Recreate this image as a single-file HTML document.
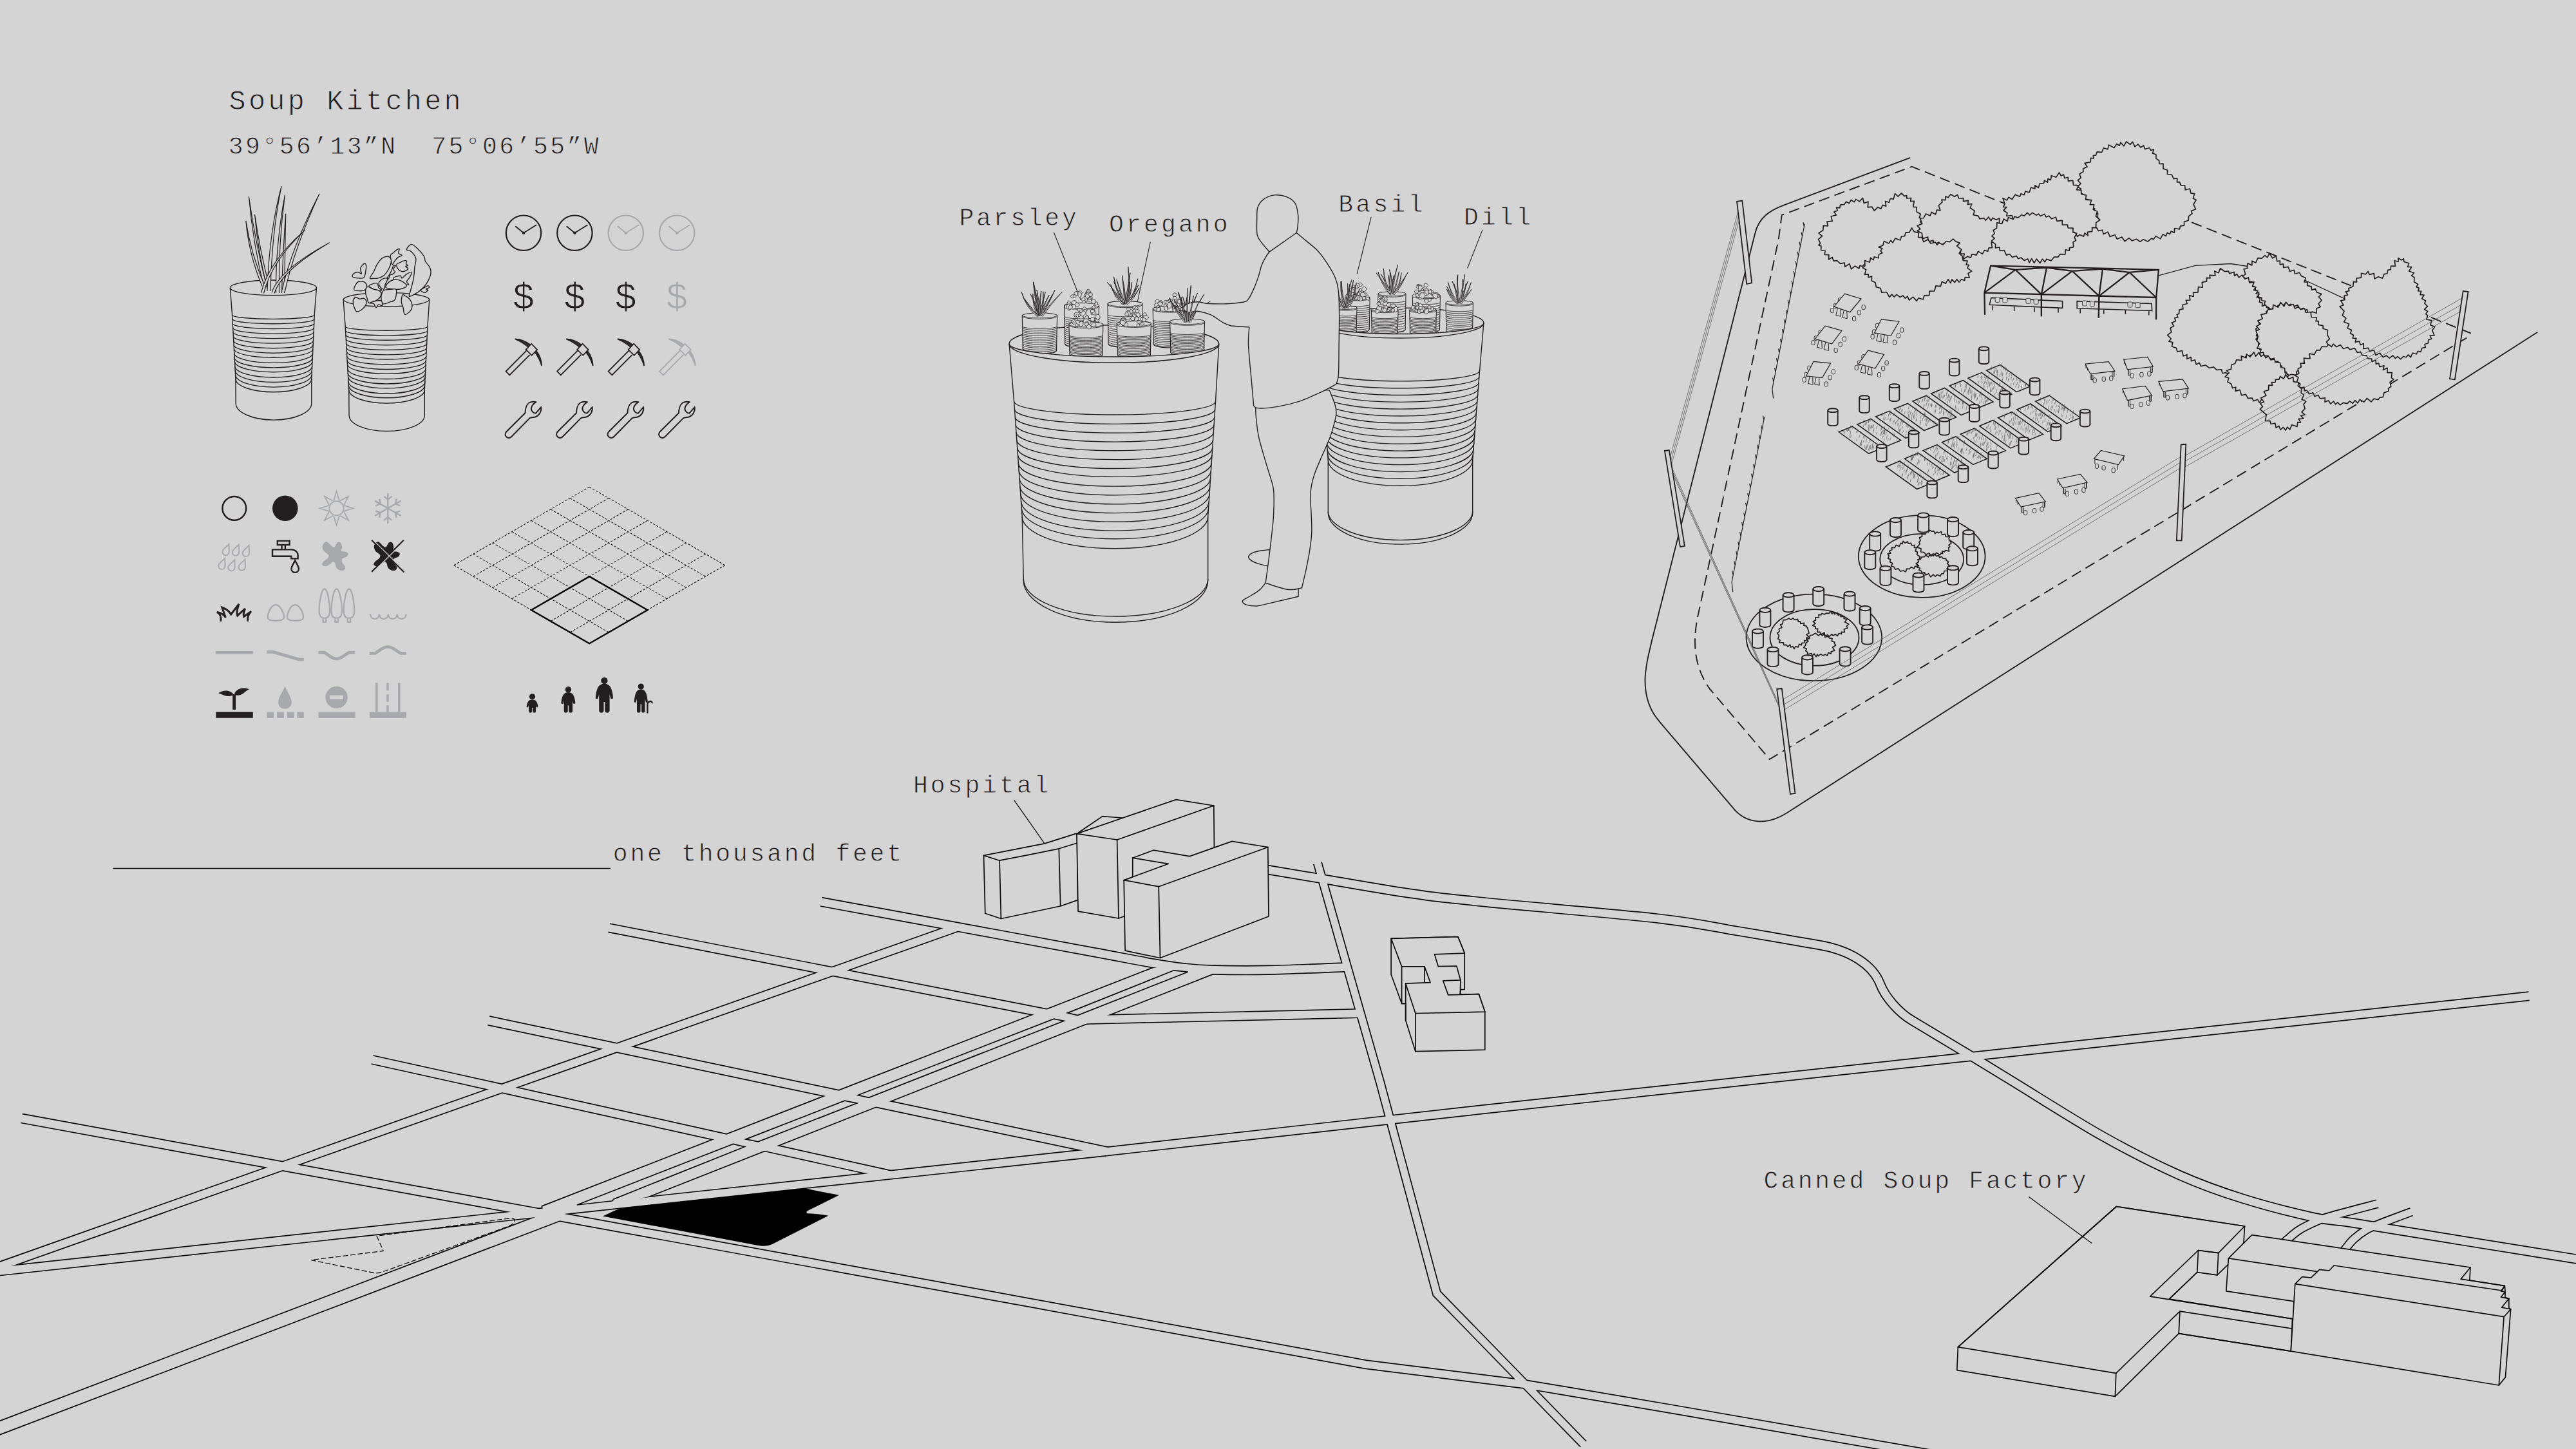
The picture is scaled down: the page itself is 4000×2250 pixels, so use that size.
<!DOCTYPE html>
<html><head><meta charset="utf-8"><title>Soup Kitchen</title>
<style>
html,body{margin:0;padding:0;background:#d4d4d4;overflow:hidden;width:4000px;height:2250px;}
svg{display:block;}
text{font-family:"Liberation Mono",monospace;fill:#231f20;}
.s{font-family:"Liberation Sans",sans-serif;}
</style></head><body>
<svg width="4000" height="2250" viewBox="0 0 4000 2250">
<rect width="4000" height="2250" fill="#d4d4d4"/>
<g id="map">
<g fill="none" stroke="#0c0c0c" stroke-linejoin="miter" stroke-linecap="butt">
<path d="M-60 2239.9 L866 1886.6" stroke-width="21.8"/>
<path d="M33.5 1736.6 L852 1886.4" stroke-width="15.8"/>
<path d="M845 1885.1 L1600 2023 L2120.1 2118.6 L2367.1 2149.3 L2426.1 2159.1 L2600 2188.7 L2953 2250 L3020 2261.6" stroke-width="14.8"/>
<path d="M-60 1987.3 L1488 1439.3" stroke-width="15"/>
<path d="M-60 1980.2 L0 1973.7 L870 1879.7" stroke-width="15.4"/>
<path d="M860 1880.8 L1700 1790 L2300 1723 L3300 1614.7 L3927 1546.8" stroke-width="15"/>
<path d="M578 1645.5 L700 1672.5 L1207.5 1785.3 L1383 1824.3" stroke-width="15"/>
<path d="M758.8 1584.8 L1292 1697.7 L1719 1788" stroke-width="15.7"/>
<path d="M945.7 1440.8 L1640 1576.4" stroke-width="15"/>
<path d="M1275 1400.3C1312.5 1407.2 1429.2 1428.7 1500 1441.8C1570.8 1454.9 1651.5 1469.9 1700 1478.9C1748.5 1487.9 1767.7 1491.8 1791 1495.8C1814.3 1499.8 1824.5 1501.3 1840 1503C1855.5 1504.7 1862.5 1505.5 1884 1506C1905.5 1506.5 1934.3 1507 1969 1506.3C2003.7 1505.6 2071.5 1502.5 2092 1501.8" stroke-width="15.4"/>
<path d="M1660 1584 L2112 1573.5" stroke-width="15.2"/>
<path d="M2045.9 1340 L2142.9 1680 L2231 2008.5 L2458.8 2242.5" stroke-width="14.4"/>
<path d="M1940 1345.5C1944.9 1346.4 1951.4 1347.7 1969.2 1350.7C1987 1353.7 2010.8 1357.7 2047.1 1363.7C2083.4 1369.7 2144.7 1380.8 2186.8 1386.9C2229 1393 2235.2 1393.7 2300 1400.3C2364.8 1406.9 2508.7 1418.7 2575.4 1426.3C2642.1 1433.9 2658.7 1439.2 2700 1446C2741.3 1452.8 2802.7 1463.7 2823.2 1467.2C2873.6 1475.5 2908.4 1498.7 2919.6 1528.2C2927.3 1548.4 2948.5 1572.3 2968.8 1584.4L2968.8 1584.4C2982.9 1592.9 3027.3 1619.4 3053.3 1635.2C3079.3 1651 3089.6 1657.4 3125 1679C3160.4 1700.6 3222.4 1740.4 3265.5 1764.6C3308.6 1788.8 3347.5 1808.3 3383.6 1824.4C3419.7 1840.5 3446.8 1850 3481.9 1861C3517 1872 3565.2 1884.2 3594 1890.5C3622.8 1896.8 3620.7 1893.7 3655 1899.1C3689.3 1904.5 3732.5 1911.8 3800 1922.7C3867.5 1933.6 4016.7 1957.6 4060 1964.6" stroke-width="15.4"/>
<path d="M3691.7 1869.2C3679.3 1872.5 3633.5 1884.4 3617.6 1889C3601.7 1893.6 3604.3 1893.2 3596.4 1896.7C3588.5 1900.2 3577.4 1905.3 3570 1910C3562.6 1914.7 3556.9 1920.3 3551.9 1924.6C3546.9 1928.9 3542 1934.1 3540 1936" stroke-width="14"/>
<path d="M3744.5 1881.7C3735.9 1884.9 3704.8 1896.4 3693.1 1901.1C3681.4 1905.8 3680.4 1906 3674.1 1909.8C3667.8 1913.6 3660.2 1919.3 3655 1924C3649.8 1928.7 3646.5 1933.5 3642.7 1938.2C3638.9 1942.9 3633.8 1949.7 3632 1952" stroke-width="14"/>
<path d="M842.3 1873.4 L1791.4 1502.9 L1850 1500 L1888 1506 L1885.5 1511.1 L1004.5 1858.8 L930 1874 L860 1888 L843 1880Z" stroke-width="3.4"/>
</g>
<g fill="none" stroke="#d4d4d4" stroke-linejoin="miter" stroke-linecap="butt">
<path d="M-61.1 2240.3 L-60 2239.9 L866 1886.6 L867.1 1886.2" stroke-width="18.4"/>
<path d="M32.3 1736.4 L33.5 1736.6 L852 1886.4 L853.2 1886.6" stroke-width="12.4"/>
<path d="M843.8 1884.9 L845 1885.1 L1600 2023 L2120.1 2118.6 L2367.1 2149.3 L2426.1 2159.1 L2600 2188.7 L2953 2250 L3020 2261.6 L3021.2 2261.8" stroke-width="11.4"/>
<path d="M-61.1 1987.7 L-60 1987.3 L1488 1439.3 L1489.1 1438.9" stroke-width="11.6"/>
<path d="M-61.2 1980.3 L-60 1980.2 L0 1973.7 L870 1879.7 L871.2 1879.6" stroke-width="12"/>
<path d="M858.8 1880.9 L860 1880.8 L1700 1790 L2300 1723 L3300 1614.7 L3927 1546.8 L3928.2 1546.7" stroke-width="11.6"/>
<path d="M576.8 1645.2 L578 1645.5 L700 1672.5 L1207.5 1785.3 L1383 1824.3 L1384.2 1824.6" stroke-width="11.6"/>
<path d="M757.6 1584.6 L758.8 1584.8 L1292 1697.7 L1719 1788 L1720.2 1788.2" stroke-width="12.3"/>
<path d="M944.5 1440.6 L945.7 1440.8 L1640 1576.4 L1641.2 1576.6" stroke-width="11.6"/>
<path d="M1273.8 1400.1 L1275 1400.3C1312.5 1407.2 1429.2 1428.7 1500 1441.8C1570.8 1454.9 1651.5 1469.9 1700 1478.9C1748.5 1487.9 1767.7 1491.8 1791 1495.8C1814.3 1499.8 1824.5 1501.3 1840 1503C1855.5 1504.7 1862.5 1505.5 1884 1506C1905.5 1506.5 1934.3 1507 1969 1506.3C2003.7 1505.6 2071.5 1502.5 2092 1501.8 L2093.2 1501.8" stroke-width="12"/>
<path d="M1658.8 1584 L1660 1584 L2112 1573.5 L2113.2 1573.5" stroke-width="11.8"/>
<path d="M2045.6 1338.8 L2045.9 1340 L2142.9 1680 L2231 2008.5 L2458.8 2242.5 L2459.6 2243.4" stroke-width="11"/>
<path d="M1940 1345.5C1944.9 1346.4 1951.4 1347.7 1969.2 1350.7C1987 1353.7 2010.8 1357.7 2047.1 1363.7C2083.4 1369.7 2144.7 1380.8 2186.8 1386.9C2229 1393 2235.2 1393.7 2300 1400.3C2364.8 1406.9 2508.7 1418.7 2575.4 1426.3C2642.1 1433.9 2658.7 1439.2 2700 1446C2741.3 1452.8 2802.7 1463.7 2823.2 1467.2C2873.6 1475.5 2908.4 1498.7 2919.6 1528.2C2927.3 1548.4 2948.5 1572.3 2968.8 1584.4L2968.8 1584.4C2982.9 1592.9 3027.3 1619.4 3053.3 1635.2C3079.3 1651 3089.6 1657.4 3125 1679C3160.4 1700.6 3222.4 1740.4 3265.5 1764.6C3308.6 1788.8 3347.5 1808.3 3383.6 1824.4C3419.7 1840.5 3446.8 1850 3481.9 1861C3517 1872 3565.2 1884.2 3594 1890.5C3622.8 1896.8 3620.7 1893.7 3655 1899.1C3689.3 1904.5 3732.5 1911.8 3800 1922.7C3867.5 1933.6 4016.7 1957.6 4060 1964.6" stroke-width="12"/>
<path d="M3692.9 1868.9 L3691.7 1869.2C3679.3 1872.5 3633.5 1884.4 3617.6 1889C3601.7 1893.6 3604.3 1893.2 3596.4 1896.7C3588.5 1900.2 3577.4 1905.3 3570 1910C3562.6 1914.7 3556.9 1920.3 3551.9 1924.6C3546.9 1928.9 3542 1934.1 3540 1936 L3539.1 1936.8" stroke-width="10.6"/>
<path d="M3745.6 1881.3 L3744.5 1881.7C3735.9 1884.9 3704.8 1896.4 3693.1 1901.1C3681.4 1905.8 3680.4 1906 3674.1 1909.8C3667.8 1913.6 3660.2 1919.3 3655 1924C3649.8 1928.7 3646.5 1933.5 3642.7 1938.2C3638.9 1942.9 3633.8 1949.7 3632 1952 L3631.3 1952.9" stroke-width="10.6"/>
<path d="M842.3 1873.4 L1791.4 1502.9 L1850 1500 L1888 1506 L1885.5 1511.1 L1004.5 1858.8 L930 1874 L860 1888 L843 1880Z" fill="#d4d4d4" stroke="none"/>
</g>
<g fill="#d4d4d4" stroke="#0c0c0c" stroke-width="1.7" stroke-linejoin="miter">
<path d="M895.9 1871 L1138.6 1776.4 L1156.3 1780.7 L952.5 1862.1 L951 1864.8Z"/>
<path d="M1158.3 1768.9 L1311.7 1709.1 L1330.6 1713.1 L1177.2 1772.9Z"/>
<path d="M1332.2 1700.5 L1636.3 1582.1 L1652 1585.2 L1349.1 1704.4Z"/>
<path d="M1657.7 1572.9 L1822.9 1506.8 L1844.5 1509.2 L1673.4 1576.5Z"/>
</g>
<path d="M936 1888.5 C950 1882 958 1877 972 1875 L1242.9 1846 C1252 1845.5 1256 1846.5 1262.5 1848 L1303 1855.8 L1254.7 1879.8 C1251 1882 1252 1884 1256 1884.3 C1266 1884.5 1276 1886 1286.2 1887.7 L1199.6 1931.8 C1192 1935.5 1184 1935.5 1172 1933 Z" fill="#000"/>
<path d="M585 1919.2 L595.2 1942.4 L483.1 1956.6 L578 1976 Q586 1978 594 1975 L790 1904 Q802 1899 798 1892.5 L790 1892 Z" fill="none" stroke="#0c0c0c" stroke-width="1.3" stroke-dasharray="8 3.5"/>
<path d="M175.5 1348.5 H948" stroke="#0c0c0c" stroke-width="1.4" fill="none"/>
</g>
<g id="buildings">
<g fill="#d4d4d4" stroke="#0c0c0c" stroke-width="1.7" stroke-linejoin="round" stroke-linecap="round">
<path d="M1674.8 1292.7 L1711.9 1267.6 L1742.9 1270 L1760 1300 L1690 1320Z"/>
<path d="M1527.5 1328.4 L1622 1309.9 L1672.5 1293.9 L1673.6 1397.6 L1646.7 1407 Q1600 1417 1554.4 1426.5 L1529.8 1418.3 Z"/>
<path d="M1527.5 1328.4 L1552.1 1336.2 Q1600 1327 1644.3 1317.8 L1672 1309.2" fill="none"/>
<path d="M1552.1 1336.2 L1554.4 1426.5" fill="none"/>
<path d="M1644.3 1317.8 L1646.7 1407" fill="none"/>
<path d="M1672 1294.6 L1826.2 1241.6 L1884.8 1251 L1886 1370 L1745.2 1423 L1737 1426 L1674.1 1415.2Z"/>
<path d="M1672 1294.6 L1734.6 1304 L1884.8 1251" fill="none"/>
<path d="M1734.6 1304 L1737 1426" fill="none"/>
<path d="M1758.8 1332.2 L1791 1320.2 L1847.3 1329.6 L1913 1306.4 L1968.8 1315.5 L1970 1423 L1801.5 1487.5 L1747.1 1476.2 L1745.2 1366.7 L1758.8 1361.7Z"/>
<path d="M1758.8 1332.2 L1814.4 1341.3 L1745.2 1366.7" fill="none"/>
<path d="M1745.2 1366.7 L1799.2 1376.7 L1968.8 1315.5" fill="none"/>
<path d="M1799.2 1376.7 L1801.5 1487.5" fill="none"/>
<path d="M2160.1 1457.3 L2263.9 1454.6 L2274.2 1480.1 L2274.2 1536.3 L2267.9 1536.7 L2267.4 1544.2 L2296.3 1543.6 L2305.8 1571.2 L2305.8 1630.1 L2197.9 1632.7 L2182.7 1584.6 L2182.7 1558.3 L2176.6 1558.3 L2160.1 1513.2Z"/>
<path d="M2160.1 1457.3 L2263.9 1454.6 L2274.2 1480.1 L2227.6 1481.9 L2233.2 1500.6 L2261.8 1500.1 L2267.9 1521.9 L2240.8 1522.9 L2248.7 1544.9 L2296.3 1543.6 L2305.8 1571.2 L2197.9 1573.5 L2182.7 1527.2 L2221.1 1525.7 L2212 1500.9 L2176.6 1500.9Z"/>
<path d="M2176.6 1500.9 L2176.6 1558.3" fill="none"/>
<path d="M2182.7 1527.2 L2182.7 1584.6" fill="none"/>
<path d="M2197.9 1573.5 L2197.9 1632.7" fill="none"/>
<path d="M2212 1500.9 L2212 1526" fill="none"/>
<path d="M2267.9 1521.9 L2267.4 1544.2" fill="none"/>
<path d="M2182.7 1558.3 L2176.6 1558.3" fill="none"/>
<path d="M3040.4 2091.7 L3286.3 1873.5 L3485.5 1904 L3484 1929.8 L3459.9 1963.3 L3443 1979.8 L3411.8 1975.5 L3368.4 2017.1 L3559.6 2047.8 L3557.3 2098.2 L3383.2 2070.6 L3284.4 2168.4 L3038.8 2127.6Z"/>
<path d="M3413.5 1941.5 L3444.7 1945.7 L3443 1979.8 L3411.8 1975.5Z"/>
<path d="M3411.8 1975.5 L3368.4 2017.1" fill="none"/>
<path d="M3444.7 1945.7 L3485.5 1904" fill="none"/>
<path d="M3040.4 2091.7 L3286.3 1873.5 L3485.5 1904" fill="none"/>
<path d="M3413.5 1941.5 L3444.7 1945.7" fill="none"/>
<path d="M3413.5 1941.5 L3338.6 2013.1 L3559.6 2047.8" fill="none"/>
<path d="M3384.9 2036.1 L3558.4 2063" fill="none"/>
<path d="M3285.8 2132.3 L3384.9 2036.1 L3383.2 2070.6" fill="none"/>
<path d="M3040.4 2091.7 L3285.8 2132.3 L3284.4 2168.4" fill="none"/>
<path d="M3383.2 2070.6 L3557.3 2098.2" fill="none"/>
<path d="M3460.4 1953.9 L3496.7 1917.6 L3836 1968 L3834.8 1988 L3889.3 1996.6 L3889.3 2010 L3563 2025 L3560.8 2020.6 L3456.8 2004.9Z"/>
<path d="M3460.4 1953.9 L3597.2 1974.4" fill="none"/>
<path d="M3836 1968 L3821.2 1986.1 L3889.3 1996.6" fill="none"/>
<path d="M3563.8 1993.6 L3574.9 1982.6 L3588.5 1984.2 L3601.8 1971.3 L3616.6 1973.2 L3624.1 1965 L3885 2004 L3889.3 1996.6 L3890 2006 L3890 2014.5 L3895.8 2016.6 L3895.8 2030.7 L3898.6 2033 L3890.4 2138.6 L3880.3 2151 L3557.3 2098.2Z"/>
<path d="M3563.8 1993.6 L3888.1 2044.7 L3898.6 2033" fill="none"/>
<path d="M3888.1 2044.7 L3880.3 2151" fill="none"/>
<path d="M3889.3 1996.6 L3883.4 2004.9 L3890 2006" fill="none"/>
<path d="M3890 2006 L3883.4 2014.2 L3895.8 2016.6" fill="none"/>
<path d="M3895.8 2016.6 L3884.6 2030.2 L3898.6 2033" fill="none"/>
</g>
<g stroke="#0c0c0c" stroke-width="1.3" fill="none"><path d="M1574.6 1242.3L1622 1309.9"/><path d="M3150.2 1858.2L3248.1 1930.5"/></g>
</g>
<g id="text">
<text x="355.6" y="170.3" font-size="43.5" letter-spacing="4.25" stroke="#d4d4d4" stroke-width="0.9" xml:space="preserve">Soup Kitchen</text>
<text x="354.8" y="239.1" font-size="38" letter-spacing="3.48" stroke="#d4d4d4" stroke-width="0.8" xml:space="preserve">39°56’13”N  75°06’55”W</text>
<text x="1489.4" y="350.3" font-size="38" letter-spacing="3.79" stroke="#d4d4d4" stroke-width="0.8" xml:space="preserve">Parsley</text>
<text x="1722" y="360.4" font-size="38" letter-spacing="4.17" stroke="#d4d4d4" stroke-width="0.8" xml:space="preserve">Oregano</text>
<text x="2078.2" y="329" font-size="38" letter-spacing="4.33" stroke="#d4d4d4" stroke-width="0.8" xml:space="preserve">Basil</text>
<text x="2273.1" y="348.5" font-size="38" letter-spacing="4.22" stroke="#d4d4d4" stroke-width="0.8" xml:space="preserve">Dill</text>
<text x="1418.1" y="1231.2" font-size="38" letter-spacing="3.96" stroke="#d4d4d4" stroke-width="0.8" xml:space="preserve">Hospital</text>
<text x="951.8" y="1336.8" font-size="38" letter-spacing="3.78" stroke="#d4d4d4" stroke-width="0.8" xml:space="preserve">one thousand feet</text>
<text x="2738.6" y="1844.8" font-size="38" letter-spacing="3.76" stroke="#d4d4d4" stroke-width="0.8" xml:space="preserve">Canned Soup Factory</text>
</g>
<g id="cans">
<path d="M357.3 446.8 A67.1 11.8 0 0 1 491.5 446.8 L488.4 486.4 L483.8 588.3 L483.8 626.2 A58.8 25.9 0 0 1 366.2 626.2 L365.9 588.3 L360.4 486.4 L357.3 446.8Z" fill="#d4d4d4" stroke="#231f20" stroke-width="1.4" stroke-linejoin="round"/>
<path d="M357.3 446.8 A67.1 11.8 0 0 0 491.5 446.8" fill="none" stroke="#231f20" stroke-width="1.4"/>
<path d="M360.5 489 A63.9 6.4 0 0 0 488.3 489M360.9 495.7 A63.6 7.3 0 0 0 488 495.7M361.2 502.3 A63.2 8.2 0 0 0 487.7 502.3M361.6 508.9 A62.9 9.2 0 0 0 487.4 508.9M361.9 515.5 A62.6 10.1 0 0 0 487.1 515.5M362.3 522.1 A62.2 11 0 0 0 486.8 522.1M362.7 528.7 A61.9 12 0 0 0 486.5 528.7M363 535.3 A61.6 12.9 0 0 0 486.2 535.3M363.4 542 A61.3 13.8 0 0 0 485.9 542M363.7 548.6 A60.9 14.8 0 0 0 485.6 548.6M364.1 555.2 A60.6 15.7 0 0 0 485.3 555.2M364.5 561.8 A60.3 16.6 0 0 0 485 561.8M364.8 568.4 A59.9 17.6 0 0 0 484.7 568.4M365.2 575 A59.6 18.5 0 0 0 484.4 575M365.5 581.7 A59.3 19.4 0 0 0 484.1 581.7M365.9 588.3 A58.9 20.4 0 0 0 483.8 588.3" fill="none" stroke="#231f20" stroke-width="1.4"/>
<path d="M415.1 448.4 Q396.8 379.5 386.4 305.2 Q393.2 380.5 410.7 449.6" fill="#d4d4d4" stroke="#231f20" stroke-width="1.2" stroke-linejoin="miter" stroke-miterlimit="10"/>
<path d="M410.8 443.2 Q389.5 394.3 381.8 342.9 Q386.5 395.7 407.2 444.8" fill="#d4d4d4" stroke="#231f20" stroke-width="1.2" stroke-linejoin="miter" stroke-miterlimit="10"/>
<path d="M418.4 445.5 Q403.6 389.6 395.6 333.1 Q400.4 390.4 414.6 446.5" fill="#d4d4d4" stroke="#231f20" stroke-width="1.2" stroke-linejoin="miter" stroke-miterlimit="10"/>
<path d="M420 452.1 Q422.1 360.1 437.1 289.2 Q417.9 359.9 415 451.9" fill="#d4d4d4" stroke="#231f20" stroke-width="1.2" stroke-linejoin="miter" stroke-miterlimit="10"/>
<path d="M433.5 455 Q432.1 380 442.4 302.6 Q427.9 380 428.5 455" fill="#d4d4d4" stroke="#231f20" stroke-width="1.2" stroke-linejoin="miter" stroke-miterlimit="10"/>
<path d="M441.5 455 Q442.7 390 443.7 331.8 Q439.3 390 437.5 455" fill="#d4d4d4" stroke="#231f20" stroke-width="1.2" stroke-linejoin="miter" stroke-miterlimit="10"/>
<path d="M442.4 452.5 Q457 385.5 495.9 301 Q453 384.5 437.6 451.5" fill="#d4d4d4" stroke="#231f20" stroke-width="1.2" stroke-linejoin="miter" stroke-miterlimit="10"/>
<path d="M409.5 455.5 Q421.7 405.4 473.6 357.4 Q418.3 404.6 405.5 454.5" fill="#d4d4d4" stroke="#231f20" stroke-width="1.2" stroke-linejoin="miter" stroke-miterlimit="10"/>
<path d="M426 455.6 Q436.7 420.5 511.6 376.8 Q433.3 419.5 422 454.4" fill="#d4d4d4" stroke="#231f20" stroke-width="1.2" stroke-linejoin="miter" stroke-miterlimit="10"/>
<path d="M533.1 465.2 A66.9 11.3 0 0 1 666.8 465.2 L664 505.9 L659.3 605.3 L659.3 644.9 A58.6 24.6 0 0 1 542.1 644.9 L541.7 605.3 L536.1 505.9 L533.1 465.2Z" fill="#d4d4d4" stroke="#231f20" stroke-width="1.4" stroke-linejoin="round"/>
<path d="M533.1 465.2 A66.9 11.3 0 0 0 666.8 465.2" fill="none" stroke="#231f20" stroke-width="1.4"/>
<path d="M536.2 506.9 A63.9 6.4 0 0 0 664 506.9M536.5 513.5 A63.6 7.4 0 0 0 663.7 513.5M536.9 520 A63.2 8.3 0 0 0 663.4 520M537.3 526.6 A62.9 9.3 0 0 0 663.1 526.6M537.6 533.2 A62.6 10.2 0 0 0 662.8 533.2M538 539.7 A62.2 11.2 0 0 0 662.4 539.7M538.4 546.3 A61.9 12.2 0 0 0 662.1 546.3M538.7 552.9 A61.5 13.1 0 0 0 661.8 552.9M539.1 559.4 A61.2 14.1 0 0 0 661.5 559.4M539.5 566 A60.9 15 0 0 0 661.2 566M539.8 572.5 A60.5 16 0 0 0 660.9 572.5M540.2 579.1 A60.2 16.9 0 0 0 660.6 579.1M540.6 585.7 A59.9 17.9 0 0 0 660.3 585.7M540.9 592.2 A59.5 18.8 0 0 0 660 592.2M541.3 598.8 A59.2 19.8 0 0 0 659.6 598.8M541.7 605.3 A58.8 20.8 0 0 0 659.3 605.3" fill="none" stroke="#231f20" stroke-width="1.4"/>
<g fill="#d4d4d4" stroke="#231f20" stroke-width="1.4" stroke-linejoin="round">
<path d="M639 379.4C642 379.3 646.1 384 649.3 387C652.5 390.1 656.4 394.7 658.3 397.8C660.2 401 659 403 660.5 405.9C662 408.7 665.8 411.9 667.3 414.9C668.7 417.8 669.3 420.5 669.1 423.8C668.8 427.1 667.1 431.2 665.5 434.6C663.8 438 661.9 441.3 659.2 444.5C656.5 447.6 653.2 450.8 649.3 453.4C645.4 456 637.8 460.6 635.9 460.2C633.9 459.7 636.6 455.3 637.7 450.7C638.7 446.2 641.1 438.8 642.1 432.8C643.2 426.8 643.3 420.1 643.9 414.9C644.5 409.6 646.6 405.4 645.7 401.4C644.8 397.4 640.9 393 638.5 390.6C636.2 388.3 631.3 389.4 631.4 387.5C631.4 385.6 636 379.5 639 379.4Z"/>
<path d="M652.9 450.7C652.8 449.5 656.3 448.3 658.3 447.2C660.2 446 663.2 443.7 664.6 443.6C665.9 443.4 666.8 445.4 666.4 446.3C665.9 447.2 662.2 448.2 661.9 448.9C661.6 449.7 665 449.8 664.6 450.7C664.1 451.6 661.1 454.3 659.2 454.3C657.2 454.3 653.1 451.9 652.9 450.7Z"/>
<path d="M606.3 396.9C606.6 393.9 609.1 393.9 610.7 392.4C612.4 390.9 614.6 388.9 616.1 387.9C617.7 387 619.7 385.7 620.2 386.6C620.6 387.5 618.1 391.7 618.8 393.3C619.5 395 624.3 395.4 624.2 396.5C624 397.5 619.9 398 617.9 399.6C616 401.2 614 404.1 612.5 405.9C611 407.7 610 411.9 608.9 410.4C607.9 408.9 606 399.9 606.3 396.9Z"/>
<path d="M616.6 409.5C617.5 408.4 620.1 408.4 621.5 407.7C622.9 407 623.4 405.9 625.1 405.4C626.7 405 630.5 404.3 631.4 405C632.3 405.7 630.2 408.3 630.5 409.5C630.8 410.7 633.3 411.4 633.2 412.2C633 412.9 629.5 413.2 629.6 414C629.7 414.7 633.5 415.6 633.6 416.6C633.8 417.7 632 419.4 630.5 420.2C628.9 421.1 626.1 421.9 624.2 421.6C622.3 421.3 620.2 419.7 618.8 418.4C617.5 417.2 616.5 415.5 616.1 414C615.7 412.5 615.7 410.5 616.6 409.5Z"/>
<path d="M610.7 431.9C611 429.8 619.3 428.3 621.5 428.3C623.7 428.3 622.6 432.3 624.2 431.9C625.8 431.5 628.8 427.2 631.4 425.6C633.9 424.1 638.7 421.6 639.4 422.5C640.2 423.4 637.2 428.5 635.9 431C634.5 433.5 631.7 435.5 631.4 437.3C631.1 439.1 636 441.2 634.1 441.8C632.1 442.4 623.6 442.5 619.7 440.9C615.8 439.2 610.4 434 610.7 431.9Z"/>
<path d="M608 420.2C609.1 418 609.7 414.4 610.7 413.1C611.8 411.7 614.3 411.3 614.3 412.2C614.3 413.1 610.9 416.8 610.7 418.4C610.6 420.1 613.6 420.8 613.4 422C613.3 423.2 611.2 424.7 609.8 425.6C608.5 426.5 606.4 426.2 605.4 427.4C604.3 428.6 604.3 432 603.6 432.8C602.8 433.5 600.7 432.9 600.9 431.9C601 430.9 603.3 428.5 604.5 426.5C605.7 424.6 607 422.5 608 420.2Z"/>
<path d="M574.4 431.9C574.4 430.2 578.4 425.6 580.2 422C582.1 418.4 583.5 413.8 585.6 410.4C587.7 406.9 590.3 403.4 592.8 401.4C595.3 399.4 598.6 398.4 600.9 398.3C603.1 398.1 605.2 398.9 606.3 400.5C607.3 402.1 607.6 404.8 607.2 407.7C606.7 410.5 605.4 414.3 603.6 417.5C601.8 420.8 599.1 425 596.4 427.4C593.7 429.8 590.1 431.1 587.4 431.9C584.7 432.7 582.4 432.3 580.2 432.3C578.1 432.3 574.4 433.6 574.4 431.9Z"/>
<path d="M547.5 429.7C546.2 428.5 547.9 425.9 549.3 424.7C550.7 423.5 554 422.4 556 422.5C558 422.6 560.8 426.1 561.4 425.2C562 424.2 558.9 419.3 559.6 416.6C560.3 414 563.9 410.2 565.4 409.5C566.9 408.7 568.2 410.1 568.6 412.2C568.9 414.3 568.3 418.9 567.7 422C567.1 425.2 566.8 429.4 565 431C563.2 432.6 559.8 432.1 556.9 431.9C554 431.7 548.8 430.9 547.5 429.7Z"/>
<path d="M588.3 439.1C588.9 436.8 592.3 433.8 594.6 432.8C596.8 431.8 601.2 431.3 601.8 432.8C602.4 434.3 599.1 439.1 598.2 441.8C597.3 444.5 597.6 448.2 596.4 448.9C595.2 449.7 592.3 447.9 591 446.3C589.7 444.6 587.7 441.3 588.3 439.1Z"/>
<path d="M573.1 444.5C572.2 442.8 576.4 441.6 578.4 440.9C580.5 440.1 584 438.9 585.6 440C587.3 441 587.1 445.4 588.3 447.2C589.5 448.9 593.5 450.1 592.8 450.7C592 451.3 587.1 451.8 583.8 450.7C580.5 449.7 574 446.1 573.1 444.5Z"/>
<path d="M549.7 449.8C549 448.2 551.2 443.9 552.4 441.8C553.6 439.7 554.7 437.9 556.9 437.3C559.2 436.7 563.8 437 565.9 438.2C568 439.4 569.5 442.4 569.5 444.5C569.5 446.6 568 449.5 565.9 450.7C563.8 451.9 559.6 451.8 556.9 451.6C554.2 451.5 550.5 451.5 549.7 449.8Z"/>
<path d="M599.1 446.3C598.3 444.8 600.3 441.8 601.8 440C603.3 438.2 605.7 436.5 608 435.5C610.4 434.5 613.3 433.8 616.1 434.1C619 434.4 622.6 435.7 625.1 437.3C627.6 438.9 631.4 441.8 631.4 443.6C631.4 445.4 627.8 447.1 625.1 448C622.4 449 618.4 449.3 615.2 449.4C612.1 449.5 608.9 449 606.3 448.5C603.6 448 599.8 447.7 599.1 446.3Z"/>
<path d="M592.8 456.1C593.5 453.9 594.1 451.9 596.4 450.7C598.6 449.6 603.1 449.5 606.3 449.4C609.4 449.2 614 447.2 615.2 449.8C616.4 452.5 614.9 462 613.4 465.1C611.9 468.2 609.4 467.6 606.3 468.7C603.1 469.8 597 472.6 594.6 471.8C592.2 471.1 592.2 466.8 591.9 464.2C591.6 461.6 592 458.4 592.8 456.1Z"/>
<path d="M568.6 447.2C569.3 445.5 570.4 445.1 572.2 445.4C574 445.7 576.8 448 579.3 448.9C581.9 449.8 585.3 449.7 587.4 450.7C589.5 451.8 591.5 453.4 591.9 455.2C592.3 457 591.5 459.6 590.1 461.5C588.8 463.4 586.7 465.4 583.8 466.9C581 468.4 575.3 470.9 573.1 470.5C570.8 470 571.3 466.7 570.4 464.2C569.5 461.7 568 458.1 567.7 455.2C567.4 452.4 567.8 448.8 568.6 447.2Z"/>
<path d="M574.9 470.5C574.3 471.1 578.7 470.2 580.2 471.4C581.7 472.6 582.6 477.4 583.8 477.7C585 478 585.8 473.8 587.4 473.2C589.1 472.6 592.9 475.1 593.7 474.1C594.4 473 593.5 468 591.9 466.9C590.3 465.8 586.7 466.7 583.8 467.3C581 467.9 575.5 469.8 574.9 470.5Z"/>
<path d="M548.8 465.1C549.5 463.6 550.8 461.7 552.4 461.5C554.1 461.4 556.6 463.9 558.7 464.2C560.8 464.5 563.3 462.7 565 463.3C566.7 463.9 568.6 466 569 467.8C569.5 469.6 568.8 472 567.7 474.1C566.6 476.2 564.5 478.7 562.3 480.3C560.1 482 556.2 484.4 554.2 483.9C552.2 483.5 551.2 479.9 550.2 477.7C549.2 475.4 548.6 472.6 548.4 470.5C548.2 468.4 548.2 466.6 548.8 465.1Z"/>
<path d="M625.1 457.9C626.1 456.4 627.8 458.7 629.6 459.7C631.4 460.8 634.1 462 635.9 464.2C637.6 466.4 639.6 470.2 639.9 473.2C640.2 476.2 639.5 479.6 637.7 482.1C635.8 484.7 630.6 489.2 628.7 488.4C626.7 487.7 626.9 480.9 626 477.7C625.1 474.4 623.4 472 623.3 468.7C623.1 465.4 624 459.4 625.1 457.9Z"/>
</g>
<path d="M915.2 756.2L704.7 877.7M915.2 756.2L1125.7 877.7M945.3 773.6L734.8 895.1M885.1 773.6L1095.6 895.1M975.3 790.9L764.9 912.4M855.1 790.9L1065.6 912.4M1005.4 808.3L794.9 929.8M825 808.3L1035.5 929.8M1035.5 825.6L825 947.2M794.9 825.6L1005.4 947.2M1065.5 843L855.1 964.5M764.9 843L975.3 964.5M1095.6 860.4L885.1 981.9M734.8 860.4L945.3 981.9M1125.7 877.7L915.2 999.2M704.7 877.7L915.2 999.2" fill="none" stroke="#231f20" stroke-width="1.1" stroke-dasharray="3.4 2.3"/>
<path d="M915.2 999.2L825 947.2L915.2 895.1L1005.4 947.2Z" fill="none" stroke="#000" stroke-width="2.4" stroke-linejoin="miter"/>
<circle cx="826.5" cy="1081.8" r="4.6" fill="#231f20"/>
<path d="M826.5 1086.4 C832.1 1086.4 834.4 1089.4 835.4 1097.1 Q835.4 1098.5 834 1098.5 Q832.6 1098.5 832.6 1097.1 L832.1 1094.9 L832.1 1104.3 Q832.1 1106.8 829.6 1106.8 Q827.1 1106.8 827.1 1104.3 L827.1 1098.9 L826.5 1098.9 Z M826.5 1086.4 C821 1086.4 818.7 1089.4 817.6 1097.1 Q817.6 1098.5 819 1098.5 Q820.4 1098.5 820.4 1097.1 L821 1094.9 L821 1104.3 Q821 1106.8 823.5 1106.8 Q826 1106.8 826 1104.3 L826 1098.9 L826.5 1098.9 Z" fill="#231f20"/>
<circle cx="882.4" cy="1070.8" r="4.7" fill="#231f20"/>
<path d="M882.4 1075 C889.2 1075 892.1 1079.5 893.4 1091.3 Q893.4 1093.1 891.6 1093.1 Q889.8 1093.1 889.8 1091.3 L889.1 1087.7 L889.1 1103.8 Q889.1 1106.8 886.1 1106.8 Q883.1 1106.8 883.1 1103.8 L883.1 1095.4 L882.4 1095.4 Z M882.4 1075 C875.6 1075 872.7 1079.5 871.4 1091.3 Q871.4 1093.1 873.2 1093.1 Q875 1093.1 875 1091.3 L875.7 1087.7 L875.7 1103.8 Q875.7 1106.8 878.7 1106.8 Q881.7 1106.8 881.7 1103.8 L881.7 1095.4 L882.4 1095.4 Z" fill="#231f20"/>
<circle cx="938.4" cy="1057" r="5.2" fill="#231f20"/>
<path d="M938.4 1061.7 C946.9 1061.7 950.4 1067.5 952.1 1082.9 Q952.1 1085.1 949.9 1085.1 Q947.8 1085.1 947.8 1082.9 L946.6 1078.1 L946.6 1103.1 Q946.6 1106.8 942.9 1106.8 Q939.3 1106.8 939.3 1103.1 L939.3 1090 L938.4 1090 Z M938.4 1061.7 C929.9 1061.7 926.4 1067.5 924.7 1082.9 Q924.7 1085.1 926.9 1085.1 Q929 1085.1 929 1082.9 L930.2 1078.1 L930.2 1103.1 Q930.2 1106.8 933.8 1106.8 Q937.5 1106.8 937.5 1103.1 L937.5 1090 L938.4 1090 Z" fill="#231f20"/>
<circle cx="995.3" cy="1066.1" r="4.6" fill="#231f20"/>
<path d="M995.3 1070.6 C1001.8 1070.6 1004.5 1075.7 1005.8 1089.3 Q1005.8 1090.9 1004.2 1090.9 Q1002.6 1090.9 1002.6 1089.3 L1001.5 1084.8 L1001.5 1104.1 Q1001.5 1106.8 998.8 1106.8 Q996.1 1106.8 996.1 1104.1 L996.1 1093.6 L995.3 1093.6 Z M995.3 1070.6 C988.7 1070.6 986 1075.7 984.7 1089.3 Q984.7 1090.9 986.3 1090.9 Q987.9 1090.9 987.9 1089.3 L989 1084.8 L989 1104.1 Q989 1106.8 991.7 1106.8 Q994.5 1106.8 994.5 1104.1 L994.5 1093.6 L995.3 1093.6 Z" fill="#231f20"/>
<path d="M1005.4 1106.5 L1005.4 1093.6 C1005.4 1089.1 1012.4 1087.1 1012.6 1091.3" fill="none" stroke="#231f20" stroke-width="2.4" stroke-linecap="round"/>
</g>
<g id="icons">
<g stroke="#231f20" fill="none" stroke-linecap="round"><circle cx="813" cy="361.7" r="27.2" stroke-width="2.2"/><path d="M800.9 351.7 L813 361.7 L832.6 349.6" stroke-width="1.8"/><circle cx="813" cy="361.7" r="2.3" fill="#231f20" stroke="none"/></g>
<g stroke="#231f20" fill="none" stroke-linecap="round"><circle cx="892.4" cy="361.7" r="27.2" stroke-width="2.2"/><path d="M880.3 351.7 L892.4 361.7 L912 349.6" stroke-width="1.8"/><circle cx="892.4" cy="361.7" r="2.3" fill="#231f20" stroke="none"/></g>
<g stroke="#a7a9ac" fill="none" stroke-linecap="round"><circle cx="971.8" cy="361.7" r="27.2" stroke-width="2.2"/><path d="M959.7 351.7 L971.8 361.7 L991.4 349.6" stroke-width="1.8"/><circle cx="971.8" cy="361.7" r="2.3" fill="#a7a9ac" stroke="none"/></g>
<g stroke="#a7a9ac" fill="none" stroke-linecap="round"><circle cx="1051.2" cy="361.7" r="27.2" stroke-width="2.2"/><path d="M1039.1 351.7 L1051.2 361.7 L1070.8 349.6" stroke-width="1.8"/><circle cx="1051.2" cy="361.7" r="2.3" fill="#a7a9ac" stroke="none"/></g>
<text class="s" x="812.9" y="479.6" font-size="57" text-anchor="middle" fill="#231f20" stroke="#d4d4d4" stroke-width="0.9" style="fill:#231f20">$</text>
<text class="s" x="892.3" y="479.6" font-size="57" text-anchor="middle" fill="#231f20" stroke="#d4d4d4" stroke-width="0.9" style="fill:#231f20">$</text>
<text class="s" x="971.7" y="479.6" font-size="57" text-anchor="middle" fill="#231f20" stroke="#d4d4d4" stroke-width="0.9" style="fill:#231f20">$</text>
<text class="s" x="1051.1" y="479.6" font-size="57" text-anchor="middle" fill="#a7a9ac" stroke="#d4d4d4" stroke-width="0.9" style="fill:#a7a9ac">$</text>
<g transform="translate(775 515)" stroke="#231f20" fill="none" stroke-width="1.8" stroke-linejoin="miter"><path d="M42.5 29.3L10.6 61.6L16.3 67.4L47.7 35.9"/><path d="M41.7 27.8L50.1 18.7L59.2 28L50.7 36.8Z"/><path d="M48.3 20.5C42.3 15.7 35 12.1 24.8 11.5C33 14.8 40 19.5 45.3 23.9" fill="#231f20" fill-opacity="0.9"/><path d="M57.7 30C62.8 36.2 65.8 44.7 66.2 52.9C64 45.2 60.2 38.2 55.8 32" fill="#231f20" fill-opacity="0.9"/></g>
<g transform="translate(854.5 515)" stroke="#231f20" fill="none" stroke-width="1.8" stroke-linejoin="miter"><path d="M42.5 29.3L10.6 61.6L16.3 67.4L47.7 35.9"/><path d="M41.7 27.8L50.1 18.7L59.2 28L50.7 36.8Z"/><path d="M48.3 20.5C42.3 15.7 35 12.1 24.8 11.5C33 14.8 40 19.5 45.3 23.9" fill="#231f20" fill-opacity="0.9"/><path d="M57.7 30C62.8 36.2 65.8 44.7 66.2 52.9C64 45.2 60.2 38.2 55.8 32" fill="#231f20" fill-opacity="0.9"/></g>
<g transform="translate(934 515)" stroke="#231f20" fill="none" stroke-width="1.8" stroke-linejoin="miter"><path d="M42.5 29.3L10.6 61.6L16.3 67.4L47.7 35.9"/><path d="M41.7 27.8L50.1 18.7L59.2 28L50.7 36.8Z"/><path d="M48.3 20.5C42.3 15.7 35 12.1 24.8 11.5C33 14.8 40 19.5 45.3 23.9" fill="#231f20" fill-opacity="0.9"/><path d="M57.7 30C62.8 36.2 65.8 44.7 66.2 52.9C64 45.2 60.2 38.2 55.8 32" fill="#231f20" fill-opacity="0.9"/></g>
<g transform="translate(1013.5 515)" stroke="#a7a9ac" fill="none" stroke-width="1.8" stroke-linejoin="miter"><path d="M42.5 29.3L10.6 61.6L16.3 67.4L47.7 35.9"/><path d="M41.7 27.8L50.1 18.7L59.2 28L50.7 36.8Z"/><path d="M48.3 20.5C42.3 15.7 35 12.1 24.8 11.5C33 14.8 40 19.5 45.3 23.9" fill="#a7a9ac" fill-opacity="0.9"/><path d="M57.7 30C62.8 36.2 65.8 44.7 66.2 52.9C64 45.2 60.2 38.2 55.8 32" fill="#a7a9ac" fill-opacity="0.9"/></g>
<g transform="translate(775 515)" stroke="#231f20" fill="none" stroke-width="2" stroke-linejoin="round"><path d="M40.5 126.2C40.5 120.8 42.3 113.5 46.5 110.5C50 108.5 54 108.5 57.4 109.3C50.7 113.5 47.7 119.6 51.9 124.4C53.5 126.2 55.5 126.8 56.8 126.8L65.2 117.1C66.2 123.2 62.8 129.8 56.8 132.2C53 133.2 50 132.9 47.7 134.1L19.3 163A5.1 5.1 0 0 1 10.9 155.8Z"/></g>
<g transform="translate(854.5 515)" stroke="#231f20" fill="none" stroke-width="2" stroke-linejoin="round"><path d="M40.5 126.2C40.5 120.8 42.3 113.5 46.5 110.5C50 108.5 54 108.5 57.4 109.3C50.7 113.5 47.7 119.6 51.9 124.4C53.5 126.2 55.5 126.8 56.8 126.8L65.2 117.1C66.2 123.2 62.8 129.8 56.8 132.2C53 133.2 50 132.9 47.7 134.1L19.3 163A5.1 5.1 0 0 1 10.9 155.8Z"/></g>
<g transform="translate(934 515)" stroke="#231f20" fill="none" stroke-width="2" stroke-linejoin="round"><path d="M40.5 126.2C40.5 120.8 42.3 113.5 46.5 110.5C50 108.5 54 108.5 57.4 109.3C50.7 113.5 47.7 119.6 51.9 124.4C53.5 126.2 55.5 126.8 56.8 126.8L65.2 117.1C66.2 123.2 62.8 129.8 56.8 132.2C53 133.2 50 132.9 47.7 134.1L19.3 163A5.1 5.1 0 0 1 10.9 155.8Z"/></g>
<g transform="translate(1013.5 515)" stroke="#231f20" fill="none" stroke-width="2" stroke-linejoin="round"><path d="M40.5 126.2C40.5 120.8 42.3 113.5 46.5 110.5C50 108.5 54 108.5 57.4 109.3C50.7 113.5 47.7 119.6 51.9 124.4C53.5 126.2 55.5 126.8 56.8 126.8L65.2 117.1C66.2 123.2 62.8 129.8 56.8 132.2C53 133.2 50 132.9 47.7 134.1L19.3 163A5.1 5.1 0 0 1 10.9 155.8Z"/></g>
<circle cx="363.8" cy="789.3" r="18.4" fill="none" stroke="#231f20" stroke-width="2.5"/>
<circle cx="442.8" cy="789.3" r="19.8" fill="#231f20"/>
<g stroke="#a7a9ac" fill="none" stroke-width="1.8" stroke-linejoin="miter"><circle cx="522.5" cy="789.3" r="11.2"/><path d="M518.1 777.5L522.5 763.3L526.9 777.5M527.7 777.8L540.9 770.9L534 784.1M534.3 784.9L548.5 789.3L534.3 793.7M534 794.5L540.9 807.7L527.7 800.8M526.9 801.1L522.5 815.3L518.1 801.1M517.3 800.8L504.1 807.7L511 794.5M510.7 793.7L496.5 789.3L510.7 784.9M511 784.1L504.1 770.9L517.3 777.8"/></g>
<path d="M602.3 789.3L602.3 765.9M602.3 775.8L596.2 770.7M602.3 775.8L608.4 770.7M602.3 789.3L622.6 777.6M614 782.5L615.4 774.7M614 782.5L621.5 785.3M602.3 789.3L622.6 801M614 796L621.5 793.3M614 796L615.4 803.9M602.3 789.3L602.3 812.7M602.3 802.8L608.4 807.9M602.3 802.8L596.2 807.9M602.3 789.3L582 801M590.6 796L589.2 803.9M590.6 796L583.1 793.3M602.3 789.3L582 777.6M590.6 782.5L583.1 785.3M590.6 782.5L589.2 774.7" stroke="#a7a9ac" stroke-width="2.4" fill="none"/>
<path transform="translate(351.5 854.7) rotate(22) scale(0.9)" d="M0 -11.5C2.5 -5 5.6 -1.5 5.6 3A5.6 5.6 0 0 1 -5.6 3C-5.6 -1.5 -2.5 -5 0 -11.5Z" fill="none" stroke="#a7a9ac" stroke-width="2.1"/>
<path transform="translate(366.9 855.3) rotate(22) scale(0.9)" d="M0 -11.5C2.5 -5 5.6 -1.5 5.6 3A5.6 5.6 0 0 1 -5.6 3C-5.6 -1.5 -2.5 -5 0 -11.5Z" fill="none" stroke="#a7a9ac" stroke-width="2.1"/>
<path transform="translate(382.8 856.6) rotate(22) scale(0.9)" d="M0 -11.5C2.5 -5 5.6 -1.5 5.6 3A5.6 5.6 0 0 1 -5.6 3C-5.6 -1.5 -2.5 -5 0 -11.5Z" fill="none" stroke="#a7a9ac" stroke-width="2.1"/>
<path transform="translate(345.2 876.5) rotate(22) scale(0.9)" d="M0 -11.5C2.5 -5 5.6 -1.5 5.6 3A5.6 5.6 0 0 1 -5.6 3C-5.6 -1.5 -2.5 -5 0 -11.5Z" fill="none" stroke="#a7a9ac" stroke-width="2.1"/>
<path transform="translate(360.4 879) rotate(22) scale(0.9)" d="M0 -11.5C2.5 -5 5.6 -1.5 5.6 3A5.6 5.6 0 0 1 -5.6 3C-5.6 -1.5 -2.5 -5 0 -11.5Z" fill="none" stroke="#a7a9ac" stroke-width="2.1"/>
<path transform="translate(376.6 878.3) rotate(22) scale(0.9)" d="M0 -11.5C2.5 -5 5.6 -1.5 5.6 3A5.6 5.6 0 0 1 -5.6 3C-5.6 -1.5 -2.5 -5 0 -11.5Z" fill="none" stroke="#a7a9ac" stroke-width="2.1"/>
<g fill="none" stroke="#231f20" stroke-width="2.4" stroke-linejoin="miter">
<path d="M430.8 839.9 L449.6 839.9 L449.6 846 L430.8 846 Z"/>
<path d="M437.5 846 L437.5 853.4 M442.9 846 L442.9 853.4"/>
<path d="M423 853.4 L453 853.4 C459.2 853.7 462.6 858.1 462.6 862.4 L462.6 867.4 L452.3 867.4 L452.3 863.7 L423 863.7 Z"/>
<path d="M458.2 870.1 C459.8 874.2 463.9 879.2 463.9 883.2 C463.9 886.6 461.4 888.9 458.2 888.9 C454.9 888.9 452.5 886.6 452.5 883.2 C452.5 879.2 456.6 874.2 458.2 870.1 Z"/>
</g>
<path d="M502 844.4C503.2 842.9 505.4 840.7 507.6 841.3C509.8 841.9 513.1 846.8 515.1 848.1C517 849.5 518 850.3 519.4 849.4C520.9 848.4 522.2 843.7 523.8 842.5C525.3 841.4 527.5 841.4 528.7 842.5C530 843.7 531 847.2 531.2 849.4C531.4 851.6 529.1 854.3 530 855.6C530.8 856.8 534.4 856.2 536.2 856.8C537.9 857.5 540.1 858.1 540.5 859.3C540.9 860.6 540.2 862.8 538.7 864.3C537.1 865.7 532.3 866.4 531.2 868C530.1 869.7 531 872.2 531.8 874.2C532.7 876.3 535.9 878.6 536.2 880.4C536.5 882.3 535.1 884.6 533.7 885.4C532.2 886.2 529.3 886 527.5 885.4C525.6 884.8 523.8 883.5 522.5 881.7C521.3 879.8 521.1 875.8 520 874.2C519 872.7 517.8 871.9 516.3 872.4C514.9 872.8 513.2 875.6 511.3 876.7C509.5 877.8 507 879.2 505.1 879.2C503.3 879.2 500.6 878 500.2 876.7C499.7 875.5 501.2 873.4 502.6 871.7C504.1 870.1 507.6 868.4 508.9 866.8C510.1 865.1 510.9 863.5 510.1 861.8C509.3 860.1 505.4 858.7 503.9 856.8C502.3 855 501.1 852.7 500.8 850.6C500.5 848.6 500.9 846 502 844.4Z" fill="#a7a9ac"/>
<path d="M582.1 844.4C583.3 842.9 585.6 840.7 587.7 841.3C589.9 841.9 593.2 846.8 595.2 848.1C597.2 849.5 598.1 850.3 599.5 849.4C601 848.4 602.3 843.7 603.9 842.5C605.4 841.4 607.6 841.4 608.9 842.5C610.1 843.7 611.1 847.2 611.3 849.4C611.5 851.6 609.3 854.3 610.1 855.6C610.9 856.8 614.5 856.2 616.3 856.8C618.1 857.5 620.2 858.1 620.7 859.3C621.1 860.6 620.3 862.8 618.8 864.3C617.2 865.7 612.5 866.4 611.3 868C610.2 869.7 611.1 872.2 612 874.2C612.8 876.3 616 878.6 616.3 880.4C616.6 882.3 615.3 884.6 613.8 885.4C612.4 886.2 609.5 886 607.6 885.4C605.7 884.8 603.9 883.5 602.6 881.7C601.4 879.8 601.2 875.8 600.2 874.2C599.1 872.7 597.9 871.9 596.4 872.4C595 872.8 593.3 875.6 591.5 876.7C589.6 877.8 587.1 879.2 585.2 879.2C583.4 879.2 580.7 878 580.3 876.7C579.9 875.5 581.3 873.4 582.8 871.7C584.2 870.1 587.7 868.4 589 866.8C590.2 865.1 591 863.5 590.2 861.8C589.4 860.1 585.6 858.7 584 856.8C582.5 855 581.2 852.7 580.9 850.6C580.6 848.6 581 846 582.1 844.4Z" fill="#231f20"/>
<g stroke-linecap="butt"><path d="M577.2 838.8L627.5 888.5M626.9 838.8L577.2 887.9" stroke="#231f20" stroke-width="2.3"/>
<path d="M579.4 838.4L629.7 888.1M629.1 839.2L579.4 888.3" stroke="#d4d4d4" stroke-width="1.3"/></g>
<path d="M342.8 963.8 C343.7 958.7 341.7 953.2 336.9 950.5 C343.3 951.6 348 954.8 350.4 959 L344.8 943.2 C351.2 945.2 356 949.2 358.7 954 L371 937.8 C368.7 944.4 366.6 950.8 368.7 955.9 L380.6 945.2 C378.7 949.2 377.4 953.2 378.7 957.5 L390.1 949.2 C386.1 953.2 384 957.9 384.7 963.8 C384.7 963.8 384.7 963.8 384.7 963.8" fill="none" stroke="#231f20" stroke-width="3" stroke-linejoin="miter" stroke-linecap="round"/>
<path d="M428.2 939.2 C435.3 939.2 441.2 952.4 440.9 959 C440.6 963.2 434.5 963.8 428.2 963.8 C421.8 963.8 415.8 963.2 415.8 959 C415.5 952.4 421 939.2 428.2 939.2 Z" fill="none" stroke="#a7a9ac" stroke-width="2.2"/>
<path d="M458.3 939.2 C465.5 939.2 471.3 952.4 471 959 C470.7 963.2 464.7 963.8 458.3 963.8 C452 963.8 446 963.2 446 959 C445.6 952.4 451.2 939.2 458.3 939.2 Z" fill="none" stroke="#a7a9ac" stroke-width="2.2"/>
<path d="M503.9 914.3 C508.7 914.3 512.1 936.5 512.1 947.6 C512.1 955.6 509.4 959.5 505.5 959.5 L502.3 959.5 C498.3 959.5 495.6 955.6 495.6 947.6 C495.6 936.5 499.1 914.3 503.9 914.3 Z M501.7 959.8 L501.7 966 L506.1 966 L506.1 959.8" fill="none" stroke="#a7a9ac" stroke-width="2.2"/>
<path d="M522.6 914.3 C527.4 914.3 530.9 936.5 530.9 947.6 C530.9 955.6 528.2 959.5 524.2 959.5 L521 959.5 C517.1 959.5 514.4 955.6 514.4 947.6 C514.4 936.5 517.9 914.3 522.6 914.3 Z M520.4 959.8 L520.4 966 L524.8 966 L524.8 959.8" fill="none" stroke="#a7a9ac" stroke-width="2.2"/>
<path d="M542 914.3 C546.7 914.3 550.2 936.5 550.2 947.6 C550.2 955.6 547.5 959.5 543.6 959.5 L540.4 959.5 C536.4 959.5 533.7 955.6 533.7 947.6 C533.7 936.5 537.2 914.3 542 914.3 Z M539.8 959.8 L539.8 966 L544.2 966 L544.2 959.8" fill="none" stroke="#a7a9ac" stroke-width="2.2"/>
<path d="M575 953.7 C575.3 963.5 588.5 963.5 588.9 953.7 C589.2 963.5 602.4 963.5 602.8 953.7 C603.1 963.5 616.3 963.5 616.7 953.7 C617 963.5 630.2 963.5 630.6 953.7" fill="none" stroke="#a7a9ac" stroke-width="2.3" stroke-linejoin="miter"/>
<g fill="none" stroke="#a7a9ac" stroke-width="4.8" stroke-linejoin="round">
<path d="M335 1013.3 L392.8 1013.3"/>
<path d="M414.4 1012.4 L424.2 1012.4 L464.7 1024.1 L471.8 1024.1"/>
<path d="M494.4 1013.2 L503.6 1013.2 C509.1 1015.9 514.7 1023 522.6 1023 C530.6 1023 536.1 1015.9 542.1 1013.2 L551.2 1013.2"/>
<path d="M573.7 1014.3 L582.5 1014.3 C588.5 1011.1 594 1004.4 602 1004.4 C609.9 1004.4 615.5 1011.1 622.1 1014.3 L630.9 1014.3"/>
</g>
<rect x="335.3" y="1105.6" width="57.5" height="9.2" fill="#231f20"/>
<rect x="361.2" y="1078.6" width="4.8" height="23.3" fill="#231f20"/>
<path d="M363.1 1079 C359.1 1072.2 348.8 1069.8 339 1076.2 C347.2 1078.6 352 1084.1 363.1 1079 Z" fill="#231f20"/>
<path d="M363.9 1079 C364.7 1070.6 375.8 1065.9 387.2 1070.2 C379.8 1073 375.8 1082.5 363.9 1079 Z" fill="#231f20"/>
<path d="M442.5 1065.1 C444.8 1073 452.8 1082.5 452.8 1090.5 C452.8 1096.8 448 1100.8 442.5 1100.8 C436.9 1100.8 432.1 1096.8 432.1 1090.5 C432.1 1082.5 440.1 1073 442.5 1065.1 Z" fill="#a7a9ac"/>
<rect x="414.4" y="1105.6" width="10.6" height="9.2" fill="#a7a9ac"/>
<rect x="430.2" y="1105.6" width="10.6" height="9.2" fill="#a7a9ac"/>
<rect x="446" y="1105.6" width="10.8" height="9.2" fill="#a7a9ac"/>
<rect x="461.5" y="1105.6" width="10.3" height="9.2" fill="#a7a9ac"/>
<circle cx="522.6" cy="1082.9" r="17.2" fill="#a7a9ac"/>
<rect x="512" y="1079.8" width="21" height="5.9" fill="#d4d4d4"/>
<rect x="494.4" y="1105.6" width="57.3" height="9.2" fill="#a7a9ac"/>
<rect x="573.9" y="1105.6" width="57" height="9.2" fill="#a7a9ac"/>
<rect x="583.1" y="1060.3" width="3.5" height="45.4" fill="#a7a9ac"/>
<rect x="618" y="1060.3" width="3.5" height="45.4" fill="#a7a9ac"/>
<rect x="600.2" y="1060.3" width="3.5" height="11.9" fill="#a7a9ac"/>
<rect x="600.2" y="1078.1" width="3.5" height="11.6" fill="#a7a9ac"/>
<rect x="600.2" y="1095.2" width="3.5" height="10.5" fill="#a7a9ac"/>
</g>
<g id="center">
<path d="M1636.3 360.8L1678.5 466.2" stroke="#231f20" stroke-width="1.1"/>
<path d="M1786.3 375.7L1763 483.5" stroke="#231f20" stroke-width="1.1"/>
<path d="M2129.1 337L2107.2 425.4" stroke="#231f20" stroke-width="1.1"/>
<path d="M2302 356.9L2278.6 416.5" stroke="#231f20" stroke-width="1.1"/>
<ellipse cx="2174.5" cy="501.5" rx="129.4" ry="23.5" fill="#d4d4d4" stroke="#231f20" stroke-width="1.4"/>
<path d="M2088.7 462.1 A19.2 3.1 0 0 1 2127.1 462.1 L2126.3 512.5 A18.4 3.8 0 0 1 2089.4 512.5 Z" fill="#d4d4d4" stroke="#231f20" stroke-width="1"/>
<path d="M2088.7 462.1 A19.2 3.1 0 0 0 2127.1 462.1M2089 463.7 A18.9 3.1 0 0 0 2126.8 463.7M2088.8 473.1 A19 2.5 0 0 0 2126.9 473.1M2088.9 476.3 A19 2.6 0 0 0 2126.9 476.3M2088.9 479.5 A18.9 2.7 0 0 0 2126.8 479.5M2089 482.7 A18.9 2.8 0 0 0 2126.8 482.7M2089 485.9 A18.8 2.9 0 0 0 2126.7 485.9M2089.1 489.1 A18.8 3 0 0 0 2126.7 489.1M2089.1 492.3 A18.7 3.1 0 0 0 2126.6 492.3M2089.2 495.5 A18.7 3.3 0 0 0 2126.6 495.5M2089.2 498.7 A18.6 3.4 0 0 0 2126.5 498.7M2089.3 501.9 A18.6 3.5 0 0 0 2126.5 501.9M2089.3 505.1 A18.5 3.6 0 0 0 2126.4 505.1M2089.4 508.3 A18.5 3.7 0 0 0 2126.4 508.3M2089.4 511.5 A18.5 3.8 0 0 0 2126.3 511.5" fill="none" stroke="#231f20" stroke-width="0.8"/>
<g fill="#d4d4d4" stroke="#231f20" stroke-width="0.8"><path d="M2113.9 444.7C2113.2 445.1 2111.8 444.5 2111 443.9C2110.1 443.4 2108.7 442.2 2108.9 441.3C2109.1 440.5 2111.1 438.9 2112.2 438.9C2113.3 438.9 2115 440.5 2115.3 441.5C2115.5 442.4 2114.6 444.3 2113.9 444.7Z"/><path d="M2106.8 446.9C2105.9 446.4 2104.7 444.4 2104.9 443.2C2105.2 442 2107.4 439.6 2108.4 439.6C2109.5 439.6 2110.9 442.1 2111.2 443.2C2111.6 444.3 2111.2 445.5 2110.5 446.1C2109.8 446.8 2107.8 447.4 2106.8 446.9Z"/><path d="M2104.4 443.7C2105 443.3 2106.2 442.4 2106.9 442.6C2107.6 442.9 2108.4 444.3 2108.4 445.2C2108.5 446.2 2108.1 447.9 2107.3 448.4C2106.5 448.9 2104.4 448.7 2103.7 448.1C2103 447.6 2102.9 446.1 2103 445.3C2103.1 444.6 2103.7 444.2 2104.4 443.7Z"/><path d="M2099.2 448.6C2098.5 448.2 2098.6 446.3 2098.8 445.3C2098.9 444.3 2099.3 443.1 2100.1 442.7C2100.8 442.4 2102.5 442.7 2103.2 443.2C2103.8 443.7 2103.9 445 2103.8 445.7C2103.7 446.5 2103.3 447.2 2102.5 447.7C2101.7 448.2 2099.8 449 2099.2 448.6Z"/><path d="M2114.1 451.2C2113.5 450.3 2114.9 448.1 2115.6 447C2116.4 446 2117.7 444.9 2118.7 445.1C2119.7 445.3 2121.4 446.9 2121.6 448.1C2121.7 449.4 2120.7 452 2119.5 452.5C2118.3 453 2114.8 452.1 2114.1 451.2Z"/><path d="M2101 454.4C2100.1 454.3 2098.9 453.2 2098.4 452.2C2097.9 451.1 2097.2 449 2097.9 448C2098.6 447.1 2101.5 445.9 2102.5 446.3C2103.6 446.6 2104.1 449 2104.3 450.1C2104.5 451.2 2104.4 452.1 2103.9 452.9C2103.3 453.6 2101.9 454.5 2101 454.4Z"/><path d="M2100.5 451.4C2100.5 452.1 2097.9 453.2 2097 453.1C2096.1 453.1 2094.8 451.6 2094.9 451C2094.9 450.4 2096.4 449.2 2097.3 449.3C2098.2 449.3 2100.6 450.8 2100.5 451.4Z"/><path d="M2095.3 449.6C2095.5 448.9 2097.8 447.8 2098.9 447.8C2100 447.8 2101.4 448.6 2102 449.5C2102.6 450.3 2102.9 451.8 2102.6 452.7C2102.2 453.6 2100.5 454.9 2099.7 454.8C2098.8 454.8 2098.2 453.4 2097.5 452.6C2096.8 451.7 2095 450.4 2095.3 449.6Z"/><path d="M2115 451.5C2115.9 451.7 2117.4 453.2 2117.5 454.1C2117.7 455 2116.7 456 2115.9 456.8C2115.1 457.6 2113.4 459.1 2112.7 458.8C2111.9 458.6 2111.4 456.4 2111.3 455.4C2111.2 454.5 2111.5 453.6 2112.1 453C2112.7 452.3 2114.1 451.3 2115 451.5Z"/><path d="M2112.7 457.3C2112.2 457.9 2110 457.6 2109.3 457C2108.5 456.4 2107.8 454.5 2108.3 453.9C2108.8 453.3 2111.5 453 2112.2 453.6C2113 454.2 2113.2 456.8 2112.7 457.3Z"/><path d="M2117.7 457C2117.6 458.1 2115.3 459.9 2114.1 460.1C2112.9 460.4 2111.4 459.1 2110.6 458.4C2109.8 457.7 2109.2 456.6 2109.3 455.7C2109.4 454.8 2110.3 453.3 2111.3 453C2112.2 452.6 2113.8 452.8 2114.9 453.5C2115.9 454.1 2117.8 455.9 2117.7 457Z"/><path d="M2111.5 456.2C2111.6 456.9 2110.6 458.4 2110 458.6C2109.3 458.7 2108.1 457.9 2107.7 457.4C2107.3 456.9 2107.3 455.9 2107.6 455.4C2107.9 454.9 2109 454.2 2109.7 454.3C2110.3 454.4 2111.5 455.5 2111.5 456.2Z"/><path d="M2107.3 459.4C2106.7 459.9 2105.2 461.3 2104.6 461C2103.9 460.8 2103.4 458.8 2103.5 458C2103.6 457.2 2104.5 456.7 2105.2 456.3C2105.9 455.8 2107.2 455.3 2107.7 455.5C2108.1 455.8 2108.2 457.2 2108.1 457.9C2108.1 458.5 2107.9 458.9 2107.3 459.4Z"/><path d="M2122.4 455.5C2123 456 2122.8 457.7 2122.6 458.6C2122.3 459.5 2121.6 460.6 2120.9 460.8C2120.2 461 2119.1 460.5 2118.3 460C2117.5 459.4 2116 458.3 2116.1 457.5C2116.1 456.7 2117.8 455.5 2118.8 455.2C2119.9 454.8 2121.7 454.9 2122.4 455.5Z"/><path d="M2112.9 455.3C2113.8 454.5 2116.8 453.8 2117.9 454.5C2119.1 455.1 2120.3 458.1 2120 459.2C2119.6 460.2 2117 460.9 2115.8 461C2114.7 461 2113.3 460.3 2112.8 459.3C2112.3 458.4 2112.1 456.1 2112.9 455.3Z"/><path d="M2096.2 462.5C2095 462.8 2092.2 461.9 2091.9 460.8C2091.5 459.7 2092.8 456.4 2094 456C2095.1 455.7 2098.4 457.6 2098.7 458.7C2099.1 459.8 2097.3 462.1 2096.2 462.5Z"/><path d="M2091.6 456.4C2092.7 456 2095.4 457.9 2095.9 459.1C2096.4 460.4 2095.7 463.5 2094.6 463.9C2093.4 464.3 2089.5 462.9 2089 461.6C2088.5 460.4 2090.4 456.8 2091.6 456.4Z"/><path d="M2104.5 462.8C2103.7 464.1 2102.2 465.4 2101.2 465.2C2100.2 465.1 2098.5 463.1 2098.4 461.9C2098.2 460.7 2099 458.7 2100.2 458C2101.5 457.3 2105.3 457.1 2106 457.9C2106.7 458.7 2105.3 461.6 2104.5 462.8Z"/><path d="M2120.2 462.8C2120 461.5 2122.4 458.5 2123.5 458.3C2124.5 458.2 2126.2 460.7 2126.4 462C2126.6 463.3 2125.5 465.8 2124.5 465.9C2123.5 466 2120.4 464 2120.2 462.8Z"/><path d="M2095.9 458.5C2097.1 458.7 2097.9 459.8 2098.6 460.8C2099.3 461.8 2100.6 463.8 2100.1 464.6C2099.7 465.4 2097.3 465.6 2095.9 465.6C2094.5 465.6 2092.5 465.6 2091.7 464.6C2090.9 463.6 2090.5 460.7 2091.2 459.7C2091.9 458.7 2094.7 458.4 2095.9 458.5Z"/><path d="M2093.3 460.9C2094.2 461 2095.1 461.3 2095.5 462.2C2096 463 2096.5 465.6 2096 466C2095.5 466.4 2093.3 465.2 2092.3 464.5C2091.4 463.9 2090.1 462.7 2090.3 462.1C2090.5 461.5 2092.5 460.9 2093.3 460.9Z"/><path d="M2115.3 466.3C2114.7 467 2112.3 467.6 2111.3 467.1C2110.3 466.7 2109.5 464.8 2109.5 463.8C2109.4 462.8 2110.4 461.8 2111.2 461.3C2112 460.7 2113.5 460.2 2114.2 460.5C2114.9 460.8 2115.1 462.1 2115.2 463.1C2115.4 464.1 2116 465.7 2115.3 466.3Z"/><path d="M2108.1 461.8C2108.6 461.3 2110.1 460.7 2110.7 461C2111.3 461.2 2111.6 462.6 2111.7 463.4C2111.8 464.2 2111.8 465.4 2111.2 465.9C2110.7 466.3 2108.9 466.4 2108.3 466.1C2107.7 465.8 2107.7 464.5 2107.7 463.8C2107.6 463.1 2107.6 462.3 2108.1 461.8Z"/><path d="M2120.6 464C2120.6 463.3 2122.2 462.1 2123.2 461.8C2124.1 461.6 2125.6 461.7 2126.2 462.4C2126.8 463.1 2127.1 465.4 2126.7 465.9C2126.2 466.5 2124.3 466 2123.3 465.7C2122.3 465.4 2120.6 464.6 2120.6 464Z"/></g>
<path d="M2140 456.2 A21.5 3.4 0 0 1 2183 456.2 L2182.2 512.5 A20.7 4.3 0 0 1 2140.9 512.5 Z" fill="#d4d4d4" stroke="#231f20" stroke-width="1"/>
<path d="M2140 456.2 A21.5 3.4 0 0 0 2183 456.2M2140.3 457.8 A21.2 3.4 0 0 0 2182.7 457.8M2140.2 467.2 A21.4 2.8 0 0 0 2182.9 467.2M2140.2 470.8 A21.3 2.9 0 0 0 2182.8 470.8M2140.3 474.5 A21.2 3 0 0 0 2182.8 474.5M2140.3 478.2 A21.2 3.1 0 0 0 2182.7 478.2M2140.4 481.9 A21.1 3.3 0 0 0 2182.7 481.9M2140.5 485.6 A21.1 3.4 0 0 0 2182.6 485.6M2140.5 489.3 A21 3.5 0 0 0 2182.5 489.3M2140.6 493 A21 3.7 0 0 0 2182.5 493M2140.6 496.7 A20.9 3.8 0 0 0 2182.4 496.7M2140.7 500.4 A20.8 3.9 0 0 0 2182.4 500.4M2140.7 504.1 A20.8 4 0 0 0 2182.3 504.1M2140.8 507.8 A20.7 4.2 0 0 0 2182.3 507.8M2140.8 511.5 A20.7 4.3 0 0 0 2182.2 511.5" fill="none" stroke="#231f20" stroke-width="0.8"/>
<path d="M2160 456.7 Q2152 442.2 2137.2 423.8 Q2150.5 443 2158.2 457.6" fill="#d4d4d4" stroke="#231f20" stroke-width="0.8" stroke-linejoin="miter" stroke-miterlimit="10"/>
<path d="M2160.7 456.4 Q2146.6 443.5 2139.8 422.2 Q2145.5 444.8 2159.3 457.9" fill="#d4d4d4" stroke="#231f20" stroke-width="0.8" stroke-linejoin="miter" stroke-miterlimit="10"/>
<path d="M2161.3 456.8 Q2155.6 443 2144 425.2 Q2154.1 443.7 2159.5 457.5" fill="#d4d4d4" stroke="#231f20" stroke-width="0.8" stroke-linejoin="miter" stroke-miterlimit="10"/>
<path d="M2160.3 456.6 Q2150.3 440.7 2148.3 416.9 Q2148.8 441.6 2158.6 457.7" fill="#d4d4d4" stroke="#231f20" stroke-width="0.8" stroke-linejoin="miter" stroke-miterlimit="10"/>
<path d="M2160.7 457.1 Q2160 444.3 2155.3 426.9 Q2158.3 444.4 2158.7 457.2" fill="#d4d4d4" stroke="#231f20" stroke-width="0.8" stroke-linejoin="miter" stroke-miterlimit="10"/>
<path d="M2162.6 457.3 Q2164.8 440.9 2157.4 418.6 Q2163.1 440.6 2160.6 457" fill="#d4d4d4" stroke="#231f20" stroke-width="0.8" stroke-linejoin="miter" stroke-miterlimit="10"/>
<path d="M2161.6 456.8 Q2156.6 442.9 2159.1 423.4 Q2155 443.4 2159.7 457.5" fill="#d4d4d4" stroke="#231f20" stroke-width="0.8" stroke-linejoin="miter" stroke-miterlimit="10"/>
<path d="M2163.7 456.9 Q2160.6 444.3 2164.6 427.5 Q2159 444.7 2161.8 457.4" fill="#d4d4d4" stroke="#231f20" stroke-width="0.8" stroke-linejoin="miter" stroke-miterlimit="10"/>
<path d="M2163.7 457.2 Q2163.3 437.4 2170.7 410.9 Q2161.7 437.4 2161.7 457.2" fill="#d4d4d4" stroke="#231f20" stroke-width="0.8" stroke-linejoin="miter" stroke-miterlimit="10"/>
<path d="M2164.5 457.5 Q2168.9 442.5 2172.5 421.4 Q2167.3 442.1 2162.6 456.9" fill="#d4d4d4" stroke="#231f20" stroke-width="0.8" stroke-linejoin="miter" stroke-miterlimit="10"/>
<path d="M2164.9 457.8 Q2175.1 444.7 2176 423.4 Q2173.7 443.6 2163.3 456.5" fill="#d4d4d4" stroke="#231f20" stroke-width="0.8" stroke-linejoin="miter" stroke-miterlimit="10"/>
<path d="M2164 457.8 Q2174.9 443.7 2186.3 422.8 Q2173.6 442.7 2162.5 456.5" fill="#d4d4d4" stroke="#231f20" stroke-width="0.8" stroke-linejoin="miter" stroke-miterlimit="10"/>
<path d="M2164.6 457.9 Q2174.6 448 2181.4 431.3 Q2173.4 446.8 2163.2 456.4" fill="#d4d4d4" stroke="#231f20" stroke-width="0.8" stroke-linejoin="miter" stroke-miterlimit="10"/>
<path d="M2193.3 458.8 A21.5 3.4 0 0 1 2236.4 458.8 L2235.5 512.5 A20.7 4.3 0 0 1 2194.2 512.5 Z" fill="#d4d4d4" stroke="#231f20" stroke-width="1"/>
<path d="M2193.3 458.8 A21.5 3.4 0 0 0 2236.4 458.8M2193.6 460.4 A21.2 3.4 0 0 0 2236.1 460.4M2193.5 469.8 A21.3 2.8 0 0 0 2236.2 469.8M2193.5 473.3 A21.3 2.9 0 0 0 2236.1 473.3M2193.6 476.7 A21.2 3 0 0 0 2236.1 476.7M2193.7 480.2 A21.2 3.1 0 0 0 2236 480.2M2193.7 483.7 A21.1 3.3 0 0 0 2236 483.7M2193.8 487.2 A21.1 3.4 0 0 0 2235.9 487.2M2193.8 490.6 A21 3.5 0 0 0 2235.8 490.6M2193.9 494.1 A21 3.7 0 0 0 2235.8 494.1M2193.9 497.6 A20.9 3.8 0 0 0 2235.7 497.6M2194 501 A20.8 3.9 0 0 0 2235.7 501M2194 504.5 A20.8 4 0 0 0 2235.6 504.5M2194.1 508 A20.7 4.2 0 0 0 2235.6 508M2194.2 511.5 A20.7 4.3 0 0 0 2235.5 511.5" fill="none" stroke="#231f20" stroke-width="0.8"/>
<g fill="#d4d4d4" stroke="#231f20" stroke-width="0.8"><path d="M2201.5 445.8C2200.7 445.3 2199.6 442.6 2200 442C2200.5 441.4 2203.2 441.6 2203.9 442C2204.7 442.4 2204.8 444 2204.4 444.6C2204 445.2 2202.2 446.2 2201.5 445.8Z"/><path d="M2217.7 442.3C2218.1 443.3 2215.7 445.8 2214.7 446.3C2213.6 446.7 2211.7 445.8 2211.3 444.8C2210.9 443.8 2210.9 440.5 2212 440.1C2213 439.7 2217.3 441.3 2217.7 442.3Z"/><path d="M2204.6 442.1C2205.5 442.1 2207.2 442.7 2207.5 443.4C2207.9 444.1 2207.2 445.5 2206.6 446.2C2206.1 447 2205 447.9 2204.3 447.8C2203.5 447.7 2202.8 446.5 2202.4 445.8C2202.1 445.1 2201.7 444 2202.1 443.4C2202.4 442.8 2203.7 442.1 2204.6 442.1Z"/><path d="M2199 445.7C2199.1 445 2200.4 444.1 2201 443.8C2201.7 443.6 2202.6 443.9 2203.1 444.3C2203.7 444.6 2204.3 445.2 2204.4 445.9C2204.4 446.5 2203.9 447.6 2203.3 447.9C2202.8 448.3 2201.5 448.2 2200.8 447.8C2200.1 447.5 2199 446.4 2199 445.7Z"/><path d="M2207.5 444.5C2208.4 445.2 2209.3 446.2 2209.4 447.2C2209.4 448.2 2208.8 449.9 2207.8 450.5C2206.8 451.2 2204.3 451.7 2203.4 451.1C2202.6 450.6 2202.7 448.5 2202.7 447.2C2202.7 445.9 2202.8 444 2203.6 443.6C2204.4 443.1 2206.5 443.9 2207.5 444.5Z"/><path d="M2214.4 452.5C2213.4 453.4 2210.9 453.8 2209.6 453.3C2208.3 452.8 2206.8 450.7 2206.8 449.7C2206.9 448.6 2208.8 447.9 2209.8 447.2C2210.8 446.5 2211.7 445.2 2212.7 445.4C2213.7 445.6 2215.6 447 2215.9 448.2C2216.2 449.4 2215.5 451.7 2214.4 452.5Z"/><path d="M2218.7 451.8C2218.2 452.7 2214.5 453.8 2213.4 453.2C2212.3 452.6 2211.8 449.2 2212.4 448.3C2212.9 447.4 2215.6 447.2 2216.7 447.8C2217.8 448.4 2219.3 450.9 2218.7 451.8Z"/><path d="M2210.8 451.4C2210.5 452 2209.4 453 2208.8 453C2208.2 453 2207.4 452 2207.1 451.4C2206.8 450.7 2206.7 449.4 2207.2 448.9C2207.7 448.5 2209.5 448.5 2210.1 448.9C2210.7 449.3 2211 450.7 2210.8 451.4Z"/><path d="M2222.7 457.9C2221.5 457.9 2219.5 455.1 2219.1 453.7C2218.7 452.4 2219.4 450.3 2220.2 449.8C2221 449.3 2223 449.9 2224 450.5C2224.9 451.1 2226.3 452.3 2226.1 453.6C2225.9 454.8 2223.9 457.8 2222.7 457.9Z"/><path d="M2218.8 451C2219.6 450.4 2221.3 449.4 2221.9 449.8C2222.5 450.1 2222.4 451.8 2222.5 452.9C2222.5 453.9 2223 455.8 2222.4 456.1C2221.9 456.5 2220.1 455.5 2219.2 455C2218.3 454.5 2216.9 453.9 2216.9 453.2C2216.8 452.6 2217.9 451.6 2218.8 451Z"/><path d="M2198.7 455.2C2197.7 454.9 2196.3 453.8 2196.3 452.9C2196.2 452.1 2197.6 450.5 2198.6 450.2C2199.6 449.9 2201.8 450.3 2202.4 451.1C2203 451.9 2202.8 454.3 2202.2 455C2201.5 455.7 2199.6 455.5 2198.7 455.2Z"/><path d="M2209.4 455.2C2208.6 454.5 2206.9 452.4 2207.2 451.6C2207.6 450.9 2210.1 450.9 2211.4 450.7C2212.7 450.6 2214.4 450 2215.1 450.7C2215.8 451.3 2216.1 453.8 2215.6 454.6C2215.2 455.4 2213.3 455.4 2212.3 455.5C2211.2 455.6 2210.3 455.8 2209.4 455.2Z"/><path d="M2212.3 451.6C2213.3 450.7 2215.8 450 2216.8 450.4C2217.8 450.8 2218 452.9 2218.2 454.1C2218.5 455.2 2218.9 456.7 2218.2 457.4C2217.6 458.1 2215.7 458.5 2214.4 458.3C2213.2 458 2211.2 457 2210.8 455.8C2210.5 454.7 2211.3 452.5 2212.3 451.6Z"/><path d="M2204.1 452.8C2204.5 451.9 2207 451 2208.3 451C2209.7 451.1 2211.7 452.1 2212.1 453.1C2212.5 454 2211.6 455.8 2211 456.6C2210.3 457.3 2209.2 457.5 2208.3 457.5C2207.5 457.5 2206.6 457.2 2205.9 456.4C2205.2 455.6 2203.7 453.7 2204.1 452.8Z"/><path d="M2227.7 457.3C2227.1 456.7 2227.8 454.5 2228.3 454C2228.9 453.5 2230.5 453.5 2231.1 454.1C2231.7 454.6 2232.4 456.9 2231.8 457.4C2231.3 457.9 2228.3 457.8 2227.7 457.3Z"/><path d="M2207.7 455.5C2207.7 456.5 2206.3 458.2 2205.3 458.4C2204.4 458.7 2202.7 457.7 2202.1 457C2201.6 456.2 2201.6 454.6 2202.1 453.8C2202.7 453.1 2204.5 452.4 2205.4 452.7C2206.3 453 2207.7 454.6 2207.7 455.5Z"/><path d="M2227.7 456.8C2227.5 456 2228.1 454.5 2228.7 454.1C2229.3 453.7 2230.5 454.3 2231.3 454.6C2232.1 454.9 2233.3 455.4 2233.4 455.9C2233.5 456.4 2232.5 457.3 2231.8 457.7C2231.2 458.2 2230.4 458.9 2229.7 458.7C2229 458.5 2227.9 457.6 2227.7 456.8Z"/><path d="M2215.8 458.5C2215.4 459.2 2212.6 459.4 2211.7 459.2C2210.7 458.9 2210.2 457.9 2210.1 457C2209.9 456.1 2210 454.1 2210.6 453.8C2211.2 453.4 2213 454.3 2213.9 455.1C2214.8 455.9 2216.1 457.8 2215.8 458.5Z"/><path d="M2226 461.2C2225.2 461.2 2223.6 459.3 2223.3 458.2C2223 457.1 2223.4 455 2224.1 454.6C2224.8 454.2 2226.7 455.2 2227.4 455.8C2228.2 456.3 2228.5 457.2 2228.3 458.1C2228.1 459.1 2226.9 461.2 2226 461.2Z"/><path d="M2207.3 459.7C2206.8 460.4 2206 461.1 2205.3 461.1C2204.5 461.1 2202.9 460.4 2202.6 459.8C2202.3 459.1 2203.1 457.8 2203.6 457.2C2204.2 456.6 2205 455.9 2205.8 455.9C2206.6 455.9 2208.3 456.6 2208.6 457.2C2208.8 457.8 2207.9 459.1 2207.3 459.7Z"/><path d="M2209.2 464C2207.7 464.4 2204.5 463.7 2203.7 462.8C2203 461.8 2204.4 459.6 2204.8 458.4C2205.2 457.1 2205.1 455.7 2206.1 455.2C2207.1 454.7 2209.7 454.4 2210.8 455.2C2212 456 2213.2 458.5 2212.9 459.9C2212.6 461.4 2210.7 463.5 2209.2 464Z"/><path d="M2229.1 461.6C2228.3 460.8 2228.1 457.8 2228.7 457.1C2229.3 456.3 2231.7 456.8 2232.7 457.1C2233.6 457.4 2234.2 458.1 2234.4 458.9C2234.5 459.8 2234.5 461.9 2233.6 462.3C2232.7 462.8 2229.9 462.5 2229.1 461.6Z"/><path d="M2198.9 462.1C2198.4 462.6 2196.2 462.5 2195.3 462C2194.3 461.5 2193 459.9 2193.1 459C2193.3 458.1 2195.4 456.7 2196.3 456.7C2197.2 456.6 2198.2 457.9 2198.7 458.8C2199.1 459.7 2199.5 461.6 2198.9 462.1Z"/><path d="M2226.7 461.5C2225.7 460.4 2224 458 2224.6 457C2225.2 456 2228.9 455.2 2230.2 455.7C2231.6 456.1 2232.7 458.3 2232.7 459.7C2232.8 461 2231.6 463.6 2230.6 463.9C2229.6 464.3 2227.7 462.7 2226.7 461.5Z"/></g>
<path d="M2072.5 477.7 A17.2 2.8 0 0 1 2106.9 477.7 L2106.2 517.4 A16.5 3.4 0 0 1 2073.1 517.4 Z" fill="#d4d4d4" stroke="#231f20" stroke-width="1"/>
<path d="M2072.5 477.7 A17.2 2.8 0 0 0 2106.9 477.7M2072.8 479.3 A16.9 2.8 0 0 0 2106.6 479.3M2072.6 488.7 A17 2.2 0 0 0 2106.7 488.7M2072.7 491 A17 2.3 0 0 0 2106.7 491M2072.7 493.3 A16.9 2.4 0 0 0 2106.6 493.3M2072.8 495.6 A16.9 2.5 0 0 0 2106.6 495.6M2072.8 497.9 A16.9 2.6 0 0 0 2106.5 497.9M2072.8 500.2 A16.8 2.7 0 0 0 2106.5 500.2M2072.9 502.5 A16.8 2.8 0 0 0 2106.5 502.5M2072.9 504.9 A16.7 2.9 0 0 0 2106.4 504.9M2073 507.2 A16.7 3 0 0 0 2106.4 507.2M2073 509.5 A16.7 3.1 0 0 0 2106.3 509.5M2073 511.8 A16.6 3.2 0 0 0 2106.3 511.8M2073.1 514.1 A16.6 3.3 0 0 0 2106.3 514.1M2073.1 516.4 A16.5 3.4 0 0 0 2106.2 516.4" fill="none" stroke="#231f20" stroke-width="0.8"/>
<path d="M2086.8 478 Q2077 468.6 2069.3 453.6 Q2075.9 469.8 2085.4 479.4" fill="#d4d4d4" stroke="#231f20" stroke-width="0.8" stroke-linejoin="miter" stroke-miterlimit="10"/>
<path d="M2088.1 478.4 Q2083.8 466.3 2071.7 451.6 Q2082.2 466.8 2086.2 479" fill="#d4d4d4" stroke="#231f20" stroke-width="0.8" stroke-linejoin="miter" stroke-miterlimit="10"/>
<path d="M2089.1 478.1 Q2081.3 468.8 2076.6 454.5 Q2080 469.8 2087.5 479.3" fill="#d4d4d4" stroke="#231f20" stroke-width="0.8" stroke-linejoin="miter" stroke-miterlimit="10"/>
<path d="M2089.8 478 Q2079 465.7 2075.8 446.3 Q2077.7 466.7 2088.3 479.3" fill="#d4d4d4" stroke="#231f20" stroke-width="0.8" stroke-linejoin="miter" stroke-miterlimit="10"/>
<path d="M2090.4 478.4 Q2084.2 460.8 2083 436.2 Q2082.6 461.4 2088.5 479" fill="#d4d4d4" stroke="#231f20" stroke-width="0.8" stroke-linejoin="miter" stroke-miterlimit="10"/>
<path d="M2090.4 478.3 Q2082.1 461.3 2082 437.1 Q2080.6 462.1 2088.6 479.1" fill="#d4d4d4" stroke="#231f20" stroke-width="0.8" stroke-linejoin="miter" stroke-miterlimit="10"/>
<path d="M2090.3 479 Q2094.9 462.8 2092.6 440.1 Q2093.3 462.4 2088.3 478.4" fill="#d4d4d4" stroke="#231f20" stroke-width="0.8" stroke-linejoin="miter" stroke-miterlimit="10"/>
<path d="M2090.1 479.1 Q2096.1 463.6 2095.6 441.5 Q2094.5 463 2088.3 478.3" fill="#d4d4d4" stroke="#231f20" stroke-width="0.8" stroke-linejoin="miter" stroke-miterlimit="10"/>
<path d="M2091.7 478.7 Q2091.7 459.7 2099 434.3 Q2090.1 459.7 2089.7 478.7" fill="#d4d4d4" stroke="#231f20" stroke-width="0.8" stroke-linejoin="miter" stroke-miterlimit="10"/>
<path d="M2091.8 479 Q2098.5 461 2101.6 435 Q2097 460.4 2089.9 478.3" fill="#d4d4d4" stroke="#231f20" stroke-width="0.8" stroke-linejoin="miter" stroke-miterlimit="10"/>
<path d="M2092.3 479.3 Q2104.3 463.7 2106 438.9 Q2103 462.7 2090.7 478.1" fill="#d4d4d4" stroke="#231f20" stroke-width="0.8" stroke-linejoin="miter" stroke-miterlimit="10"/>
<path d="M2092.7 479.1 Q2097.8 468.4 2105.5 453.7 Q2096.3 467.7 2090.9 478.2" fill="#d4d4d4" stroke="#231f20" stroke-width="0.8" stroke-linejoin="miter" stroke-miterlimit="10"/>
<path d="M2093.6 479.3 Q2102.4 466.3 2112.4 447.5 Q2101 465.4 2091.9 478.1" fill="#d4d4d4" stroke="#231f20" stroke-width="0.8" stroke-linejoin="miter" stroke-miterlimit="10"/>
<path d="M2129.4 481 A20.9 3.3 0 0 1 2171.1 481 L2170.3 519.1 A20 4.2 0 0 1 2130.2 519.1 Z" fill="#d4d4d4" stroke="#231f20" stroke-width="1"/>
<path d="M2129.4 481 A20.9 3.3 0 0 0 2171.1 481M2129.7 482.6 A20.6 3.3 0 0 0 2170.8 482.6M2129.6 492 A20.6 2.7 0 0 0 2170.9 492M2129.7 494.2 A20.6 2.8 0 0 0 2170.8 494.2M2129.7 496.3 A20.5 2.9 0 0 0 2170.8 496.3M2129.8 498.5 A20.5 3 0 0 0 2170.7 498.5M2129.8 500.7 A20.4 3.2 0 0 0 2170.7 500.7M2129.9 502.9 A20.4 3.3 0 0 0 2170.6 502.9M2129.9 505 A20.3 3.4 0 0 0 2170.6 505M2130 507.2 A20.3 3.5 0 0 0 2170.6 507.2M2130 509.4 A20.2 3.7 0 0 0 2170.5 509.4M2130.1 511.6 A20.2 3.8 0 0 0 2170.5 511.6M2130.1 513.7 A20.1 3.9 0 0 0 2170.4 513.7M2130.2 515.9 A20.1 4 0 0 0 2170.4 515.9M2130.2 518.1 A20 4.2 0 0 0 2170.3 518.1" fill="none" stroke="#231f20" stroke-width="0.8"/>
<g fill="#d4d4d4" stroke="#231f20" stroke-width="0.8"><path d="M2146.7 460.4C2147.6 461.1 2147 463.8 2146.7 464.9C2146.3 466 2145.3 466.7 2144.5 467C2143.6 467.3 2142.4 467.2 2141.6 466.7C2140.7 466.2 2139.3 465 2139.3 463.9C2139.3 462.9 2140.4 461 2141.7 460.4C2142.9 459.8 2145.9 459.6 2146.7 460.4Z"/><path d="M2148.7 459.9C2149.8 459.4 2153.1 459.9 2153.8 460.8C2154.5 461.7 2153.4 463.7 2153 465.1C2152.7 466.4 2152.5 468.7 2151.8 468.9C2151 469.1 2149.3 467.2 2148.6 466.3C2147.8 465.5 2147.4 465 2147.4 463.9C2147.4 462.8 2147.7 460.4 2148.7 459.9Z"/><path d="M2143.7 462.4C2144.5 461.8 2146.8 462.4 2147.4 463.1C2148 463.9 2147.9 466 2147.1 466.6C2146.3 467.2 2143.1 467.4 2142.5 466.7C2142 466 2142.9 463 2143.7 462.4Z"/><path d="M2153.8 466.7C2153.1 467.7 2149.3 469.3 2148.5 468.7C2147.7 468.2 2148.3 464.5 2149.1 463.5C2149.8 462.5 2152.3 462.2 2153.1 462.7C2153.9 463.3 2154.6 465.7 2153.8 466.7Z"/><path d="M2150.8 465.9C2150.7 467.1 2148.7 469.2 2147.3 469.1C2145.9 469.1 2142.4 466.6 2142.5 465.3C2142.6 464.1 2146.4 461.6 2147.8 461.7C2149.2 461.8 2150.8 464.6 2150.8 465.9Z"/><path d="M2140.1 465.1C2140.3 464.4 2142.5 463.5 2143.8 463.3C2145 463.2 2146.9 463.3 2147.5 464.2C2148.1 465.1 2148 468.1 2147.3 468.7C2146.5 469.4 2144.1 468.6 2142.9 468C2141.8 467.4 2140 465.9 2140.1 465.1Z"/><path d="M2140.8 464.6C2141.4 464.2 2142.1 463.9 2142.7 464.1C2143.3 464.3 2144.3 465 2144.4 465.6C2144.5 466.3 2143.9 467.3 2143.3 467.8C2142.7 468.2 2141.6 468.5 2140.9 468.2C2140.1 468 2138.9 466.9 2138.9 466.3C2138.9 465.7 2140.1 464.9 2140.8 464.6Z"/><path d="M2144 465.1C2145 464.5 2147.6 463.9 2148.4 464.7C2149.3 465.4 2149.6 468.5 2148.9 469.5C2148.2 470.6 2145.5 471.2 2144.4 470.9C2143.3 470.6 2142.4 468.8 2142.3 467.8C2142.3 466.8 2143 465.6 2144 465.1Z"/><path d="M2150.5 467.2C2151.6 467.2 2153.9 468.4 2154.1 469.4C2154.4 470.4 2153.2 472.2 2151.9 473C2150.7 473.8 2147.4 474.6 2146.7 474C2145.9 473.3 2146.9 470.2 2147.5 469.1C2148.1 468 2149.4 467.1 2150.5 467.2Z"/><path d="M2148.7 473.3C2147.8 473.6 2146.5 473.8 2145.6 473.3C2144.8 472.8 2143.7 471.5 2143.8 470.4C2143.8 469.3 2144.9 467 2145.8 466.8C2146.7 466.6 2148.3 468.2 2149.2 468.9C2150 469.7 2150.9 470.5 2150.8 471.2C2150.7 472 2149.5 472.9 2148.7 473.3Z"/><path d="M2141.9 473.7C2141.2 474.1 2140.7 474.2 2140.1 474C2139.5 473.8 2138.5 473.5 2138.3 472.8C2138 472.1 2137.9 470.4 2138.5 469.8C2139.2 469.3 2141.1 469 2142 469.3C2142.8 469.7 2143.8 471.2 2143.8 471.9C2143.8 472.7 2142.5 473.4 2141.9 473.7Z"/><path d="M2150.6 475.8C2149.4 475.2 2146.6 471.8 2147.3 470.6C2147.9 469.5 2153.2 468.4 2154.5 469C2155.7 469.6 2155.2 473.2 2154.5 474.4C2153.9 475.5 2151.8 476.4 2150.6 475.8Z"/><path d="M2158.1 469.8C2158.9 470.2 2159.3 473.4 2158.9 474.4C2158.5 475.4 2156.7 476 2155.8 476C2154.8 476 2153.6 475.2 2153.3 474.5C2153 473.8 2153.2 472.6 2154 471.8C2154.8 471.1 2157.3 469.3 2158.1 469.8Z"/><path d="M2161.3 473.5C2161.7 472.7 2164.7 471.9 2165.8 472.3C2166.9 472.7 2168.5 475.3 2168.2 476.1C2167.8 476.9 2164.9 477.5 2163.8 477.1C2162.6 476.7 2161 474.3 2161.3 473.5Z"/><path d="M2167.4 475.9C2167 476.8 2164.1 478.3 2162.7 477.9C2161.4 477.5 2158.7 474.3 2159 473.4C2159.4 472.4 2163.3 471.7 2164.7 472.1C2166.1 472.6 2167.7 474.9 2167.4 475.9Z"/><path d="M2155 476.8C2154.9 477.7 2153.7 479.6 2152.8 479.8C2151.8 479.9 2149.4 478.6 2149.1 477.8C2148.8 477 2150.3 475.5 2151 475C2151.7 474.5 2152.6 474.4 2153.2 474.7C2153.9 475 2155.1 476 2155 476.8Z"/><path d="M2159.1 481.6C2158.3 481.6 2156.1 479.6 2156.1 478.8C2156.2 478 2158.5 476.9 2159.3 476.9C2160.2 477 2161.3 478.3 2161.2 479C2161.2 479.8 2160 481.7 2159.1 481.6Z"/><path d="M2145.6 481C2145.3 482.2 2143.5 483.7 2142.1 484.1C2140.7 484.5 2137.8 484.2 2137.1 483.4C2136.3 482.5 2137.1 480.2 2137.6 478.9C2138 477.6 2138.7 475.7 2139.7 475.4C2140.8 475.1 2143.1 475.9 2144.1 476.9C2145 477.8 2145.9 479.8 2145.6 481Z"/><path d="M2170.4 481.4C2170.2 482.8 2168.1 484.6 2166.8 484.5C2165.4 484.3 2162.1 481.6 2162.3 480.2C2162.5 478.8 2166.8 476 2168.1 476.2C2169.5 476.4 2170.6 480 2170.4 481.4Z"/><path d="M2159.6 479.3C2160 480.1 2158.8 481.7 2158.1 482.5C2157.4 483.2 2155.9 484 2155.3 483.8C2154.7 483.5 2154.5 482 2154.5 481C2154.6 479.9 2154.7 477.7 2155.5 477.4C2156.4 477.2 2159.2 478.4 2159.6 479.3Z"/><path d="M2163.4 478.9C2164.1 478.9 2165.1 480.2 2165.3 480.9C2165.6 481.6 2165.4 482.7 2164.9 483.2C2164.5 483.8 2163.5 484.2 2162.6 484.2C2161.8 484.1 2160 483.6 2159.8 483C2159.6 482.4 2160.8 481.3 2161.4 480.6C2162 479.9 2162.8 478.8 2163.4 478.9Z"/><path d="M2155.5 483.9C2154.8 483.9 2153.8 482.9 2153.8 482.2C2153.7 481.5 2154.8 479.6 2155.4 479.6C2156.1 479.6 2157.8 481.4 2157.8 482.2C2157.8 482.9 2156.2 483.9 2155.5 483.9Z"/><path d="M2153.3 482C2153.4 483.1 2151.2 484.9 2150.1 485C2149.1 485 2147.1 483.6 2147 482.5C2146.9 481.4 2148.5 478.4 2149.6 478.3C2150.6 478.2 2153.2 480.9 2153.3 482Z"/><path d="M2140.6 485.7C2139.6 486.2 2137.8 486.6 2136.9 485.9C2136 485.2 2134.7 482.4 2135.2 481.5C2135.7 480.7 2138.5 480.5 2139.8 480.8C2141.1 481 2142.9 482.1 2143.1 482.9C2143.2 483.7 2141.6 485.2 2140.6 485.7Z"/></g>
<path d="M2188.7 481 A20.9 3.3 0 0 1 2230.4 481 L2229.6 519.1 A20 4.2 0 0 1 2189.5 519.1 Z" fill="#d4d4d4" stroke="#231f20" stroke-width="1"/>
<path d="M2188.7 481 A20.9 3.3 0 0 0 2230.4 481M2189 482.6 A20.6 3.3 0 0 0 2230.1 482.6M2188.9 492 A20.6 2.7 0 0 0 2230.2 492M2189 494.2 A20.6 2.8 0 0 0 2230.1 494.2M2189 496.3 A20.5 2.9 0 0 0 2230.1 496.3M2189.1 498.5 A20.5 3 0 0 0 2230 498.5M2189.1 500.7 A20.4 3.2 0 0 0 2230 500.7M2189.2 502.9 A20.4 3.3 0 0 0 2229.9 502.9M2189.2 505 A20.3 3.4 0 0 0 2229.9 505M2189.2 507.2 A20.3 3.5 0 0 0 2229.8 507.2M2189.3 509.4 A20.2 3.7 0 0 0 2229.8 509.4M2189.3 511.6 A20.2 3.8 0 0 0 2229.7 511.6M2189.4 513.7 A20.1 3.9 0 0 0 2229.7 513.7M2189.4 515.9 A20.1 4 0 0 0 2229.6 515.9M2189.5 518.1 A20 4.2 0 0 0 2229.6 518.1" fill="none" stroke="#231f20" stroke-width="0.8"/>
<g fill="#d4d4d4" stroke="#231f20" stroke-width="0.8"><path d="M2203.4 462.5C2203.7 461.9 2204.3 461.4 2204.9 461.4C2205.5 461.3 2206.7 461.7 2207 462.3C2207.2 462.9 2207 464.3 2206.4 464.8C2205.8 465.2 2203.9 465.3 2203.4 465C2203 464.6 2203.2 463.1 2203.4 462.5Z"/><path d="M2211.6 465.3C2211 464.6 2210.6 462 2211.2 461.6C2211.8 461.1 2214.8 461.8 2215.4 462.6C2216 463.3 2215.2 465.4 2214.6 465.9C2213.9 466.3 2212.1 466 2211.6 465.3Z"/><path d="M2211.4 464.6C2211.6 464.1 2212.3 463.4 2213.1 463.3C2213.8 463.1 2215.2 463.1 2215.7 463.7C2216.3 464.3 2216.6 466 2216.3 466.6C2215.9 467.3 2214.3 467.4 2213.5 467.4C2212.8 467.4 2212.2 466.9 2211.8 466.4C2211.4 466 2211.1 465.1 2211.4 464.6Z"/><path d="M2222.8 464.6C2223.1 465.4 2221.5 467.8 2220.5 468.2C2219.6 468.5 2217.4 467.4 2217.1 466.7C2216.8 465.9 2217.7 463.8 2218.6 463.5C2219.6 463.1 2222.5 463.8 2222.8 464.6Z"/><path d="M2212.1 467.6C2212 466.6 2212.6 465.7 2213.4 465.2C2214.2 464.7 2216 463.9 2216.8 464.4C2217.6 464.9 2218.4 467.2 2218 468.3C2217.6 469.4 2215.2 471.3 2214.3 471.1C2213.3 471 2212.2 468.5 2212.1 467.6Z"/><path d="M2202.8 470.1C2203.1 470.6 2202.3 471.8 2201.8 472.3C2201.4 472.9 2200.7 473.5 2200.1 473.4C2199.6 473.4 2198.8 472.6 2198.6 472.1C2198.4 471.6 2198.4 470.8 2198.7 470.4C2199 470 2199.7 469.8 2200.4 469.8C2201.1 469.7 2202.6 469.7 2202.8 470.1Z"/><path d="M2198.5 476.6C2197.8 476.4 2197.4 473.8 2197.8 472.6C2198.2 471.5 2200.2 469.5 2201 469.7C2201.7 469.9 2202.6 472.9 2202.2 474C2201.8 475.2 2199.3 476.8 2198.5 476.6Z"/><path d="M2202.8 477.8C2202.2 477.2 2202.3 475 2202.7 473.9C2203.1 472.8 2204.5 471.2 2205.4 471.1C2206.4 471 2207.4 472.6 2208.2 473.5C2209 474.4 2210.4 475.7 2210.1 476.4C2209.9 477.1 2207.9 477.4 2206.7 477.6C2205.5 477.9 2203.5 478.4 2202.8 477.8Z"/><path d="M2220.9 475C2221.7 475.4 2222.3 477.3 2221.9 478C2221.5 478.7 2219.2 479.7 2218.4 479.3C2217.6 478.9 2216.6 476.3 2217 475.5C2217.4 474.8 2220.1 474.6 2220.9 475Z"/><path d="M2202.3 480.3C2201.3 481.1 2197.5 480.1 2196.9 479.3C2196.3 478.5 2197.5 476.2 2198.5 475.5C2199.5 474.7 2202.4 474.3 2203 475.1C2203.6 475.9 2203.3 479.6 2202.3 480.3Z"/><path d="M2206.2 478.7C2205.9 479.5 2203.5 479.8 2202.3 480.1C2201 480.4 2199.4 481 2198.6 480.4C2197.8 479.9 2197.3 477.8 2197.6 476.7C2197.9 475.5 2199.3 473.9 2200.3 473.7C2201.3 473.5 2202.8 474.5 2203.8 475.3C2204.8 476.1 2206.4 477.9 2206.2 478.7Z"/><path d="M2200.6 480.4C2199.6 480.3 2198.6 479.8 2198.2 479.1C2197.7 478.4 2197.5 476.9 2197.9 476.3C2198.3 475.7 2199.8 475.4 2200.5 475.5C2201.3 475.6 2201.6 476.1 2202.2 476.8C2202.9 477.5 2204.5 479.1 2204.2 479.7C2203.9 480.3 2201.6 480.5 2200.6 480.4Z"/><path d="M2194 474.3C2194.8 474.4 2196.5 476.4 2196.6 477.3C2196.8 478.2 2195.7 479.4 2194.9 479.9C2194.1 480.4 2192.2 480.7 2191.6 480.2C2191.1 479.7 2191.2 478.1 2191.6 477.1C2192 476.2 2193.1 474.3 2194 474.3Z"/><path d="M2222.4 481.7C2221.8 481.3 2221.7 479.3 2222.1 478.5C2222.5 477.7 2224 476.7 2224.7 476.8C2225.3 476.9 2225.9 478.4 2226 479.1C2226.2 479.8 2226 480.6 2225.3 481C2224.7 481.4 2222.9 482.1 2222.4 481.7Z"/><path d="M2208 475.7C2209.3 476.1 2209.8 478 2210 479.2C2210.2 480.4 2210 482.5 2209.1 483C2208.2 483.4 2205.8 482.9 2204.7 482C2203.6 481 2202 478.2 2202.6 477.2C2203.1 476.1 2206.8 475.4 2208 475.7Z"/><path d="M2213 479.6C2213 480.7 2210.9 482.7 2210.1 482.7C2209.3 482.7 2208.1 480.8 2208 479.8C2208 478.7 2209.1 476.5 2209.9 476.5C2210.7 476.4 2212.9 478.6 2213 479.6Z"/><path d="M2213.5 478.3C2214.5 477.9 2216.8 479.5 2217.3 480.6C2217.9 481.8 2217.5 484.7 2216.6 485.1C2215.6 485.5 2212.3 484 2211.8 482.9C2211.3 481.8 2212.6 478.7 2213.5 478.3Z"/><path d="M2215.8 480.8C2216.4 481.6 2217.2 483.4 2216.8 484C2216.4 484.5 2214.3 484.3 2213.4 484C2212.4 483.7 2211.3 483 2211.2 482.2C2211.1 481.3 2212 479.1 2212.8 478.9C2213.5 478.7 2215.1 479.9 2215.8 480.8Z"/><path d="M2196.8 480.8C2197.3 480.2 2198.7 479.8 2199.3 480.1C2200 480.3 2200.5 481.6 2200.4 482.4C2200.4 483.1 2199.7 484.3 2198.9 484.5C2198.1 484.7 2196.2 484.2 2195.8 483.6C2195.5 483 2196.2 481.4 2196.8 480.8Z"/><path d="M2201.5 481.5C2202.1 482.3 2203 484.1 2202.6 484.6C2202.2 485.1 2200.2 484.9 2199.2 484.6C2198.3 484.3 2197 483.6 2196.9 482.9C2196.8 482.1 2198 480.2 2198.7 480C2199.5 479.8 2200.8 480.8 2201.5 481.5Z"/><path d="M2200.7 481.9C2201.1 480.9 2203 479.3 2203.8 479.3C2204.6 479.4 2205.4 481.2 2205.7 482.4C2206.1 483.5 2206.6 485.6 2206 486.1C2205.3 486.6 2202.6 486.1 2201.7 485.4C2200.8 484.7 2200.4 482.9 2200.7 481.9Z"/><path d="M2203.7 487C2202.7 486.9 2201.1 484.8 2200.9 483.8C2200.8 482.7 2201.7 481.4 2202.7 480.9C2203.6 480.3 2205.8 480 2206.4 480.5C2207.1 481.1 2207.2 483.1 2206.7 484.2C2206.3 485.3 2204.6 487.1 2203.7 487Z"/><path d="M2210.4 482.5C2210.5 483.4 2210.6 484.4 2210.1 484.9C2209.6 485.3 2208.5 485.3 2207.6 485.2C2206.8 485 2205.1 484.7 2204.8 484C2204.5 483.3 2205.1 481.6 2205.9 480.9C2206.6 480.2 2208.3 479.7 2209.1 479.9C2209.8 480.2 2210.2 481.7 2210.4 482.5Z"/><path d="M2218.2 483.9C2218 485 2217.8 485.7 2217 486.3C2216.2 486.9 2214.2 487.8 2213.3 487.4C2212.5 487 2211.7 484.9 2211.8 483.8C2211.8 482.7 2212.5 481.2 2213.6 480.5C2214.6 479.8 2217.4 479.1 2218.2 479.6C2218.9 480.2 2218.4 482.8 2218.2 483.9Z"/></g>
<path d="M2245 470.1 A21.2 3.4 0 0 1 2287.4 470.1 L2286.5 517.4 A20.3 4.2 0 0 1 2245.8 517.4 Z" fill="#d4d4d4" stroke="#231f20" stroke-width="1"/>
<path d="M2245 470.1 A21.2 3.4 0 0 0 2287.4 470.1M2245.3 471.7 A20.9 3.4 0 0 0 2287.1 471.7M2245.2 481.1 A21 2.7 0 0 0 2287.2 481.1M2245.2 484 A20.9 2.8 0 0 0 2287.1 484M2245.3 487 A20.9 3 0 0 0 2287 487M2245.3 489.9 A20.8 3.1 0 0 0 2287 489.9M2245.4 492.8 A20.8 3.2 0 0 0 2286.9 492.8M2245.4 495.8 A20.7 3.3 0 0 0 2286.9 495.8M2245.5 498.7 A20.7 3.5 0 0 0 2286.8 498.7M2245.5 501.7 A20.6 3.6 0 0 0 2286.8 501.7M2245.6 504.6 A20.6 3.7 0 0 0 2286.7 504.6M2245.6 507.6 A20.5 3.9 0 0 0 2286.7 507.6M2245.7 510.5 A20.5 4 0 0 0 2286.6 510.5M2245.7 513.5 A20.4 4.1 0 0 0 2286.6 513.5M2245.8 516.4 A20.4 4.2 0 0 0 2286.5 516.4" fill="none" stroke="#231f20" stroke-width="0.8"/>
<path d="M2264.2 470.2 Q2252.3 463 2246.4 448.9 Q2251.4 464.5 2263.2 471.9" fill="#d4d4d4" stroke="#231f20" stroke-width="0.8" stroke-linejoin="miter" stroke-miterlimit="10"/>
<path d="M2263.8 470.4 Q2254.3 460.4 2246.6 444.7 Q2253.1 461.5 2262.3 471.7" fill="#d4d4d4" stroke="#231f20" stroke-width="0.8" stroke-linejoin="miter" stroke-miterlimit="10"/>
<path d="M2265.3 470.4 Q2254.1 457.7 2248.3 437.7 Q2252.8 458.7 2263.7 471.7" fill="#d4d4d4" stroke="#231f20" stroke-width="0.8" stroke-linejoin="miter" stroke-miterlimit="10"/>
<path d="M2265 471.1 Q2264.8 455.8 2254.8 436.1 Q2263.1 455.8 2263 471.1" fill="#d4d4d4" stroke="#231f20" stroke-width="0.8" stroke-linejoin="miter" stroke-miterlimit="10"/>
<path d="M2265.4 470.9 Q2263.3 458.1 2257.9 440.7 Q2261.6 458.4 2263.4 471.2" fill="#d4d4d4" stroke="#231f20" stroke-width="0.8" stroke-linejoin="miter" stroke-miterlimit="10"/>
<path d="M2266.5 470.9 Q2262.3 452.3 2263.8 426.5 Q2260.7 452.6 2264.5 471.3" fill="#d4d4d4" stroke="#231f20" stroke-width="0.8" stroke-linejoin="miter" stroke-miterlimit="10"/>
<path d="M2267.3 470.9 Q2263.4 453 2262.8 428.3 Q2261.8 453.4 2265.3 471.3" fill="#d4d4d4" stroke="#231f20" stroke-width="0.8" stroke-linejoin="miter" stroke-miterlimit="10"/>
<path d="M2268.5 471.3 Q2272.8 455.7 2271.3 433.4 Q2271.2 455.2 2266.5 470.8" fill="#d4d4d4" stroke="#231f20" stroke-width="0.8" stroke-linejoin="miter" stroke-miterlimit="10"/>
<path d="M2267.1 471.3 Q2271.6 452.4 2274.5 426 Q2269.9 452 2265.2 470.8" fill="#d4d4d4" stroke="#231f20" stroke-width="0.8" stroke-linejoin="miter" stroke-miterlimit="10"/>
<path d="M2267.5 471.6 Q2274.8 459.2 2276.3 440.4 Q2273.3 458.3 2265.8 470.6" fill="#d4d4d4" stroke="#231f20" stroke-width="0.8" stroke-linejoin="miter" stroke-miterlimit="10"/>
<path d="M2269.9 471.2 Q2271.3 456 2279.6 436.3 Q2269.7 455.9 2267.9 471" fill="#d4d4d4" stroke="#231f20" stroke-width="0.8" stroke-linejoin="miter" stroke-miterlimit="10"/>
<path d="M2269.3 471.7 Q2278.5 458.6 2284.4 438.5 Q2277.1 457.7 2267.7 470.5" fill="#d4d4d4" stroke="#231f20" stroke-width="0.8" stroke-linejoin="miter" stroke-miterlimit="10"/>
<path d="M2269.3 471.7 Q2276.2 462.5 2285.2 449.4 Q2274.9 461.4 2267.8 470.5" fill="#d4d4d4" stroke="#231f20" stroke-width="0.8" stroke-linejoin="miter" stroke-miterlimit="10"/>
<path d="M2045.1 501.5 A129.4 17 0 0 0 2303.9 501.5 L2297.6 575.4 L2286.7 714.4 L2286.7 793.9 L2286.7 796.4 A112.2 48.7 0 0 1 2062.3 796.4 L2062.3 714.4 L2051.4 575.4 L2045.1 501.5Z" fill="#d4d4d4" stroke="#231f20" stroke-width="1.4" stroke-linejoin="round"/>
<path d="M2045.1 501.5 A129.4 23.5 0 0 0 2303.9 501.5M2062.3 793.9 A112.2 44.7 0 0 0 2286.7 793.9M2051.4 575.4 A123.1 16.5 0 0 0 2297.6 575.4M2052.1 584.7 A122.4 18.1 0 0 0 2296.9 584.7M2052.9 593.9 A121.6 19.6 0 0 0 2296.1 593.9M2053.6 603.2 A120.9 21.2 0 0 0 2295.4 603.2M2054.3 612.5 A120.2 22.7 0 0 0 2294.7 612.5M2055 621.7 A119.5 24.3 0 0 0 2294 621.7M2055.8 631 A118.7 25.8 0 0 0 2293.2 631M2056.5 640.3 A118 27.4 0 0 0 2292.5 640.3M2057.2 649.5 A117.3 28.9 0 0 0 2291.8 649.5M2057.9 658.8 A116.6 30.5 0 0 0 2291.1 658.8M2058.7 668.1 A115.8 32 0 0 0 2290.3 668.1M2059.4 677.3 A115.1 33.6 0 0 0 2289.6 677.3M2060.1 686.6 A114.4 35.1 0 0 0 2288.9 686.6M2060.8 695.9 A113.7 36.7 0 0 0 2288.2 695.9M2061.6 705.1 A112.9 38.2 0 0 0 2287.4 705.1M2062.3 714.4 A112.2 39.8 0 0 0 2286.7 714.4" fill="none" stroke="#231f20" stroke-width="1.4"/>
<ellipse cx="1729.9" cy="534" rx="162.8" ry="29.3" fill="#d4d4d4" stroke="#231f20" stroke-width="1.4"/>
<path d="M1652.6 474.5 A26.9 4.3 0 0 1 1706.5 474.5 L1705.4 534.6 A25.9 5.4 0 0 1 1653.7 534.6 Z" fill="#d4d4d4" stroke="#231f20" stroke-width="1.1"/>
<path d="M1652.6 474.5 A26.9 4.3 0 0 0 1706.5 474.5M1652.9 476.1 A26.6 4.3 0 0 0 1706.2 476.1M1652.9 491.5 A26.6 3.4 0 0 0 1706.2 491.5M1653 494.5 A26.6 3.6 0 0 0 1706.2 494.5M1653 497.5 A26.5 3.7 0 0 0 1706.1 497.5M1653.1 500.5 A26.5 3.9 0 0 0 1706.1 500.5M1653.2 503.5 A26.4 4 0 0 0 1706 503.5M1653.2 506.5 A26.4 4.1 0 0 0 1705.9 506.5M1653.3 509.6 A26.3 4.3 0 0 0 1705.9 509.6M1653.3 512.6 A26.3 4.4 0 0 0 1705.8 512.6M1653.4 515.6 A26.2 4.6 0 0 0 1705.8 515.6M1653.4 518.6 A26.2 4.7 0 0 0 1705.7 518.6M1653.5 521.6 A26.1 4.8 0 0 0 1705.7 521.6M1653.5 524.6 A26 5 0 0 0 1705.6 524.6M1653.6 527.6 A26 5.1 0 0 0 1705.6 527.6M1653.6 530.6 A25.9 5.3 0 0 0 1705.5 530.6M1653.7 533.6 A25.9 5.4 0 0 0 1705.5 533.6" fill="none" stroke="#231f20" stroke-width="0.8"/>
<g fill="#d4d4d4" stroke="#231f20" stroke-width="0.8"><path d="M1693.1 455.8C1692.4 456.8 1690.3 457.7 1689.1 457.6C1687.8 457.5 1686.2 456.2 1685.8 455.2C1685.4 454.3 1686.2 453.1 1686.7 452.1C1687.3 451.1 1688.2 449.1 1689.3 449C1690.3 448.9 1692.3 450.4 1692.9 451.6C1693.6 452.7 1693.7 454.8 1693.1 455.8Z"/><path d="M1687.4 454.7C1687.1 454 1686.9 452.8 1687.4 452.3C1687.8 451.8 1689.3 451.5 1690.1 451.8C1690.9 452.2 1692.4 453.6 1692.3 454.3C1692.2 455.1 1690.3 456.2 1689.5 456.3C1688.6 456.3 1687.8 455.3 1687.4 454.7Z"/><path d="M1674.5 453.9C1674.5 453 1675.8 451.6 1676.6 451.4C1677.4 451.2 1678.4 452 1679.1 452.5C1679.8 452.9 1680.7 453.4 1680.8 454.1C1680.9 454.7 1680.2 455.8 1679.4 456.3C1678.7 456.8 1677.1 457.2 1676.3 456.8C1675.5 456.4 1674.4 454.8 1674.5 453.9Z"/><path d="M1675.9 455.5C1675.7 456.3 1674.6 457.5 1673.7 457.8C1672.8 458 1670.9 457.7 1670.3 457C1669.7 456.3 1669.6 454.5 1670 453.8C1670.3 453 1671.6 452.5 1672.4 452.3C1673.2 452.2 1674.4 452.3 1675 452.8C1675.6 453.4 1676.1 454.7 1675.9 455.5Z"/><path d="M1671.9 452.3C1672.9 452.5 1673.4 454.9 1673.6 456.1C1673.8 457.2 1674 458.7 1673.3 459.2C1672.6 459.6 1670.4 459.6 1669.5 458.9C1668.6 458.2 1667.5 456.2 1667.9 455.1C1668.3 454 1671 452.2 1671.9 452.3Z"/><path d="M1686.2 455.1C1686.7 454.3 1688.9 454.2 1689.8 454.5C1690.8 454.7 1691.9 456.1 1691.9 456.8C1691.9 457.5 1690.7 458.3 1689.8 458.6C1688.9 459 1687.2 459.4 1686.6 458.8C1686 458.2 1685.7 455.8 1686.2 455.1Z"/><path d="M1673.6 457.3C1673.6 455.8 1675.5 453 1676.5 453C1677.4 453 1679.3 455.7 1679.3 457.2C1679.4 458.7 1677.5 461.9 1676.6 461.9C1675.6 461.9 1673.7 458.8 1673.6 457.3Z"/><path d="M1691.1 455.3C1692 454.4 1694.9 454.5 1695.7 455.3C1696.5 456 1696.6 458.9 1695.6 459.8C1694.7 460.6 1690.7 461.3 1690 460.6C1689.2 459.8 1690.1 456.2 1691.1 455.3Z"/><path d="M1687.8 458.4C1687.6 459.1 1687.3 459.6 1686.6 459.9C1686 460.3 1684.4 460.8 1683.9 460.5C1683.4 460.1 1683.3 458.5 1683.5 457.8C1683.7 457 1684.4 456.5 1685.1 456.1C1685.9 455.8 1687.4 455.4 1687.9 455.8C1688.3 456.2 1688 457.7 1687.8 458.4Z"/><path d="M1670.2 461.5C1669.6 462.2 1667.6 462.6 1666.8 462.2C1665.9 461.8 1665.1 459.8 1665.3 459.1C1665.5 458.4 1667 458 1667.9 457.9C1668.8 457.7 1670.4 457.7 1670.8 458.3C1671.2 458.9 1670.9 460.9 1670.2 461.5Z"/><path d="M1686.9 456.7C1687.7 456.2 1689.7 457.3 1690.5 458C1691.3 458.7 1692.1 460 1691.8 460.9C1691.5 461.8 1689.7 463.6 1688.6 463.5C1687.6 463.4 1685.8 461.7 1685.6 460.6C1685.3 459.4 1686.1 457.1 1686.9 456.7Z"/><path d="M1663.8 458C1664.5 457.4 1666.4 457.6 1667 458.1C1667.6 458.5 1667.8 459.8 1667.6 460.6C1667.4 461.4 1666.6 462.8 1665.8 462.9C1664.9 463 1663 462 1662.7 461.1C1662.4 460.3 1663.1 458.5 1663.8 458Z"/><path d="M1695.1 465.1C1694.5 465.5 1693.1 465.8 1692.2 465.4C1691.4 465.1 1690.1 463.9 1690.1 463.1C1690 462.3 1691.3 461.3 1692.1 460.8C1692.9 460.4 1694.2 460 1694.9 460.3C1695.6 460.6 1696.2 461.9 1696.2 462.7C1696.3 463.5 1695.8 464.6 1695.1 465.1Z"/><path d="M1694.6 464.4C1694.7 465.5 1694.7 467.7 1693.9 468.2C1693.1 468.7 1690.9 467.8 1690 467.2C1689 466.6 1688.4 465.5 1688.4 464.6C1688.4 463.7 1689.1 462.5 1689.8 462C1690.6 461.5 1692.3 461.1 1693.1 461.5C1693.9 461.9 1694.4 463.3 1694.6 464.4Z"/><path d="M1692.3 467.7C1691.8 467.9 1690.2 466.7 1689.7 466C1689.2 465.4 1689.1 464.2 1689.5 463.7C1689.9 463.1 1691.4 462.3 1692 462.5C1692.7 462.7 1693.1 463.9 1693.2 464.8C1693.2 465.7 1692.9 467.5 1692.3 467.7Z"/><path d="M1681.1 462.6C1682.1 462.3 1684.2 462.6 1684.8 463.3C1685.4 464.1 1685.2 466.2 1684.6 466.9C1684.1 467.5 1682.5 467.6 1681.6 467.4C1680.6 467.1 1679 466.2 1678.9 465.4C1678.8 464.7 1680.1 463 1681.1 462.6Z"/><path d="M1698.2 472C1697.2 472 1695.6 471 1695.1 470.1C1694.6 469.3 1694.7 467.8 1695.1 466.9C1695.6 466.1 1696.8 465.2 1697.8 465.1C1698.9 465 1700.7 465.6 1701.2 466.4C1701.8 467.1 1701.6 468.9 1701.1 469.8C1700.6 470.7 1699.2 471.9 1698.2 472Z"/><path d="M1690.1 464.4C1691.2 464 1693.3 464.8 1694.2 465.6C1695 466.3 1695.6 468.2 1695.3 469.1C1695 470.1 1693.5 471.2 1692.6 471.4C1691.6 471.7 1690.3 471.2 1689.5 470.5C1688.7 469.9 1687.6 468.6 1687.7 467.6C1687.9 466.6 1689.1 464.7 1690.1 464.4Z"/><path d="M1683.1 471.1C1682.3 471.1 1680.5 470.5 1680.3 469.9C1680.1 469.3 1681.1 468.1 1681.8 467.5C1682.6 467 1684.1 466.1 1684.7 466.4C1685.3 466.8 1685.6 468.7 1685.3 469.5C1685.1 470.3 1683.9 471 1683.1 471.1Z"/><path d="M1687.3 469.8C1687.3 469.1 1688.4 467.5 1689.3 467.3C1690.1 467.1 1692.1 468 1692.4 468.7C1692.8 469.3 1691.9 470.9 1691.3 471.4C1690.8 471.8 1689.9 471.6 1689.2 471.4C1688.6 471.1 1687.3 470.5 1687.3 469.8Z"/><path d="M1671.8 471.8C1671.5 473 1668.7 473.9 1667.3 473.6C1665.9 473.3 1663.1 471.1 1663.4 469.9C1663.7 468.6 1667.8 465.9 1669.2 466.2C1670.6 466.5 1672.1 470.6 1671.8 471.8Z"/><path d="M1703.9 469C1704.6 469.4 1704.8 472 1704.2 472.8C1703.6 473.7 1700.9 474.4 1700.3 473.9C1699.7 473.5 1699.8 471.1 1700.4 470.3C1701 469.5 1703.3 468.6 1703.9 469Z"/><path d="M1657 471.3C1657.1 470 1658.6 467.2 1659.6 467.1C1660.6 466.9 1662.5 469.2 1663.1 470.4C1663.8 471.7 1664.3 473.9 1663.6 474.6C1662.9 475.3 1660.1 475.3 1659 474.7C1657.9 474.2 1656.9 472.6 1657 471.3Z"/><path d="M1671.5 469.7C1672.8 469.6 1676 471.9 1676.1 473C1676.3 474.1 1673.7 476.3 1672.5 476.4C1671.2 476.6 1668.8 475.1 1668.7 474C1668.5 472.9 1670.3 469.9 1671.5 469.7Z"/><path d="M1664.3 475.6C1663.9 475 1664.3 472.6 1664.9 472.3C1665.6 472 1667.8 472.9 1668.1 473.6C1668.5 474.2 1667.9 475.9 1667.3 476.2C1666.6 476.6 1664.7 476.3 1664.3 475.6Z"/><path d="M1653.8 478.4C1653.2 477.8 1653 475.9 1653.4 474.9C1653.8 474 1655.3 473 1656.3 472.9C1657.4 472.8 1659.2 473.6 1659.7 474.3C1660.1 475.1 1659.6 476.7 1659.1 477.4C1658.7 478 1657.8 478.1 1656.9 478.3C1656 478.4 1654.4 478.9 1653.8 478.4Z"/><path d="M1668.2 472.5C1669.3 472.9 1670.8 476.5 1670.3 477.8C1669.8 479.1 1666.2 480.6 1665.1 480.2C1663.9 479.8 1663.1 476.6 1663.6 475.3C1664.1 474 1667.1 472.1 1668.2 472.5Z"/><path d="M1658.2 472.4C1659.5 471.6 1663.1 472.1 1664.1 473C1665.1 473.9 1664.9 476.5 1664.3 478C1663.6 479.5 1661.6 481.9 1660.2 481.9C1658.8 481.8 1656.3 479.1 1656 477.6C1655.6 476 1656.8 473.1 1658.2 472.4Z"/><path d="M1659.6 480.1C1658.9 479.5 1659.1 476.9 1659.6 475.8C1660.1 474.8 1661.5 473.7 1662.4 473.7C1663.3 473.8 1664.8 475.1 1665.1 476C1665.4 476.9 1665.1 478.7 1664.2 479.4C1663.3 480.1 1660.4 480.7 1659.6 480.1Z"/><path d="M1699.1 474.2C1699.8 474.5 1700.6 476.9 1700.2 477.9C1699.9 478.8 1697.7 480 1697 479.7C1696.3 479.5 1695.5 477.3 1695.9 476.4C1696.2 475.4 1698.4 474 1699.1 474.2Z"/></g>
<path d="M1720 471.7 A26.9 4.3 0 0 1 1773.9 471.7 L1772.8 534.6 A25.9 5.4 0 0 1 1721.1 534.6 Z" fill="#d4d4d4" stroke="#231f20" stroke-width="1.1"/>
<path d="M1720 471.7 A26.9 4.3 0 0 0 1773.9 471.7M1720.3 473.3 A26.6 4.3 0 0 0 1773.6 473.3M1720.3 488.7 A26.7 3.4 0 0 0 1773.6 488.7M1720.3 491.9 A26.6 3.6 0 0 0 1773.5 491.9M1720.4 495.1 A26.5 3.7 0 0 0 1773.5 495.1M1720.4 498.3 A26.5 3.9 0 0 0 1773.4 498.3M1720.5 501.5 A26.4 4 0 0 0 1773.4 501.5M1720.6 504.7 A26.4 4.1 0 0 0 1773.3 504.7M1720.6 507.9 A26.3 4.3 0 0 0 1773.3 507.9M1720.7 511.1 A26.3 4.4 0 0 0 1773.2 511.1M1720.7 514.3 A26.2 4.6 0 0 0 1773.1 514.3M1720.8 517.5 A26.2 4.7 0 0 0 1773.1 517.5M1720.8 520.8 A26.1 4.8 0 0 0 1773 520.8M1720.9 524 A26 5 0 0 0 1773 524M1720.9 527.2 A26 5.1 0 0 0 1772.9 527.2M1721 530.4 A25.9 5.3 0 0 0 1772.9 530.4M1721.1 533.6 A25.9 5.4 0 0 0 1772.8 533.6" fill="none" stroke="#231f20" stroke-width="0.8"/>
<path d="M1744.2 472.2 Q1736.2 457 1719.5 438.4 Q1734.7 457.8 1742.4 473.1" fill="#d4d4d4" stroke="#231f20" stroke-width="0.9" stroke-linejoin="miter" stroke-miterlimit="10"/>
<path d="M1745 471.9 Q1731.1 461 1724.6 441.7 Q1730.1 462.3 1743.7 473.4" fill="#d4d4d4" stroke="#231f20" stroke-width="0.9" stroke-linejoin="miter" stroke-miterlimit="10"/>
<path d="M1746.8 472.2 Q1738.8 457.6 1729.5 437.1 Q1737.3 458.4 1745 473.1" fill="#d4d4d4" stroke="#231f20" stroke-width="0.9" stroke-linejoin="miter" stroke-miterlimit="10"/>
<path d="M1746.6 472.1 Q1734.6 455.2 1729.5 429.8 Q1733.2 456.2 1744.9 473.2" fill="#d4d4d4" stroke="#231f20" stroke-width="0.9" stroke-linejoin="miter" stroke-miterlimit="10"/>
<path d="M1747 472.3 Q1741.7 456.2 1733.8 434.1 Q1740.1 456.7 1745.1 473" fill="#d4d4d4" stroke="#231f20" stroke-width="0.9" stroke-linejoin="miter" stroke-miterlimit="10"/>
<path d="M1747.2 472.8 Q1748.8 456.2 1743.1 433.7 Q1747.1 456 1745.2 472.5" fill="#d4d4d4" stroke="#231f20" stroke-width="0.9" stroke-linejoin="miter" stroke-miterlimit="10"/>
<path d="M1747.8 472.6 Q1747 453.7 1742.5 427.7 Q1745.3 453.7 1745.8 472.7" fill="#d4d4d4" stroke="#231f20" stroke-width="0.9" stroke-linejoin="miter" stroke-miterlimit="10"/>
<path d="M1747.3 473 Q1756.9 448.7 1751.7 414 Q1755.3 448 1745.4 472.3" fill="#d4d4d4" stroke="#231f20" stroke-width="0.9" stroke-linejoin="miter" stroke-miterlimit="10"/>
<path d="M1748.2 472.8 Q1751.8 452.3 1755 423.7 Q1750.2 452 1746.2 472.5" fill="#d4d4d4" stroke="#231f20" stroke-width="0.9" stroke-linejoin="miter" stroke-miterlimit="10"/>
<path d="M1749.6 473 Q1754.2 458.5 1754.5 437.6 Q1752.6 457.9 1747.7 472.3" fill="#d4d4d4" stroke="#231f20" stroke-width="0.9" stroke-linejoin="miter" stroke-miterlimit="10"/>
<path d="M1749.1 473.2 Q1757 459.3 1757.6 438.3 Q1755.6 458.5 1747.4 472.1" fill="#d4d4d4" stroke="#231f20" stroke-width="0.9" stroke-linejoin="miter" stroke-miterlimit="10"/>
<path d="M1749.6 473.3 Q1763.3 458 1766.8 432.7 Q1762.1 456.9 1748.1 472" fill="#d4d4d4" stroke="#231f20" stroke-width="0.9" stroke-linejoin="miter" stroke-miterlimit="10"/>
<path d="M1749.4 473.3 Q1759.8 461.2 1767.9 442.2 Q1758.5 460.1 1747.9 472" fill="#d4d4d4" stroke="#231f20" stroke-width="0.9" stroke-linejoin="miter" stroke-miterlimit="10"/>
<path d="M1750 473.4 Q1761.4 463.7 1769.3 446.7 Q1760.3 462.4 1748.7 471.9" fill="#d4d4d4" stroke="#231f20" stroke-width="0.9" stroke-linejoin="miter" stroke-miterlimit="10"/>
<path d="M1790.2 479.4 A26.5 4.2 0 0 1 1843.2 479.4 L1842.2 534.6 A25.4 5.3 0 0 1 1791.3 534.6 Z" fill="#d4d4d4" stroke="#231f20" stroke-width="1.1"/>
<path d="M1790.2 479.4 A26.5 4.2 0 0 0 1843.2 479.4M1790.5 481 A26.2 4.2 0 0 0 1842.9 481M1790.5 496.4 A26.2 3.4 0 0 0 1842.9 496.4M1790.6 499 A26.1 3.5 0 0 0 1842.8 499M1790.6 501.7 A26.1 3.7 0 0 0 1842.8 501.7M1790.7 504.4 A26 3.8 0 0 0 1842.7 504.4M1790.8 507 A26 3.9 0 0 0 1842.7 507M1790.8 509.7 A25.9 4.1 0 0 0 1842.6 509.7M1790.9 512.3 A25.9 4.2 0 0 0 1842.6 512.3M1790.9 515 A25.8 4.3 0 0 0 1842.5 515M1791 517.6 A25.8 4.5 0 0 0 1842.5 517.6M1791 520.3 A25.7 4.6 0 0 0 1842.4 520.3M1791.1 523 A25.7 4.8 0 0 0 1842.4 523M1791.1 525.6 A25.6 4.9 0 0 0 1842.3 525.6M1791.2 528.3 A25.6 5 0 0 0 1842.3 528.3M1791.2 530.9 A25.5 5.2 0 0 0 1842.2 530.9M1791.3 533.6 A25.5 5.3 0 0 0 1842.2 533.6" fill="none" stroke="#231f20" stroke-width="0.8"/>
<g fill="#d4d4d4" stroke="#231f20" stroke-width="0.8"><path d="M1827.5 456.4C1828 457.2 1827 459.7 1826 460.3C1824.9 460.9 1821.8 460.8 1821.3 459.9C1820.7 459 1821.6 455.6 1822.6 455C1823.6 454.4 1826.9 455.5 1827.5 456.4Z"/><path d="M1826.7 461.2C1827.3 461.8 1827.3 463.2 1827 463.9C1826.7 464.5 1825.8 465.1 1824.8 465.1C1823.9 465.1 1821.9 464.7 1821.6 463.9C1821.3 463.1 1822.3 460.7 1823.1 460.2C1824 459.8 1826 460.6 1826.7 461.2Z"/><path d="M1827.6 465.8C1828.2 464.8 1829.1 464.1 1830.3 464.1C1831.5 464.2 1834.5 464.9 1834.8 465.9C1835.1 466.9 1833.5 469.6 1832.1 470.4C1830.7 471.1 1827.2 471.3 1826.5 470.6C1825.7 469.8 1826.9 466.9 1827.6 465.8Z"/><path d="M1815.3 464.3C1816.3 463.8 1820.1 464.4 1820.6 465.4C1821.1 466.4 1819.3 469.7 1818.3 470.2C1817.3 470.6 1815.1 469.1 1814.7 468.1C1814.2 467.1 1814.3 464.7 1815.3 464.3Z"/><path d="M1813.1 470.9C1812.4 471.6 1810.4 471.6 1809.5 471.3C1808.5 471.1 1807.5 470.3 1807.3 469.6C1807 468.9 1807.4 467.7 1807.9 467.2C1808.4 466.6 1809.1 466.4 1810.1 466.3C1811.1 466.3 1813.2 466.2 1813.7 467C1814.2 467.7 1813.8 470.2 1813.1 470.9Z"/><path d="M1802.9 470.3C1802.1 470.4 1800.3 469.7 1800.2 469.1C1800 468.5 1801.3 466.8 1802.2 466.6C1803 466.5 1805 467.5 1805.2 468.1C1805.3 468.7 1803.8 470.1 1802.9 470.3Z"/><path d="M1798.2 470.7C1797.4 471.1 1795.8 472 1795.1 471.7C1794.3 471.3 1793.6 469.4 1793.8 468.4C1793.9 467.3 1794.9 465.7 1795.8 465.4C1796.8 465 1799 465.4 1799.6 466.1C1800.2 466.7 1799.7 468.3 1799.5 469.1C1799.3 469.9 1798.9 470.2 1798.2 470.7Z"/><path d="M1828.2 469.1C1828 468.2 1828.8 466.1 1829.8 465.4C1830.8 464.8 1833.5 464.7 1834.3 465.3C1835.1 465.9 1834.6 468.1 1834.4 469C1834.2 470 1833.8 470.6 1833.2 470.9C1832.7 471.3 1831.8 471.3 1830.9 471C1830.1 470.7 1828.4 470.1 1828.2 469.1Z"/><path d="M1816.2 468.1C1817.2 468.5 1818.2 469.1 1818.5 470.1C1818.7 471.1 1818.6 473.5 1817.8 474C1817 474.5 1815.2 473.6 1813.9 473C1812.6 472.5 1810.3 471.9 1810.1 470.9C1809.9 470 1811.8 467.9 1812.8 467.4C1813.8 467 1815.3 467.6 1816.2 468.1Z"/><path d="M1805.7 469.9C1805.9 470.5 1805.1 472.2 1804.4 472.5C1803.8 472.9 1802.7 472.6 1802 472.1C1801.3 471.7 1799.8 470.3 1800 469.8C1800.2 469.3 1802.1 469.1 1803 469.1C1804 469.1 1805.5 469.3 1805.7 469.9Z"/><path d="M1816.7 468.4C1817.8 467.4 1821 467.6 1822 468.6C1823 469.6 1823.8 473.4 1822.7 474.4C1821.6 475.4 1816.4 475.6 1815.4 474.6C1814.4 473.5 1815.6 469.4 1816.7 468.4Z"/><path d="M1818.7 473.8C1817.6 473.2 1816.2 472.2 1816.1 471.2C1816.1 470.2 1817.1 468.4 1818.2 467.8C1819.2 467.1 1821.5 466.9 1822.6 467.4C1823.6 468 1824.3 469.9 1824.3 471.2C1824.3 472.5 1823.6 474.7 1822.6 475.2C1821.7 475.6 1819.8 474.5 1818.7 473.8Z"/><path d="M1803.4 469C1804.5 469.6 1804.8 472.7 1804.2 473.7C1803.6 474.8 1800.9 475.8 1799.8 475.2C1798.7 474.6 1796.8 471.1 1797.4 470.1C1798 469.1 1802.3 468.4 1803.4 469Z"/><path d="M1832 475.1C1831.5 474.6 1831.9 473 1832.2 472.1C1832.5 471.3 1833 470.4 1833.8 470.1C1834.6 469.8 1836.4 469.9 1836.9 470.4C1837.5 471 1837.3 472.6 1837 473.4C1836.7 474.1 1836 474.7 1835.1 475C1834.3 475.3 1832.4 475.6 1832 475.1Z"/><path d="M1823.9 474.6C1823 474.4 1820.9 472.9 1821.1 472.1C1821.3 471.2 1824.3 469.4 1825.1 469.6C1826 469.8 1826.4 472.4 1826.2 473.3C1825.9 474.1 1824.7 474.8 1823.9 474.6Z"/><path d="M1814.4 469.4C1815.3 469 1817.9 470.4 1818.8 471.3C1819.6 472.1 1819.5 473.3 1819.5 474.4C1819.4 475.5 1819.3 477.2 1818.3 477.8C1817.4 478.4 1814.4 478.6 1813.6 477.9C1812.8 477.2 1813.3 475.2 1813.4 473.7C1813.5 472.3 1813.5 469.8 1814.4 469.4Z"/><path d="M1794.5 476.5C1793.2 476 1791.8 474.1 1792.2 473.1C1792.6 472.1 1795.7 470 1796.9 470.5C1798.2 471 1800.3 475 1799.9 476C1799.5 477 1795.8 477 1794.5 476.5Z"/><path d="M1837.2 471.4C1838.3 471.7 1839 473.9 1838.7 475C1838.4 476.1 1836.4 478.5 1835.3 478.2C1834.3 478 1832.1 474.6 1832.5 473.4C1832.8 472.3 1836.2 471.1 1837.2 471.4Z"/><path d="M1807 475.1C1807 474.3 1807.3 472.6 1807.9 472.4C1808.5 472.1 1810 473 1810.6 473.6C1811.3 474.1 1812 475.1 1811.9 475.7C1811.8 476.3 1810.7 477 1810 477.2C1809.3 477.4 1808.4 477.3 1807.9 477C1807.4 476.6 1807 475.8 1807 475.1Z"/><path d="M1797.9 479.4C1797.1 479.1 1796.6 478.3 1796.4 477.6C1796.1 476.8 1795.9 475.6 1796.4 475C1796.9 474.5 1798.6 473.9 1799.3 474.1C1799.9 474.4 1800.2 475.7 1800.4 476.5C1800.7 477.3 1801.2 478.6 1800.8 479.1C1800.4 479.6 1798.6 479.6 1797.9 479.4Z"/><path d="M1820.5 479.7C1820 479.2 1820.4 476.7 1821.1 476.1C1821.8 475.4 1824.1 475.1 1824.6 475.6C1825.1 476.1 1824.9 478.2 1824.2 478.9C1823.5 479.6 1821.1 480.1 1820.5 479.7Z"/><path d="M1812.6 478.5C1812.7 479.3 1812.9 481.2 1812.3 481.6C1811.6 482 1809.3 481.6 1808.6 481C1807.9 480.3 1807.9 478.8 1808 477.9C1808.2 477 1809 475.9 1809.7 475.7C1810.4 475.4 1811.7 476 1812.2 476.5C1812.7 477 1812.6 477.6 1812.6 478.5Z"/><path d="M1832 480.3C1831.1 481.4 1829 482.3 1827.8 482C1826.6 481.7 1824.9 479.4 1824.9 478.4C1825 477.4 1826.8 476.3 1828.1 475.9C1829.4 475.4 1832.1 474.9 1832.8 475.6C1833.4 476.4 1832.8 479.2 1832 480.3Z"/><path d="M1825.5 480.1C1824.9 479.5 1825 478 1825.6 477.5C1826.1 477 1828.2 476.5 1828.8 477.1C1829.4 477.7 1829.8 480.6 1829.2 481.1C1828.7 481.6 1826.1 480.7 1825.5 480.1Z"/><path d="M1801.2 477.2C1802 477.8 1802.9 481.5 1802.1 482.3C1801.3 483.2 1797.3 483.1 1796.5 482.4C1795.7 481.7 1796.4 479.2 1797.2 478.4C1798 477.5 1800.4 476.5 1801.2 477.2Z"/><path d="M1836.8 477.1C1837.6 476.5 1841.1 477.2 1841.8 478C1842.5 478.8 1841.7 481.3 1841 481.9C1840.2 482.5 1837.8 482.4 1837.1 481.6C1836.4 480.8 1836 477.7 1836.8 477.1Z"/><path d="M1836.7 479.9C1836.8 480.6 1835.5 481.6 1834.8 481.7C1834.1 481.7 1832.6 480.8 1832.6 480.2C1832.5 479.5 1833.9 477.9 1834.5 477.9C1835.2 477.8 1836.7 479.3 1836.7 479.9Z"/><path d="M1830.8 478.5C1832.1 479.3 1834.2 482.1 1833.5 483.1C1832.9 484.1 1828.3 485.2 1827 484.4C1825.7 483.7 1825 479.5 1825.6 478.5C1826.3 477.5 1829.5 477.8 1830.8 478.5Z"/><path d="M1800.9 483.1C1800.2 484.1 1797.4 483.7 1796.5 483.1C1795.6 482.5 1794.7 480.2 1795.4 479.3C1796.2 478.3 1800 476.7 1801 477.3C1801.9 478 1801.7 482.1 1800.9 483.1Z"/><path d="M1823.8 479.5C1824.8 479.6 1826.3 480.3 1826.6 481.1C1826.8 481.8 1826 483.6 1825.2 484C1824.5 484.5 1823 484.2 1822.2 483.6C1821.4 483.1 1820.3 481.4 1820.6 480.7C1820.9 480 1822.8 479.5 1823.8 479.5Z"/></g>
<path d="M1587.3 489.8 A27.2 4.3 0 0 1 1641.6 489.8 L1640.5 544.5 A26.1 5.4 0 0 1 1588.3 544.5 Z" fill="#d4d4d4" stroke="#231f20" stroke-width="1.1"/>
<path d="M1587.3 489.8 A27.2 4.3 0 0 0 1641.6 489.8M1587.6 491.4 A26.9 4.3 0 0 0 1641.3 491.4M1587.6 506.8 A26.8 3.5 0 0 0 1641.3 506.8M1587.7 509.4 A26.8 3.6 0 0 0 1641.2 509.4M1587.7 512 A26.7 3.8 0 0 0 1641.1 512M1587.8 514.6 A26.7 3.9 0 0 0 1641.1 514.6M1587.8 517.3 A26.6 4 0 0 0 1641 517.3M1587.9 519.9 A26.6 4.2 0 0 0 1641 519.9M1587.9 522.5 A26.5 4.3 0 0 0 1640.9 522.5M1588 525.1 A26.5 4.5 0 0 0 1640.9 525.1M1588 527.8 A26.4 4.6 0 0 0 1640.8 527.8M1588.1 530.4 A26.4 4.7 0 0 0 1640.8 530.4M1588.1 533 A26.3 4.9 0 0 0 1640.7 533M1588.2 535.7 A26.3 5 0 0 0 1640.7 535.7M1588.2 538.3 A26.2 5.2 0 0 0 1640.6 538.3M1588.3 540.9 A26.1 5.3 0 0 0 1640.6 540.9M1588.3 543.5 A26.1 5.4 0 0 0 1640.5 543.5" fill="none" stroke="#231f20" stroke-width="0.8"/>
<path d="M1611.7 490.1 Q1602.8 479.1 1590.6 463.9 Q1601.5 480.1 1610.1 491.4" fill="#d4d4d4" stroke="#231f20" stroke-width="0.9" stroke-linejoin="miter" stroke-miterlimit="10"/>
<path d="M1612 490 Q1594.1 477.1 1586.1 453.3 Q1593.1 478.4 1610.9 491.6" fill="#d4d4d4" stroke="#231f20" stroke-width="0.9" stroke-linejoin="miter" stroke-miterlimit="10"/>
<path d="M1614.3 490.6 Q1611.3 475.6 1600 456.4 Q1609.6 475.9 1612.4 491" fill="#d4d4d4" stroke="#231f20" stroke-width="0.9" stroke-linejoin="miter" stroke-miterlimit="10"/>
<path d="M1613.7 490.2 Q1604.7 476.5 1603.7 456 Q1603.3 477.4 1612 491.3" fill="#d4d4d4" stroke="#231f20" stroke-width="0.9" stroke-linejoin="miter" stroke-miterlimit="10"/>
<path d="M1614.6 490.5 Q1609.1 468.8 1604.4 438.5 Q1607.4 469.2 1612.6 491" fill="#d4d4d4" stroke="#231f20" stroke-width="0.9" stroke-linejoin="miter" stroke-miterlimit="10"/>
<path d="M1614.7 490.7 Q1612.1 468.3 1604.7 437.7 Q1610.4 468.4 1612.7 490.9" fill="#d4d4d4" stroke="#231f20" stroke-width="0.9" stroke-linejoin="miter" stroke-miterlimit="10"/>
<path d="M1614.3 490.8 Q1615.1 473.6 1610 450.1 Q1613.4 473.5 1612.3 490.7" fill="#d4d4d4" stroke="#231f20" stroke-width="0.9" stroke-linejoin="miter" stroke-miterlimit="10"/>
<path d="M1616.4 490.6 Q1614.2 474.2 1616.8 451.8 Q1612.5 474.4 1614.4 490.9" fill="#d4d4d4" stroke="#231f20" stroke-width="0.9" stroke-linejoin="miter" stroke-miterlimit="10"/>
<path d="M1615.5 491.1 Q1621.9 475.4 1619.8 452.7 Q1620.3 474.8 1613.7 490.4" fill="#d4d4d4" stroke="#231f20" stroke-width="0.9" stroke-linejoin="miter" stroke-miterlimit="10"/>
<path d="M1616.5 490.9 Q1618.1 475.2 1623.2 453.9 Q1616.5 475 1614.5 490.6" fill="#d4d4d4" stroke="#231f20" stroke-width="0.9" stroke-linejoin="miter" stroke-miterlimit="10"/>
<path d="M1617.9 490.9 Q1619.6 476.4 1629.3 458.1 Q1617.9 476.2 1615.9 490.6" fill="#d4d4d4" stroke="#231f20" stroke-width="0.9" stroke-linejoin="miter" stroke-miterlimit="10"/>
<path d="M1616.6 491.3 Q1627.4 474.6 1638.2 450.2 Q1626 473.7 1614.9 490.2" fill="#d4d4d4" stroke="#231f20" stroke-width="0.9" stroke-linejoin="miter" stroke-miterlimit="10"/>
<path d="M1617.1 491.2 Q1624.2 477.8 1633.4 458.8 Q1622.8 476.9 1615.3 490.3" fill="#d4d4d4" stroke="#231f20" stroke-width="0.9" stroke-linejoin="miter" stroke-miterlimit="10"/>
<path d="M1618.9 491.3 Q1630 474.4 1649.7 453.1 Q1628.6 473.4 1617.2 490.2" fill="#d4d4d4" stroke="#231f20" stroke-width="0.9" stroke-linejoin="miter" stroke-miterlimit="10"/>
<path d="M1659.9 503.7 A26.5 4.2 0 0 1 1712.9 503.7 L1711.9 551.2 A25.4 5.3 0 0 1 1661 551.2 Z" fill="#d4d4d4" stroke="#231f20" stroke-width="1.1"/>
<path d="M1659.9 503.7 A26.5 4.2 0 0 0 1712.9 503.7M1660.2 505.3 A26.2 4.2 0 0 0 1712.6 505.3M1660.3 520.7 A26.1 3.4 0 0 0 1712.5 520.7M1660.3 522.8 A26.1 3.5 0 0 0 1712.5 522.8M1660.4 524.9 A26 3.7 0 0 0 1712.5 524.9M1660.4 527 A26 3.8 0 0 0 1712.4 527M1660.5 529.1 A25.9 3.9 0 0 0 1712.4 529.1M1660.5 531.2 A25.9 4.1 0 0 0 1712.3 531.2M1660.6 533.3 A25.8 4.2 0 0 0 1712.3 533.3M1660.6 535.4 A25.8 4.3 0 0 0 1712.2 535.4M1660.7 537.5 A25.7 4.5 0 0 0 1712.2 537.5M1660.7 539.6 A25.7 4.6 0 0 0 1712.1 539.6M1660.8 541.7 A25.7 4.8 0 0 0 1712.1 541.7M1660.8 543.8 A25.6 4.9 0 0 0 1712 543.8M1660.9 545.9 A25.6 5 0 0 0 1712 545.9M1660.9 548.1 A25.5 5.2 0 0 0 1711.9 548.1M1661 550.2 A25.5 5.3 0 0 0 1711.9 550.2" fill="none" stroke="#231f20" stroke-width="0.8"/>
<g fill="#d4d4d4" stroke="#231f20" stroke-width="0.8"><path d="M1688.3 481.7C1688.1 483.2 1684.1 485.5 1682.8 485.4C1681.4 485.2 1680 482.2 1680.2 480.8C1680.4 479.3 1682.6 476.5 1683.9 476.6C1685.3 476.8 1688.5 480.3 1688.3 481.7Z"/><path d="M1672.4 481C1672.5 480.3 1674.6 479.5 1676 479.3C1677.3 479 1679.7 478.8 1680.3 479.6C1680.9 480.4 1680.1 483.6 1679.3 484.3C1678.5 484.9 1676.5 484.1 1675.4 483.6C1674.2 483 1672.3 481.8 1672.4 481Z"/><path d="M1682.7 480.8C1683.1 480.3 1685 480.4 1685.7 480.6C1686.4 480.8 1687 481.4 1687.1 482.1C1687.3 482.8 1687.2 484.8 1686.6 485.1C1686 485.4 1684 484.6 1683.4 483.9C1682.7 483.2 1682.3 481.3 1682.7 480.8Z"/><path d="M1680.3 485.3C1679.4 485.9 1676.5 485.6 1676 484.9C1675.5 484.3 1676.5 482.2 1677.3 481.6C1678.2 480.9 1680.8 480.6 1681.2 481.2C1681.7 481.8 1681.2 484.6 1680.3 485.3Z"/><path d="M1695.1 479.9C1696.2 479.5 1699.5 480.4 1700.1 481.2C1700.7 482.1 1699.7 484 1698.9 485.2C1698.1 486.5 1696 489 1695.2 488.8C1694.4 488.6 1693.9 485.4 1693.9 483.9C1693.9 482.4 1694.1 480.4 1695.1 479.9Z"/><path d="M1696.5 486.4C1695.4 486.4 1694.2 485.8 1693.7 484.9C1693.2 484 1693 481.7 1693.8 481C1694.5 480.4 1697.2 480.4 1698.3 481C1699.3 481.7 1700.4 484 1700.1 484.9C1699.8 485.8 1697.6 486.4 1696.5 486.4Z"/><path d="M1685.7 487.7C1685.3 488.9 1684.2 490.9 1683 491.2C1681.7 491.6 1678.9 490.6 1678.2 489.6C1677.6 488.6 1678.6 486.6 1679.1 485.5C1679.6 484.4 1680.3 483.4 1681.4 483.1C1682.4 482.8 1684.5 483.1 1685.2 483.9C1685.9 484.6 1686.1 486.5 1685.7 487.7Z"/><path d="M1700.3 489C1699.6 489.3 1698.6 488.9 1697.9 488.5C1697.2 488 1695.9 487 1696 486.3C1696.1 485.7 1697.6 485 1698.4 484.7C1699.3 484.4 1700.4 484.2 1701 484.6C1701.6 485 1702.2 486.4 1702 487.1C1701.9 487.8 1701 488.8 1700.3 489Z"/><path d="M1669 485.9C1670.1 484.9 1673.6 484.3 1675.1 485.1C1676.5 485.9 1678 489.4 1677.6 490.6C1677.2 491.7 1674.3 492 1672.7 492.1C1671.1 492.2 1668.8 492.4 1668.2 491.3C1667.6 490.3 1667.8 487 1669 485.9Z"/><path d="M1670.8 488.7C1671.2 488.1 1673.2 487.3 1673.8 487.5C1674.5 487.8 1674.7 489.5 1674.7 490.2C1674.8 490.9 1674.8 491.6 1674.4 492C1674 492.4 1673 492.7 1672.5 492.5C1672 492.4 1671.5 491.8 1671.3 491.1C1671 490.5 1670.4 489.3 1670.8 488.7Z"/><path d="M1687.3 493.8C1686.4 493.6 1684.8 491.6 1684.9 491C1685.1 490.3 1687.4 489.6 1688.3 489.8C1689.3 490 1690.9 491.6 1690.7 492.3C1690.6 492.9 1688.3 494 1687.3 493.8Z"/><path d="M1688.5 490.7C1689.2 491.8 1690.5 492.9 1690.2 494C1689.9 495.1 1687.9 497.3 1686.7 497.4C1685.5 497.5 1683.7 495.6 1683 494.5C1682.3 493.3 1682 491.9 1682.4 490.7C1682.9 489.5 1684.6 487.3 1685.7 487.3C1686.7 487.3 1687.7 489.6 1688.5 490.7Z"/><path d="M1703 495.9C1702.1 495.5 1701.5 494.6 1701.1 493.6C1700.8 492.7 1700.2 491 1700.8 490.1C1701.5 489.2 1703.8 488 1705 488.2C1706.2 488.5 1707.7 490.5 1708 491.7C1708.3 492.9 1707.7 495 1706.9 495.6C1706 496.3 1704 496.2 1703 495.9Z"/><path d="M1684.3 493.3C1684.7 492.1 1687.7 489.8 1688.7 490.1C1689.7 490.4 1690.6 493.8 1690.2 495C1689.8 496.3 1687.3 497.6 1686.3 497.3C1685.4 497 1683.9 494.5 1684.3 493.3Z"/><path d="M1696.6 498.9C1695.3 499 1692.7 497.2 1692.6 496.2C1692.6 495.1 1695 492.7 1696.3 492.7C1697.6 492.6 1700.5 494.8 1700.6 495.8C1700.6 496.8 1698 498.8 1696.6 498.9Z"/><path d="M1672 498.8C1671.3 499.1 1669.6 498.3 1669.1 497.7C1668.5 497.2 1668.3 496.1 1668.5 495.6C1668.8 495 1669.7 494.5 1670.5 494.5C1671.3 494.5 1673 494.9 1673.2 495.6C1673.5 496.3 1672.7 498.4 1672 498.8Z"/><path d="M1702.5 494.5C1703.2 494.6 1704.2 495.8 1704.1 496.6C1703.9 497.5 1702.5 499.7 1701.8 499.6C1701 499.5 1699.6 496.9 1699.7 496.1C1699.8 495.2 1701.8 494.4 1702.5 494.5Z"/><path d="M1704.9 495.9C1705.7 496.3 1706.8 497.6 1706.7 498.3C1706.5 498.9 1705.1 499.9 1704.1 500C1703.1 500.1 1701.2 499.6 1700.9 498.9C1700.5 498.2 1701.4 496.3 1702 495.8C1702.7 495.3 1704.2 495.5 1704.9 495.9Z"/><path d="M1684.3 501.9C1683 501.2 1681.5 499.2 1681.8 498C1682 496.8 1684.3 495 1685.8 494.8C1687.4 494.7 1690.3 495.8 1690.9 497.1C1691.5 498.4 1690.6 501.8 1689.5 502.6C1688.4 503.4 1685.6 502.7 1684.3 501.9Z"/><path d="M1670.1 496.5C1671.1 497.1 1672.2 499.3 1671.9 500.3C1671.6 501.2 1669.6 501.7 1668.5 502C1667.4 502.4 1666 502.8 1665.3 502.3C1664.5 501.9 1663.8 500.2 1663.9 499.2C1664.1 498.2 1665 496.8 1666.1 496.4C1667.1 495.9 1669.1 495.8 1670.1 496.5Z"/><path d="M1694 501.1C1694 502.3 1691.4 504.1 1690.3 504.1C1689.2 504.1 1687.3 502.1 1687.3 500.9C1687.4 499.8 1689.4 497.1 1690.5 497.1C1691.6 497.1 1694.1 499.9 1694 501.1Z"/><path d="M1676.9 499.3C1677.9 500 1679 501.8 1678.8 502.5C1678.5 503.3 1676.5 503.7 1675.3 503.7C1674 503.8 1671.6 503.6 1671.2 502.7C1670.9 501.9 1672.1 499.1 1673 498.5C1673.9 497.9 1676 498.6 1676.9 499.3Z"/><path d="M1687 503.9C1686 503.6 1684.8 502.4 1684.8 501.6C1684.7 500.8 1686 499.4 1686.8 499.2C1687.6 498.9 1689 499.3 1689.6 500C1690.2 500.7 1691 502.6 1690.6 503.3C1690.1 503.9 1688 504.1 1687 503.9Z"/><path d="M1670.8 503.7C1670 502.9 1669.2 500.8 1669.7 499.7C1670.3 498.6 1673 496.9 1674.1 497.1C1675.3 497.4 1676.8 499.9 1676.9 501.1C1677 502.4 1675.8 504.2 1674.7 504.6C1673.7 505 1671.6 504.5 1670.8 503.7Z"/><path d="M1667.6 504.5C1666.8 504.2 1665.6 502.2 1665.8 501.2C1666 500.1 1667.7 498.3 1668.6 498.2C1669.4 498.1 1670.6 499.8 1671 500.7C1671.5 501.6 1671.6 502.7 1671 503.3C1670.4 504 1668.5 504.9 1667.6 504.5Z"/><path d="M1682.1 503.3C1681.8 504.7 1679.1 507.8 1678 507.6C1676.9 507.4 1675.2 503.7 1675.5 502.2C1675.7 500.8 1678.4 498.7 1679.5 498.9C1680.6 499.1 1682.3 501.8 1682.1 503.3Z"/><path d="M1690.1 503.3C1690.1 504.1 1689.4 505.2 1688.7 505.7C1687.9 506.1 1686.3 506.4 1685.6 506C1684.9 505.6 1684.5 504.1 1684.5 503.3C1684.6 502.5 1685.2 501.6 1685.9 501.2C1686.5 500.8 1688 500.4 1688.7 500.7C1689.4 501.1 1690.1 502.4 1690.1 503.3Z"/><path d="M1670.6 501.9C1671.3 501.6 1673.4 502.8 1673.8 503.6C1674.2 504.4 1673.9 506.4 1673.2 506.7C1672.4 507.1 1669.9 506.4 1669.5 505.6C1669.1 504.8 1669.9 502.2 1670.6 501.9Z"/><path d="M1699.9 507C1699.1 507.5 1697.8 508 1697.1 507.7C1696.3 507.4 1695.5 506.2 1695.3 505.2C1695.2 504.2 1695.3 502.5 1696.1 501.8C1697 501.2 1699.3 500.8 1700.3 501.2C1701.2 501.7 1702 503.7 1702 504.7C1701.9 505.6 1700.7 506.5 1699.9 507Z"/><path d="M1692 504.2C1692.8 504.4 1693.7 505.2 1694 506.2C1694.3 507.2 1694.6 509.6 1693.8 510.3C1693 511 1690.2 511 1689.2 510.4C1688.1 509.9 1687.3 507.9 1687.3 506.9C1687.4 506 1688.6 505 1689.4 504.6C1690.2 504.1 1691.3 503.9 1692 504.2Z"/></g>
<path d="M1734.3 502.6 A26.5 4.2 0 0 1 1787.3 502.6 L1786.3 551.2 A25.4 5.3 0 0 1 1735.4 551.2 Z" fill="#d4d4d4" stroke="#231f20" stroke-width="1.1"/>
<path d="M1734.3 502.6 A26.5 4.2 0 0 0 1787.3 502.6M1734.6 504.2 A26.2 4.2 0 0 0 1787 504.2M1734.7 519.6 A26.1 3.4 0 0 0 1787 519.6M1734.8 521.8 A26.1 3.5 0 0 0 1786.9 521.8M1734.8 523.9 A26 3.7 0 0 0 1786.9 523.9M1734.9 526.1 A26 3.8 0 0 0 1786.8 526.1M1734.9 528.3 A25.9 3.9 0 0 0 1786.8 528.3M1735 530.5 A25.9 4.1 0 0 0 1786.7 530.5M1735 532.7 A25.8 4.2 0 0 0 1786.7 532.7M1735.1 534.9 A25.8 4.3 0 0 0 1786.6 534.9M1735.1 537 A25.7 4.5 0 0 0 1786.6 537M1735.1 539.2 A25.7 4.6 0 0 0 1786.5 539.2M1735.2 541.4 A25.7 4.8 0 0 0 1786.5 541.4M1735.2 543.6 A25.6 4.9 0 0 0 1786.5 543.6M1735.3 545.8 A25.6 5 0 0 0 1786.4 545.8M1735.3 548 A25.5 5.2 0 0 0 1786.4 548M1735.4 550.2 A25.5 5.3 0 0 0 1786.3 550.2" fill="none" stroke="#231f20" stroke-width="0.8"/>
<g fill="#d4d4d4" stroke="#231f20" stroke-width="0.8"><path d="M1764.7 477.4C1764.8 478.4 1764.9 480.5 1764 481C1763.2 481.4 1760.4 481 1759.5 480.2C1758.7 479.4 1758.6 476.9 1759.2 476C1759.7 475.1 1762 474.4 1762.9 474.7C1763.9 474.9 1764.5 476.3 1764.7 477.4Z"/><path d="M1761.1 479.1C1761.2 478.1 1762.6 477.2 1763.4 476.8C1764.1 476.4 1765 476.4 1765.7 476.7C1766.4 477 1767.4 477.8 1767.5 478.4C1767.6 479.1 1766.9 479.9 1766.2 480.5C1765.4 481.1 1763.9 482.5 1763.1 482.2C1762.3 482 1761.1 480 1761.1 479.1Z"/><path d="M1750.4 482.2C1749.7 481.7 1748.3 480.4 1748.5 479.8C1748.6 479.1 1750.3 478.4 1751.2 478.2C1752.1 477.9 1753.3 477.6 1754.1 478.1C1754.8 478.6 1755.9 480.3 1755.7 481.1C1755.6 481.8 1753.8 482.6 1752.9 482.8C1752 483 1751.1 482.7 1750.4 482.2Z"/><path d="M1762 485.5C1761 485.5 1759.5 484.9 1759.1 484.2C1758.6 483.5 1758.6 481.8 1759.1 481.1C1759.5 480.4 1760.7 480.2 1761.8 480C1762.9 479.9 1765.2 479.6 1765.7 480.3C1766.3 480.9 1765.7 483.2 1765 484.1C1764.4 485 1763 485.4 1762 485.5Z"/><path d="M1767.6 484.4C1767 484.9 1766.2 485.5 1765.5 485.4C1764.7 485.3 1763.4 484.4 1763.2 483.7C1763 483 1763.8 481.6 1764.4 481.1C1765 480.6 1766.1 480.5 1767 480.7C1767.8 480.9 1769.2 481.7 1769.3 482.3C1769.4 482.9 1768.2 483.9 1767.6 484.4Z"/><path d="M1754.7 485.9C1754 485.3 1753.9 483.7 1754.3 482.7C1754.6 481.8 1756 480 1756.7 480C1757.4 480.1 1758.3 481.9 1758.7 482.9C1759 484 1759.4 485.9 1758.7 486.4C1758.1 486.9 1755.4 486.5 1754.7 485.9Z"/><path d="M1753.9 483.5C1754.9 484.3 1755.8 487.8 1755 488.8C1754.1 489.8 1749.9 490.3 1748.9 489.5C1747.8 488.7 1748.1 485.2 1748.9 484.2C1749.8 483.2 1752.9 482.8 1753.9 483.5Z"/><path d="M1746.9 486.9C1747.1 485.9 1748.6 484.5 1749.4 484.5C1750.2 484.4 1751.3 485.7 1751.8 486.6C1752.2 487.5 1752.8 489.5 1752.1 490.1C1751.5 490.7 1748.8 490.9 1747.9 490.3C1747 489.8 1746.6 487.8 1746.9 486.9Z"/><path d="M1757.7 485.4C1758.2 485.4 1759.1 486.8 1759.4 487.6C1759.8 488.4 1760.2 489.9 1759.8 490.2C1759.4 490.6 1757.6 490.1 1757 489.7C1756.5 489.3 1756.3 488.6 1756.4 487.9C1756.5 487.2 1757.2 485.5 1757.7 485.4Z"/><path d="M1769.1 492.6C1768.2 493 1766.3 491.9 1765.3 491.2C1764.3 490.5 1762.9 489.2 1763 488.4C1763.1 487.7 1764.9 486.9 1765.9 486.5C1766.9 486 1768.4 485.3 1769.2 485.7C1769.9 486.1 1770.3 487.7 1770.3 488.9C1770.3 490 1769.9 492.2 1769.1 492.6Z"/><path d="M1778.5 492.5C1777.7 492.7 1776 491.3 1775.4 490.5C1774.8 489.7 1774.4 488.6 1774.9 487.7C1775.4 486.9 1777.3 485.3 1778.2 485.5C1779.1 485.7 1780.1 487.9 1780.2 489C1780.2 490.2 1779.3 492.2 1778.5 492.5Z"/><path d="M1761.3 486.5C1762.2 486.6 1764.4 488.6 1764.4 489.5C1764.5 490.4 1762.6 491.5 1761.7 491.9C1760.8 492.3 1759.5 492.2 1759 491.7C1758.6 491.3 1758.6 490.1 1759 489.3C1759.4 488.4 1760.4 486.5 1761.3 486.5Z"/><path d="M1759.7 487.4C1760.5 487.1 1761.9 488.9 1762.9 489.7C1763.8 490.5 1765.5 491.2 1765.5 492C1765.4 492.8 1763.9 494 1762.7 494.5C1761.5 495 1759.1 495.7 1758.4 495.1C1757.6 494.5 1757.9 492.2 1758.1 491C1758.4 489.7 1758.9 487.6 1759.7 487.4Z"/><path d="M1780.6 496.3C1779.1 496.9 1775.1 496.9 1774.6 495.9C1774.1 494.8 1775.9 490.4 1777.4 489.7C1778.9 489.1 1783 490.9 1783.6 492C1784.1 493 1782.1 495.6 1780.6 496.3Z"/><path d="M1762.7 492.7C1763.2 492 1765.6 491.6 1766.2 492C1766.7 492.4 1766.4 494.4 1765.8 495.1C1765.2 495.8 1763.2 496.5 1762.7 496.1C1762.1 495.7 1762.1 493.4 1762.7 492.7Z"/><path d="M1756.8 492.9C1757.6 492.2 1759 490.8 1759.9 491C1760.7 491.3 1761.7 493.1 1761.9 494.2C1762.1 495.3 1761.7 497.1 1761 497.6C1760.2 498.1 1758.5 497.6 1757.5 497.2C1756.6 496.8 1755.5 496 1755.3 495.3C1755.2 494.6 1756.1 493.6 1756.8 492.9Z"/><path d="M1773.5 494.7C1774 495.9 1774.7 498 1773.9 498.7C1773.2 499.4 1770.3 499.6 1769.1 498.9C1767.9 498.3 1766.3 496 1766.6 494.7C1766.9 493.4 1769.6 491.3 1770.7 491.3C1771.8 491.3 1772.9 493.5 1773.5 494.7Z"/><path d="M1767.4 496.6C1767 497.4 1766.3 497.7 1765.3 498C1764.4 498.4 1762.3 499 1761.8 498.5C1761.2 498 1761.9 496.2 1762.2 495.1C1762.6 493.9 1762.9 492 1763.8 491.7C1764.7 491.4 1767.1 492.4 1767.7 493.2C1768.3 494 1767.8 495.8 1767.4 496.6Z"/><path d="M1773.6 493.4C1774.5 493.4 1775.7 494.5 1776 495.2C1776.3 495.9 1775.8 496.8 1775.5 497.4C1775.1 498 1774.4 498.9 1773.9 498.9C1773.3 498.9 1772.4 498.3 1771.9 497.6C1771.4 497 1770.6 495.8 1770.9 495.1C1771.2 494.4 1772.8 493.3 1773.6 493.4Z"/><path d="M1774.6 493.8C1775.4 493.4 1778.2 493.9 1778.9 494.7C1779.6 495.6 1779.4 498 1778.8 498.8C1778.2 499.7 1776 500.1 1775.1 499.8C1774.3 499.6 1773.9 498.2 1773.8 497.2C1773.7 496.2 1773.7 494.2 1774.6 493.8Z"/><path d="M1742.3 493.6C1743.6 493 1746.6 493.6 1747.5 494.5C1748.4 495.4 1748.2 498 1747.7 499C1747.1 499.9 1745.4 500.2 1744.1 500.1C1742.7 499.9 1740 499.3 1739.7 498.2C1739.4 497.2 1741.1 494.3 1742.3 493.6Z"/><path d="M1744.8 501.9C1743.7 502 1741 501.3 1740.4 500.3C1739.9 499.3 1740.7 496.8 1741.6 495.9C1742.4 494.9 1744.3 494.2 1745.4 494.3C1746.4 494.5 1747.6 495.9 1747.9 496.8C1748.2 497.7 1747.7 498.6 1747.2 499.5C1746.7 500.3 1745.9 501.7 1744.8 501.9Z"/><path d="M1771.6 501.8C1771.1 502.4 1769.3 502.3 1768.3 502.1C1767.3 501.8 1765.6 501 1765.5 500.2C1765.4 499.5 1766.9 497.8 1767.8 497.5C1768.8 497.1 1770.5 497.6 1771.1 498.3C1771.8 499 1772.1 501.1 1771.6 501.8Z"/><path d="M1742.5 500.2C1742.6 498.9 1745.3 495.8 1746.4 495.9C1747.5 496 1749.3 499.5 1749.2 500.8C1749.1 502 1746.8 503.5 1745.7 503.4C1744.6 503.3 1742.4 501.4 1742.5 500.2Z"/><path d="M1739 499.2C1739.7 498.1 1743.2 496.8 1744 497.3C1744.9 497.8 1744.9 501.1 1744.2 502.2C1743.5 503.3 1740.7 504.3 1739.8 503.8C1739 503.3 1738.3 500.3 1739 499.2Z"/><path d="M1740.6 497.6C1741.5 497.1 1743.6 497.3 1744.8 497.9C1745.9 498.5 1747.6 499.9 1747.7 501.2C1747.8 502.4 1746.4 504.9 1745.3 505.3C1744.3 505.7 1742.3 504.3 1741.3 503.6C1740.3 502.9 1739.5 502.2 1739.4 501.2C1739.2 500.2 1739.7 498.1 1740.6 497.6Z"/><path d="M1776.9 503.6C1776.7 504.3 1773.5 505.2 1772.5 504.9C1771.6 504.7 1771 502.8 1771.2 502C1771.4 501.3 1773 500 1773.9 500.3C1774.9 500.5 1777.1 502.8 1776.9 503.6Z"/><path d="M1747.1 507.7C1746.1 507.3 1745.1 503.8 1745.6 502.8C1746.1 501.8 1749.3 501.2 1750.3 501.7C1751.3 502.2 1751.9 504.5 1751.4 505.5C1750.9 506.5 1748.1 508.2 1747.1 507.7Z"/><path d="M1769.7 505.7C1769.3 506.4 1767.5 507.5 1766.7 507.3C1765.9 507.1 1765 505.3 1765 504.6C1765 503.9 1766 503.2 1766.7 503C1767.4 502.7 1768.6 502.5 1769.1 502.9C1769.6 503.4 1770.1 504.9 1769.7 505.7Z"/><path d="M1740.5 502.7C1741.4 502.9 1742.9 505 1742.7 505.8C1742.5 506.5 1740.4 507.4 1739.5 507.2C1738.6 507.1 1737.2 505.5 1737.4 504.7C1737.6 503.9 1739.6 502.5 1740.5 502.7Z"/></g>
<path d="M1816.7 499.3 A26.9 4.3 0 0 1 1870.6 499.3 L1869.5 547.8 A25.9 5.4 0 0 1 1817.8 547.8 Z" fill="#d4d4d4" stroke="#231f20" stroke-width="1.1"/>
<path d="M1816.7 499.3 A26.9 4.3 0 0 0 1870.6 499.3M1817 500.9 A26.6 4.3 0 0 0 1870.3 500.9M1817.1 516.3 A26.6 3.4 0 0 0 1870.2 516.3M1817.1 518.4 A26.5 3.6 0 0 0 1870.2 518.4M1817.2 520.6 A26.5 3.7 0 0 0 1870.1 520.6M1817.2 522.8 A26.4 3.9 0 0 0 1870.1 522.8M1817.3 525 A26.4 4 0 0 0 1870 525M1817.3 527.2 A26.3 4.1 0 0 0 1870 527.2M1817.4 529.4 A26.3 4.3 0 0 0 1869.9 529.4M1817.4 531.6 A26.2 4.4 0 0 0 1869.9 531.6M1817.5 533.7 A26.2 4.6 0 0 0 1869.8 533.7M1817.5 535.9 A26.1 4.7 0 0 0 1869.8 535.9M1817.6 538.1 A26.1 4.8 0 0 0 1869.7 538.1M1817.6 540.3 A26 5 0 0 0 1869.7 540.3M1817.7 542.5 A26 5.1 0 0 0 1869.7 542.5M1817.7 544.7 A25.9 5.3 0 0 0 1869.6 544.7M1817.8 546.8 A25.9 5.4 0 0 0 1869.6 546.8" fill="none" stroke="#231f20" stroke-width="0.8"/>
<path d="M1842.1 499.7 Q1830.8 484.5 1815.6 463.7 Q1829.4 485.5 1840.5 500.8" fill="#d4d4d4" stroke="#231f20" stroke-width="0.9" stroke-linejoin="miter" stroke-miterlimit="10"/>
<path d="M1841.1 499.6 Q1827.3 484.8 1815.4 462 Q1826 486 1839.6 500.9" fill="#d4d4d4" stroke="#231f20" stroke-width="0.9" stroke-linejoin="miter" stroke-miterlimit="10"/>
<path d="M1843.5 499.7 Q1834 485.4 1823.4 465.2 Q1832.6 486.3 1841.8 500.8" fill="#d4d4d4" stroke="#231f20" stroke-width="0.9" stroke-linejoin="miter" stroke-miterlimit="10"/>
<path d="M1842.4 500.1 Q1839.2 480.4 1829.4 454 Q1837.6 480.6 1840.4 500.4" fill="#d4d4d4" stroke="#231f20" stroke-width="0.9" stroke-linejoin="miter" stroke-miterlimit="10"/>
<path d="M1843.3 500 Q1839 480.6 1830 454.2 Q1837.4 480.9 1841.4 500.5" fill="#d4d4d4" stroke="#231f20" stroke-width="0.9" stroke-linejoin="miter" stroke-miterlimit="10"/>
<path d="M1843.3 500.4 Q1845.2 483.4 1836.5 460.7 Q1843.6 483.1 1841.3 500.1" fill="#d4d4d4" stroke="#231f20" stroke-width="0.9" stroke-linejoin="miter" stroke-miterlimit="10"/>
<path d="M1843.5 500 Q1839.1 482.6 1843.8 458.6 Q1837.4 483 1841.6 500.5" fill="#d4d4d4" stroke="#231f20" stroke-width="0.9" stroke-linejoin="miter" stroke-miterlimit="10"/>
<path d="M1845.9 500.3 Q1846.3 476.2 1849.4 443.1 Q1844.6 476.2 1843.9 500.2" fill="#d4d4d4" stroke="#231f20" stroke-width="0.9" stroke-linejoin="miter" stroke-miterlimit="10"/>
<path d="M1845.1 500.5 Q1849.1 483.9 1847 460.5 Q1847.5 483.5 1843.2 500" fill="#d4d4d4" stroke="#231f20" stroke-width="0.9" stroke-linejoin="miter" stroke-miterlimit="10"/>
<path d="M1846 500.4 Q1848.2 480.8 1859.5 455.2 Q1846.6 480.6 1844 500.1" fill="#d4d4d4" stroke="#231f20" stroke-width="0.9" stroke-linejoin="miter" stroke-miterlimit="10"/>
<path d="M1846.4 500.5 Q1850 485.9 1855.1 465.7 Q1848.4 485.5 1844.5 500" fill="#d4d4d4" stroke="#231f20" stroke-width="0.9" stroke-linejoin="miter" stroke-miterlimit="10"/>
<path d="M1846.5 500.7 Q1854.8 481.7 1870 456.6 Q1853.3 481.1 1844.6 499.8" fill="#d4d4d4" stroke="#231f20" stroke-width="0.9" stroke-linejoin="miter" stroke-miterlimit="10"/>
<path d="M1847 500.9 Q1856.8 490.4 1860.6 472.6 Q1855.6 489.3 1845.5 499.6" fill="#d4d4d4" stroke="#231f20" stroke-width="0.9" stroke-linejoin="miter" stroke-miterlimit="10"/>
<path d="M1846.5 500.7 Q1852.4 488.7 1864.9 473.8 Q1851 487.9 1844.7 499.8" fill="#d4d4d4" stroke="#231f20" stroke-width="0.9" stroke-linejoin="miter" stroke-miterlimit="10"/>
<path d="M1567.1 534 A162.8 20 0 0 0 1892.7 534 L1887.5 623.6 L1875.7 801.9 L1875.7 899 L1875.7 901.5 A143.2 64.8 0 0 1 1589.3 901.5 L1587.2 801.9 L1574.6 623.6 L1567.1 534Z" fill="#d4d4d4" stroke="#231f20" stroke-width="1.4" stroke-linejoin="round"/>
<path d="M1567.1 534 A162.8 29.3 0 0 0 1892.7 534M1589.3 899 A143.2 58.2 0 0 0 1875.7 899M1574.6 623.6 A156.5 21 0 0 0 1887.5 623.6M1575.4 635.5 A155.6 22.9 0 0 0 1886.7 635.5M1576.3 647.4 A154.8 24.9 0 0 0 1885.9 647.4M1577.1 659.3 A154 26.8 0 0 0 1885.1 659.3M1578 671.1 A153.2 28.7 0 0 0 1884.4 671.1M1578.8 683 A152.4 30.6 0 0 0 1883.6 683M1579.6 694.9 A151.6 32.6 0 0 0 1882.8 694.9M1580.5 706.8 A150.8 34.5 0 0 0 1882 706.8M1581.3 718.7 A149.9 36.4 0 0 0 1881.2 718.7M1582.2 730.6 A149.1 38.3 0 0 0 1880.4 730.6M1583 742.5 A148.3 40.3 0 0 0 1879.6 742.5M1583.8 754.4 A147.5 42.2 0 0 0 1878.8 754.4M1584.7 766.2 A146.7 44.1 0 0 0 1878.1 766.2M1585.5 778.1 A145.9 46 0 0 0 1877.3 778.1M1586.4 790 A145.1 48 0 0 0 1876.5 790M1587.2 801.9 A144.2 49.9 0 0 0 1875.7 801.9" fill="none" stroke="#231f20" stroke-width="1.4"/>
<path d="M1971.6 853.5C1968.6 853.8 1958.7 854.8 1954 855.8C1949.3 856.8 1945.9 858 1943.4 859.3C1940.9 860.7 1938.9 862.3 1938.7 864C1938.5 865.8 1939.7 868 1942.2 869.9C1944.8 871.8 1949.5 873.8 1954 875.3C1958.4 876.8 1966.3 878.2 1968.7 878.8" fill="#d4d4d4" stroke="#231f20" stroke-width="1.4"/>
<path d="M1965.2 905.1C1963.7 906.8 1960.1 912.3 1956.3 915.6C1952.5 919 1946.3 922.5 1942.2 925C1938.1 927.6 1933.8 929.3 1931.7 930.9C1929.5 932.5 1928.7 933 1929.3 934.4C1929.9 935.8 1931.5 938 1935.2 939.1C1938.9 940.2 1946.9 941.1 1951.6 941C1956.3 940.9 1961.4 939 1963.4 938.6 L2016.1 926.2 L2016.1 913.3 Z" fill="#d4d4d4" stroke="#231f20" stroke-width="1.4" stroke-linejoin="round"/>
<path d="M1961 605.9C1959.2 609.8 1952.1 621.2 1950.4 629.4C1948.8 637.6 1950.4 646.6 1951.1 655.2C1951.9 663.8 1952.7 670.4 1955.1 681C1957.6 691.6 1962.2 706.4 1965.7 718.5C1969.2 730.7 1974.2 745.1 1976.3 753.7C1978.3 762.3 1977.9 762 1978.1 770.2C1978.3 778.4 1978 792.8 1977.4 803C1976.8 813.2 1975.8 820.6 1974.6 831.2C1973.4 841.7 1972 854 1970.4 866.4C1968.8 878.7 1966.1 898.6 1965.2 905.1L1965.2 905.1C1968 906.1 1976.6 909.3 1982.1 910.9C1987.7 912.6 1993.9 914.5 1998.5 915.2C2003.2 915.9 2006.4 915.6 2010.3 915.2C2014.1 914.8 2019.7 913.2 2021.5 912.8L2021.5 912.8C2022.6 908.2 2025.8 894.8 2027.9 885.1C2029.9 875.4 2032.3 864.4 2033.7 854.6C2035.2 844.9 2036.4 835.9 2036.8 826.5C2037.2 817.1 2036.4 806.9 2036.1 798.3C2035.8 789.7 2034.9 781.9 2034.9 774.9C2034.9 767.8 2035.1 762.3 2036.1 756.1C2037.1 749.8 2038.4 744.4 2040.8 737.3C2043.1 730.3 2047 721.3 2050.2 713.9C2053.3 706.4 2056.6 699.8 2059.5 692.7C2062.5 685.7 2065.2 679.8 2067.8 671.6C2070.3 663.4 2074 650.9 2074.8 643.5C2075.6 636 2074.2 633.3 2072.5 627C2070.7 620.8 2065.6 609.4 2064.2 605.9Z" fill="#d4d4d4" stroke="#231f20" stroke-width="1.4" stroke-linejoin="round"/>
<path d="M1971 391.1C1969.1 388.7 1962.3 381.3 1959.1 376.9C1956 372.5 1953.4 370.7 1952.2 364.5C1950.9 358.3 1951.6 346.7 1951.7 339.7C1951.8 332.6 1951.3 327.2 1952.9 322.3C1954.6 317.3 1957.3 313.1 1961.6 309.9C1966 306.6 1972.8 303.5 1979 302.9C1985.2 302.3 1993.5 303.9 1998.9 306.1C2004.2 308.3 2008.5 311.3 2011.3 316.1C2014.1 320.8 2015.1 328.7 2015.7 334.7C2016.4 340.7 2015.4 347.6 2015 352.1C2014.6 356.6 2013.6 359.9 2013.3 361.5L2013.3 361.5C2015.8 363.7 2023.2 369.8 2028.7 374.4C2034.1 379.1 2040.7 383.5 2046 389.3C2051.4 395.1 2056.4 402.2 2060.9 409.2C2065.5 416.2 2070.5 424.5 2073.4 431.5C2076.3 438.6 2077.3 441.9 2078.3 451.4C2079.4 460.9 2079.4 474.2 2079.6 488.7C2079.7 503.1 2079.3 522.6 2079.1 538.3C2078.9 554.1 2079.1 573.3 2078.3 583C2077.6 592.7 2075.2 594.4 2074.6 596.7L2074.6 596.7C2071.1 598.5 2062.8 603.5 2053.5 607.9C2044.2 612.2 2030.3 618.8 2018.7 622.8C2007.1 626.7 1994.7 629.6 1984 631.4C1973.2 633.3 1960.4 634.1 1954.2 633.9C1948 633.7 1948 630.8 1946.7 630.2L1946.7 630.2C1946.1 623.2 1944.4 603.7 1943 588C1941.6 572.3 1939.1 549.2 1938.5 535.8C1938 522.5 1939.6 512.7 1939.8 508L1911.9 506C1909.9 505.2 1904.9 504 1899.5 501.1C1894.2 498.2 1886.3 491.6 1879.7 488.7C1873 485.7 1865.2 483.8 1859.8 483.2C1854.4 482.6 1850.7 485.1 1847.4 484.9C1844.1 484.8 1841.4 483.9 1839.9 482.5C1838.5 481 1837.9 478.1 1838.7 476.2C1839.5 474.4 1841.4 472.5 1844.9 471.3C1848.4 470 1855.2 468.8 1859.8 468.8C1864.4 468.8 1870.1 470.9 1872.2 471.3L1872.2 471.3C1877.6 471.4 1895 472.1 1904.5 471.8C1914 471.4 1923.7 470.4 1929.3 469.3C1934.9 468.2 1935.1 468.5 1938 465.1C1940.9 461.7 1944 454.9 1946.7 448.9C1949.4 442.9 1952.1 435.3 1954.2 429.1C1956.2 422.9 1957.3 416.6 1959.1 411.7C1961 406.7 1963.3 402.7 1965.3 399.3C1967.3 395.8 1970.1 392.4 1971 391.1Z" fill="#d4d4d4" stroke="#231f20" stroke-width="1.4" stroke-linejoin="round"/>
<path d="M1971 391.1L2013.3 361.5" stroke="#231f20" stroke-width="1.4"/>
<path d="M1873.5 471.3L1879.7 467.6" stroke="#231f20" stroke-width="1"/>
<path d="M1842.3 500.1 Q1838.5 480.1 1834.1 461.3 Q1836.8 480.4 1840.3 500.4" fill="#d4d4d4" stroke="#231f20" stroke-width="0.8" stroke-linejoin="miter" stroke-miterlimit="10"/>
<path d="M1844.7 500.3 Q1844.5 473.3 1843.7 447.3 Q1842.8 473.3 1842.7 500.3" fill="#d4d4d4" stroke="#231f20" stroke-width="0.8" stroke-linejoin="miter" stroke-miterlimit="10"/>
<path d="M1847.1 500.4 Q1850.5 479.4 1853.3 459.3 Q1848.8 479.1 1845.1 500.1" fill="#d4d4d4" stroke="#231f20" stroke-width="0.8" stroke-linejoin="miter" stroke-miterlimit="10"/>
<path d="M1849 500.6 Q1855.4 484.6 1861.3 469.3 Q1853.9 483.9 1847.1 499.9" fill="#d4d4d4" stroke="#231f20" stroke-width="0.8" stroke-linejoin="miter" stroke-miterlimit="10"/>
</g>
<g id="site">
<path d="M2966.2 244.9 L2768.5 319.1 C2747.8 327 2731.2 338.1 2725.3 362.2 L2564.9 995.1C2563.6 1000.9 2559 1019.3 2557.3 1029.6C2555.5 1040 2554.4 1048 2554.5 1057.2C2554.6 1066.5 2555.7 1076.2 2558 1084.9C2560.3 1093.5 2563.1 1100.7 2568.3 1109C2573.5 1117.4 2585.6 1130.6 2589 1134.9L2694.6 1258.7 C2711.3 1276.2 2740.1 1283.8 2774.3 1262.5 L3940.3 515.8" fill="none" stroke="#231f20" stroke-width="1.9" stroke-linejoin="round"/>
<path d="M3836.8 517.5 L3385 338 M3190 346.8 L2968.7 258.7 L2766.8 333.9 L2761.6 372.6 L2635.6 960.6 C2627 1005.5 2633.9 1040 2654.6 1069.3 L2740.1 1169.9 L2747.7 1179.1 L3833.3 522.7 L3833.3 522.7" fill="none" stroke="#231f20" stroke-width="1.9" stroke-dasharray="16.5 8.5"/>
<path d="M2802.3 347.7 L2751.9 603.8 L2753.6 618.6M2801.4 352.2l-1.4 -6.8M2798.5 367.3l-1.4 -6.8M2795.5 382.4l-1.4 -6.8M2792.5 397.4l-1.4 -6.8M2789.6 412.5l-1.4 -6.8M2786.6 427.6l-1.4 -6.8M2783.6 442.6l-1.4 -6.8M2780.7 457.7l-1.4 -6.8M2777.7 472.7l-1.4 -6.8M2774.7 487.8l-1.4 -6.8M2771.8 502.9l-1.4 -6.8M2768.8 517.9l-1.4 -6.8M2765.9 533l-1.4 -6.8M2762.9 548.1l-1.4 -6.8M2759.9 563.1l-1.4 -6.8M2757 578.2l-1.4 -6.8M2754 593.3l-1.4 -6.8" fill="none" stroke="#231f20" stroke-width="1.2"/>
<path d="M2739.8 647.6 L2689.1 903.7 L2690.8 919.2M2738.9 652.1l-1.4 -6.8M2736 667.2l-1.4 -6.8M2733 682.3l-1.4 -6.8M2730 697.3l-1.4 -6.8M2727 712.4l-1.4 -6.8M2724 727.5l-1.4 -6.8M2721 742.5l-1.4 -6.8M2718.1 757.6l-1.4 -6.8M2715.1 772.6l-1.4 -6.8M2712.1 787.7l-1.4 -6.8M2709.1 802.8l-1.4 -6.8M2706.1 817.8l-1.4 -6.8M2703.1 832.9l-1.4 -6.8M2700.2 847.9l-1.4 -6.8M2697.2 863l-1.4 -6.8M2694.2 878.1l-1.4 -6.8M2691.2 893.1l-1.4 -6.8" fill="none" stroke="#231f20" stroke-width="1.2"/>
<path d="M3351.9 427.8 L3408.8 412.3 L3464 409.5 L3493.4 414 M3574.5 433 L3643.5 465.1" fill="none" stroke="#231f20" stroke-width="1.3"/>
<g fill="#d4d4d4" stroke="#231f20" stroke-width="1.7" stroke-linejoin="round">
<path d="M3225.5 289.8L3231.1 285.3L3226.4 280L3231.2 276.1L3229.1 270.3L3234.9 266.5L3234.7 262.1L3241 259L3237.2 253.3L3246.2 251.7L3246.5 245.3L3250.9 246L3250.3 241.5L3254.5 241L3256.3 235.8L3263.7 236.3L3266.3 229.9L3272.9 231.8L3274.4 225.1L3282.8 229.6L3286.9 223.5L3291 226.2L3293 221.2L3297.9 226.8L3301.7 219.9L3307.8 224.4L3311.5 220.4L3315.1 227.8L3319.9 223.9L3324.1 229L3328.6 225.9L3330.7 231.5L3337.8 229.5L3339.5 233.4L3344.4 232.2L3342.4 238.2L3347.8 239.8L3348 246.1L3352.7 249.5L3352.9 254.5L3359 254.1L3359.1 261.9L3365.7 264.2L3365.4 270.5L3372.2 271L3375.2 277.6L3380.8 276.8L3380.5 282.9L3384.4 282.7L3386.6 287.9L3392.7 288.1L3393.2 295L3400.4 293L3402 300.1L3407.7 300.5L3405.3 308L3410.2 310.5L3406.1 317.2L3409.5 324.8L3402.6 327.6L3404 331.5L3398.5 335.9L3398.2 342.2L3391.5 344.6L3391.6 349.9L3385.6 351.1L3384.4 355.9L3376.7 354.5L3376.2 361.5L3371.2 359.1L3369.3 363.5L3365.3 361.4L3363.1 366.6L3358.7 363.7L3354.6 370.9L3347.6 366.6L3343.9 371.8L3340.9 370.2L3335.1 375L3328.2 371.8L3323.1 375.2L3317.5 371.2L3310.6 373.9L3306.1 369.6L3299.3 374.7L3294.8 368L3287.5 371.3L3284 364.7L3276.3 367.4L3273.1 360.2L3266.2 363.4L3264.5 357.1L3258.5 358.5L3255 352.5L3246.1 354.2L3251.8 351.2L3252.4 344.4L3258.8 342.4L3257.3 336.7L3257.5 330.7L3251.4 330.9L3252.7 324L3245.4 321.7L3246.3 317.7L3240.6 315.2L3242.7 309.8L3235.1 308.8L3234.5 301.5L3228.9 298.7L3231.4 293.2Z"/>
<path d="M3110 307.8L3116.4 310.9L3118.9 306.3L3124.4 309.5L3129.1 302.4L3136.4 305.2L3138.3 300.7L3143.1 302.6L3145.1 297.1L3151.2 298.8L3153.7 291.2L3159.9 292.9L3159.9 287.8L3165.3 291.6L3167.2 285.2L3173.6 284.5L3174.5 280.3L3179.5 283.2L3180 277.6L3184.4 279.4L3185.3 272.7L3192.6 275.2L3197.5 267.9L3200.4 273L3204.4 271.1L3206 276.7L3211.2 275.3L3211.5 281.2L3218.6 280.1L3219.6 287.3L3227.5 287.9L3224.5 294.6L3231.6 295.5L3231.8 301.4L3239.4 303.1L3238.6 310.2L3247.6 310.6L3245.3 317.8L3251.7 317.5L3250.3 325.5L3256.6 328.2L3254.4 335.8L3260.8 341.5L3254.8 345.6L3254.4 353.7L3248.6 353.7L3248.7 359.3L3241.5 360.3L3242.2 366.2L3237.2 361.8L3235.4 367.2L3229.4 364.3L3225.8 367.3L3221.7 360.7L3214.6 365.5L3212.5 357.4L3208.1 361.2L3204.8 356.6L3198 358.7L3195.6 351.6L3189.4 354.6L3187.1 348.6L3179.7 351L3175 344.6L3169.1 349.4L3166.7 344L3161.3 347.9L3159.8 341.5L3154.3 346.2L3149.1 340.9L3143.8 345.3L3141.9 339.8L3136.7 344.8L3131.4 338.5L3126.3 340.2L3124 334.7L3115.8 335.5L3116.8 330.3L3110.9 326.8L3115.7 321.7L3110.6 321.4L3113.1 316.7Z"/>
<path d="M2857.6 318L2863.7 317.6L2866.9 313.2L2871.4 315.8L2874.3 310.5L2879.4 313.7L2881.8 309.4L2887.3 312.9L2892.5 307.5L2894.3 315.4L2901 313.2L2900.3 321.9L2906.7 321.2L2910.5 327.3L2915.8 321.7L2920.8 324.3L2923.3 318.4L2928.6 320.1L2927.6 312.6L2933.3 314.3L2935.3 308.5L2940.2 309.2L2942.6 300.5L2947.3 305.1L2952.5 299.9L2957.1 304.6L2960.7 303.5L2960.8 307.9L2967.5 307.5L2966.7 312.5L2972.4 312.3L2970.7 321.5L2976 321.7L2976.3 328.9L2982.3 332.4L2980.2 338.1L2986.1 340.7L2981.6 344.5L2986.9 349.6L2983.2 354.5L2987.8 358.3L2984.2 361.5L2989.7 364.3L2982.9 369.4L2986.5 376.8L2980.1 378.5L2982.9 385.7L2975.2 387.5L2974.3 395.3L2966 394.8L2966.7 402.4L2958.1 400.8L2955.6 408.6L2949.5 404.7L2948.3 409.9L2943.3 408.1L2939.7 412.2L2934.2 408.4L2927.9 412.9L2923.9 407.5L2919 412.5L2914.9 406.5L2909.6 412.9L2903.7 406.7L2901.5 412.9L2895.4 409.7L2892.2 413.5L2887.9 412.6L2886.7 416.9L2880.4 413.1L2874.6 417.8L2871.8 409.6L2864.8 414.3L2864.1 408.1L2857.5 409.3L2852.5 404.6L2847.2 405.1L2845.2 399.5L2839.6 402.9L2839.8 395.7L2833.3 395.3L2834.1 389.5L2827.7 388.5L2827.9 382.1L2824.1 380.6L2826.6 377.6L2823.5 371.7L2829.5 366.5L2824 362.1L2830.8 357.5L2831.3 350.4L2838.4 350.8L2836.9 344.1L2845.2 343.4L2843.3 336L2851.4 333.9L2847.8 329.1L2853.3 326.7L2851.5 322.4L2856.8 322.9Z"/>
<path d="M2976.9 358.6L2981.8 355.5L2977.1 350.4L2984.7 347.5L2981.6 338.9L2987 338.7L2990.6 331.9L2997.1 334.9L2999.3 329.4L3005.5 332.9L3007.7 325.8L3012.9 326.8L3010.3 319.1L3015.9 313.9L3015 310.1L3021 310.6L3021 304.9L3025.1 306.8L3029.1 301.7L3034.9 305.3L3039.6 302.5L3041.7 308L3048.7 307.6L3048.6 312.7L3056.4 311.3L3055.5 317.4L3061.8 316.5L3059.3 323.1L3066.1 327.2L3064.1 333.7L3071.9 335.4L3074 340L3080.5 338.7L3083.3 342.3L3087.8 337L3091.6 342.7L3094.4 338.2L3099.4 341.2L3104.7 339L3104.5 346.3L3108.4 348.8L3104.5 354.3L3108.7 358L3101.7 361.5L3105.1 370.1L3097.3 369.7L3098.8 375.6L3092.1 376.6L3093.5 384.6L3088.2 384.9L3086.6 390.2L3081.5 388.6L3078.3 394.4L3071.7 390.1L3069 396.2L3061.8 394.7L3060.3 400.1L3055 398.2L3048.7 402.6L3050.2 394.2L3044.1 394.2L3045 387.4L3040.2 386.6L3039.7 379.4L3034 379.7L3028.3 375.9L3025.3 380.5L3019.1 377.5L3013.6 382L3010.7 376L3003.8 379.6L3001.7 373L2993.9 375.8L2993.6 368.1L2985.7 370.5L2984.2 361.9Z"/>
<path d="M3100.9 345.8L3108.6 347.4L3111.3 340.1L3117.1 343.4L3118.5 337.7L3126.3 340.4L3128.4 336.2L3133.4 338.1L3139.2 333.8L3143.3 335.2L3148 330.3L3151.6 334L3156 330.4L3162.2 334.2L3165.4 332.1L3168.4 335.5L3174.6 332.4L3177.1 337L3181.3 335.2L3185.9 339.8L3192.2 337.2L3194.2 343.4L3202.2 342.3L3202.4 349.2L3210.4 349.2L3211.3 353.9L3219 354.2L3218.9 361L3224.8 362.3L3221.1 369L3223.5 373.2L3219.1 376L3219.8 383.6L3213.4 384.8L3213.2 389.3L3207.3 387.6L3206.8 395L3198.8 394.6L3195.7 399.2L3189.5 399.2L3184.9 404.9L3178 402.2L3175.2 406.8L3171.5 402.3L3167.7 408.5L3162.3 402.1L3158.6 408.4L3154.8 401.7L3151.1 407.8L3148.7 401.9L3143.3 404.5L3138.2 400L3133.8 401.7L3131.2 397.4L3124.7 399.5L3120.7 394.7L3115.5 396.1L3112 388.5L3105.4 389.3L3104.7 383.9L3098.5 385L3098.6 379.4L3092.2 374.4L3097.2 370.2L3092.9 366.5L3097.3 362.4L3095.1 357.5L3100.6 354.3Z"/>
<path d="M2895.6 404.5L2903.2 407.2L2904.7 400.3L2908.9 403.6L2910.3 398.8L2916.9 400.7L2917.6 395L2922.8 392.8L2920.1 389.5L2922.8 386L2917.2 383.6L2923.6 381.2L2925.6 374.4L2932.7 377.9L2935.9 373.4L2939.1 376.8L2942.9 370.1L2950.7 373L2952.6 367L2957.4 366.6L2959.4 360.9L2964.7 361.2L2968.6 353.9L2972.3 359.9L2979.4 361.6L2978.6 368.6L2984.2 368.6L2987 375.5L2993.9 371.7L2997.9 378L3005.2 376.1L3007.7 380.3L3011.1 377L3017.2 380.2L3022 374.5L3027.3 375.6L3032.8 371.1L3037.2 375.1L3043.4 377.3L3038.5 381.9L3045.7 387.7L3042.2 393.3L3047 397.7L3048.3 404.6L3055.1 405.1L3053.1 411.2L3057.4 411.4L3054.8 416.1L3061.8 421.1L3056.1 424.4L3058.1 431.2L3051.3 430.5L3050.7 435.5L3045.8 433.8L3042.1 438L3038.5 433.6L3035.3 438.6L3031 433.9L3028.8 439.4L3025 433.6L3021.1 440.2L3015.5 437.2L3013.4 444.6L3005.9 443.8L3003.8 452L2995.9 452.2L2995.9 458.4L2988 458.8L2986.1 465L2979 462.7L2976.3 467.4L2970.5 461.2L2964.6 466.1L2961.9 460.1L2958.5 463.2L2954.8 458.9L2950.2 461.4L2945.2 457.4L2941.2 461L2937.6 457.1L2933.9 461.4L2929.5 453.5L2921.9 454.2L2920 447.5L2913.3 445.8L2912 438.7L2906.3 435.9L2906.5 429.2L2901.1 430.8L2901.3 425.8L2895.5 426.5L2897.5 418.7L2892.3 415.7L2895.9 412.9Z"/>
<path d="M3481.3 429.6L3486.8 425.9L3484.2 417.8L3489.3 417.1L3490.1 408.9L3496.8 411.9L3497 405.2L3502.6 408.1L3506.1 400.7L3512 401.1L3517 396.7L3520.7 399.8L3524 393.4L3528.6 400.9L3534.1 397.7L3535.9 405.7L3540.4 405L3540.2 410.8L3545.5 409.9L3545.7 415.3L3553.2 414.4L3555.6 421.5L3562.2 419.3L3563.5 425.3L3570.5 423.3L3573.4 428.4L3580.3 431.6L3578 437.8L3583.5 438L3582.6 443.3L3589 444.8L3589.8 450.3L3595.3 448.4L3597.2 453.8L3604.9 456.6L3600.4 461L3605.1 466.1L3600 471.8L3603.2 476.4L3596.9 479L3597.1 486.3L3590.5 484.1L3584.1 488.1L3582.3 480.5L3576.5 484.7L3576.4 478.3L3571.1 480.7L3567.9 473.6L3560.8 476.2L3557.1 472.2L3551.7 475L3549.4 470.1L3544.3 475.2L3537.4 473.8L3535.7 477.3L3530.3 476.6L3527.2 481.3L3522.2 477.1L3515.4 474.5L3517.5 467.5L3512 466.8L3511.9 462.3L3506.7 461.2L3507.7 454.9L3502.7 452.1L3501.6 445.7L3497.3 444.4L3496.7 437.1L3489.4 437.3L3487.4 432.6Z"/>
<path d="M3633.1 475.8L3639.1 473.8L3634.6 466.9L3641 465.6L3640.2 459.2L3645.6 458L3642.4 452.8L3647.8 451.7L3646.8 447.7L3654 444.8L3654.3 437.7L3659.6 437.9L3659 432.2L3666.5 431.1L3666.6 424.4L3673.4 425.8L3677.2 421.4L3679.1 426.3L3686.3 424.6L3687 432.9L3693.1 429.8L3699.5 432.1L3702 425.7L3706.8 424.8L3707.9 419.4L3712.2 418.7L3712.6 413.2L3719.5 413.2L3718.1 404.7L3724 406.3L3724.1 400.8L3729.1 404L3732.3 401.7L3732.9 406.5L3740.6 408.7L3738.6 414.3L3744.7 414.7L3740.6 421L3748.5 423.8L3744.7 428.1L3748.9 430.8L3748.6 437.7L3754.6 441.3L3752 445.6L3756.3 447.3L3754.7 451.8L3759.6 452L3758.1 457.7L3764.1 458L3760.7 463.8L3766.6 466.9L3764.8 471L3769.5 475.7L3764.6 480.3L3769.7 483.4L3766.8 487.6L3769.6 489.9L3767.9 496L3776.2 497.6L3773.9 504.5L3780.8 507.6L3776.8 512.8L3780 521L3773.2 521.2L3775.6 526.1L3770.7 527.8L3770.6 532.8L3765.1 534.5L3766.2 539.3L3760.7 540.6L3758.8 546.4L3754.5 545.3L3752.2 550L3746.2 548L3743.3 554.8L3739.5 550.9L3736.3 554.8L3731.8 553.5L3727.7 557.6L3722.9 553.7L3719.4 556.5L3715.7 552L3710.3 556.2L3705.7 552.1L3700.3 554.7L3695.5 548.3L3689 551.5L3686.1 543.6L3679.5 545.5L3677.4 540.3L3669.7 541.3L3670.2 533.5L3665.3 535.5L3663.8 530.2L3657.2 531.1L3658.8 525.4L3653.4 525.2L3654.4 520.2L3649.5 517.5L3651.6 512.5L3645.2 509.7L3647.5 503L3639.7 500L3642.9 494.2L3637.2 489.7L3640 483.2Z"/>
<path d="M3365.7 520.3L3371.8 515.5L3370 509.5L3375.5 506.3L3372.4 501.1L3378.4 498.5L3376.8 493.9L3381.9 492.7L3380.2 488.5L3383.5 487.1L3384 481.1L3389.9 479.6L3388.9 473.5L3396.3 471.5L3394.3 466.3L3400.9 466L3399.5 458.9L3406 460.3L3405.5 454.3L3413 453.9L3413.4 445.7L3420.1 446.2L3419.3 438.4L3426.5 437.1L3426.6 431.4L3431.9 431.9L3431.1 427.3L3439.9 427.9L3438.8 420.9L3445 423.7L3447.6 416.8L3454.5 421.5L3460.4 421.1L3461.7 424.8L3469 422.4L3469.5 428.5L3473.4 425.5L3476.5 430.9L3481.4 427.1L3485.9 433.3L3491.4 431L3492.8 439.2L3500.1 437.9L3497.6 444.9L3502.9 445.9L3499.5 450.4L3506 451.8L3503.2 455.9L3508 457L3504.3 461.5L3509.5 463.5L3508.3 469.1L3512.9 470.3L3512.6 475.5L3518.1 473.3L3520 477.6L3525.6 480.8L3519 483.6L3519.4 490.3L3513.6 490.1L3513 496.1L3506.5 497.7L3509 505.4L3502.7 511L3507.3 517.3L3503.4 520.5L3505.7 523.6L3502.9 526.7L3507.3 531.7L3506.6 536.9L3512.1 537.3L3508.8 542.7L3516.7 544.1L3515.5 551.3L3513.1 556.2L3508.4 548.6L3504.7 555.2L3500.2 549.2L3498.3 556L3494.1 551.3L3492.3 556.6L3486.8 553.7L3483.3 560.4L3476.9 559.6L3477.1 565.8L3471.3 565.4L3472.3 570.9L3465.6 570.4L3467.4 577.6L3462.3 577.3L3460.8 581.5L3456.3 578.7L3450.9 579.5L3449.6 573.8L3442.1 574.4L3436.9 569.7L3430.7 571.5L3424.8 567L3417.6 568.7L3415.1 563.3L3410.4 565.9L3408.3 558.9L3402.5 560.7L3402.3 554.4L3396 557.4L3395.9 550.7L3390.2 553L3388.3 544.6L3380.9 546L3379.4 540.2L3372.5 538.3L3373.8 531.5L3367.7 530.2L3371.3 526Z"/>
<path d="M3503.2 513.9L3508.2 511.7L3503.6 506.8L3510.2 502.9L3505.7 498.5L3513.1 494.8L3510.9 488.3L3519.2 486.9L3521.9 480.6L3529.4 479.7L3529.8 473.3L3537.3 477.3L3541.4 469.5L3546.5 475.8L3549.6 469.1L3554.4 474.7L3561.1 472.7L3563.8 479.3L3568.7 476L3572.4 480.6L3578.6 479L3580.5 485.2L3588.1 484.5L3589 492.5L3597.4 493L3596.1 498.7L3600.2 498.7L3600 504.4L3607.4 505.7L3607.1 510.2L3614.4 512.5L3613.8 519.9L3617.3 526.1L3612.5 531.1L3616.4 537.2L3611.5 540.9L3612.9 545.3L3607.3 543.6L3606.5 549.9L3599.9 549.3L3599.2 554.3L3593.4 552.8L3592.9 558.3L3585.9 556.1L3585.8 562.4L3577.6 560.3L3578 566.4L3573 568L3573 574.1L3566.3 576.5L3565.6 582.5L3558.2 581.3L3552.4 583.3L3550.3 577.9L3543.6 575.6L3543.1 568.1L3535.5 568.6L3537.7 561.4L3530.6 561.1L3531.2 556.2L3525.9 557.9L3521.2 552.3L3514.3 552.8L3515 547L3508.9 548.2L3511.2 542.2L3504.8 540.8L3508.6 533.4L3504.4 529.2L3506.3 522.8Z"/>
<path d="M3563.2 582.7L3569.8 580.2L3568.2 572.7L3573.4 569.8L3572.2 564.1L3578.4 564.2L3577.4 556.2L3587.1 557L3586 549.2L3593.8 550.6L3597 543.6L3602.4 543.9L3605.3 538.3L3612.7 538.5L3615.9 534.8L3620.4 538.5L3623.1 534.2L3628 538.6L3634.2 535.6L3638.7 541.5L3645.5 539.3L3649.1 542.8L3656.4 540.9L3660.5 547.5L3665.5 546.3L3668.1 551.6L3674.6 551.9L3677.2 556.8L3682.7 557.2L3683.3 561.7L3689.2 559.2L3689.4 565.3L3693.6 563.9L3695 569.6L3701.9 567.7L3700.4 574.6L3707 571.3L3707 578.6L3714.3 578.7L3713.4 586.8L3716.8 589L3711.1 593.5L3712.8 600.2L3708.5 603.3L3709.2 607.3L3701.9 609.9L3700.2 616.7L3695.4 617.2L3693 620.6L3686.1 619.1L3682.1 624L3675.4 618.4L3670.8 624.3L3664.2 620.6L3661 625.9L3656.8 621.7L3653.2 626.4L3648.6 622.9L3644.7 626.7L3638.5 625.3L3633.8 628.9L3629.8 624.9L3626.5 627.9L3623.6 623.1L3618.8 627.1L3615.8 621.9L3610.1 624.3L3610.3 617.8L3602.5 618.9L3599.6 613.3L3594.3 615.8L3591.5 609.9L3585.6 611.7L3582 606.2L3578.2 607L3578 601.1L3570.6 602.7L3571.7 596.3L3566.5 593.2L3568.9 586Z"/>
<path d="M3457.2 575.5L3464.4 573.1L3464.9 566.6L3470.6 564.5L3472.8 558.7L3480.9 559.5L3480.2 552.9L3487.9 555.8L3488.4 549.9L3494 554.1L3499.8 547L3502.7 553.3L3507.5 547.6L3510.8 553.2L3515.7 550.9L3518.2 555.8L3522.2 552.9L3526 558.9L3532.1 558L3532.7 562.1L3540.4 563.4L3541.9 570.8L3547.6 571.7L3548.2 578.7L3554.2 582.7L3550.9 586.4L3555.8 590.3L3549.1 595.1L3549.9 601.9L3543.6 604.1L3540.8 609.7L3535.1 610.1L3533.2 614.6L3527.8 613.4L3526.1 619.7L3519.4 617.5L3517.8 624.2L3512.3 619.2L3508.5 625.4L3505.7 620.4L3499.2 622.7L3497.1 618.1L3490.4 618.4L3487.2 612.3L3480.6 613.8L3478 605.4L3471.2 607.4L3471.8 601.2L3466.5 602.6L3464.7 596.2L3458.9 593.1L3460.9 587L3455 585.2L3461.2 579.2Z"/>
<path d="M3509.3 635.3L3513.5 631.4L3509.7 626.4L3515.5 624.3L3510.7 618L3518.8 614.2L3515.3 607.7L3522.7 605.8L3522.8 598.2L3528.5 598.3L3527.4 593.7L3532.8 594L3533.4 589.4L3538.8 589.1L3540.6 584.5L3546.1 588.2L3549.1 581.7L3554 588.5L3560.7 585.4L3561.3 592.6L3569.8 593.8L3568.3 599.1L3573.9 603.5L3573.1 610.2L3577.8 613.1L3574.2 619.9L3580.8 623.4L3577 627.7L3579.2 634.4L3574.1 639.8L3579.1 644.2L3572.7 645.1L3577 650.2L3569.2 650.3L3572.5 656L3567.9 655.6L3567 662.4L3558.8 659.7L3555.7 667L3551.8 663.2L3549.1 668.2L3545.4 663.4L3541.1 667.5L3538.6 661.4L3534.3 664.4L3532.7 657L3526.1 658.5L3525.1 653.7L3517.4 653.3L3519.3 644Z"/>
</g>
<path d="M3091.1 412.6 L3351.9 418.8 L3348.2 462 L3081.4 454.6 ZM3081.4 454.6 L3129.6 418.8 L3169.9 457.1M3169.9 457.1 L3217.8 420.8 L3259.4 459.6M3259.4 459.6 L3306.6 422.9 L3348.2 462M3091.1 412.6 L3129.6 418.8 L3178 415.5M3178 415.5 L3217.8 420.8 L3265 417.6M3265 417.6 L3306.6 422.9 L3351.9 418.8M3178 415.5 L3169.9 457.1 L3169.9 491.2 M3265 417.6 L3259.4 459.6 L3258.8 493.7 M3081.4 454.6 L3082.1 488.8 M3348.2 462 L3348 496.2" fill="none" stroke="#231f20" stroke-width="2.3" stroke-linejoin="round"/>
<path d="M3092 462.4 L3202.6 467.6 L3202.6 478.4 L3089.2 473.2 ZM3225.2 467.6 L3341 471.4 L3341.7 482.5 L3225.2 478.8 ZM3094.2 474.8 L3094.2 481.9M3127.7 476.3 L3127.7 482.9M3159 477.6 L3159 484.4M3196 478.8 L3196 485.4M3230.2 479.4 L3230.2 486.6M3266.8 481.3 L3266.8 487.5M3300.4 481.9 L3300.4 488.1M3336.8 483.2 L3336.8 489.4" fill="none" stroke="#231f20" stroke-width="1.6"/>
<rect x="3098.1" y="461.4" width="7" height="8" rx="1.5" fill="#d4d4d4" stroke="#231f20" stroke-width="0.8"/>
<rect x="3109.9" y="462" width="7" height="8" rx="1.5" fill="#d4d4d4" stroke="#231f20" stroke-width="0.8"/>
<rect x="3145.9" y="463.3" width="7" height="8" rx="1.5" fill="#d4d4d4" stroke="#231f20" stroke-width="0.8"/>
<rect x="3158.1" y="464.3" width="7" height="8" rx="1.5" fill="#d4d4d4" stroke="#231f20" stroke-width="0.8"/>
<rect x="3233.5" y="467" width="7" height="8" rx="1.5" fill="#d4d4d4" stroke="#231f20" stroke-width="0.8"/>
<rect x="3245.3" y="467.6" width="7" height="8" rx="1.5" fill="#d4d4d4" stroke="#231f20" stroke-width="0.8"/>
<rect x="3304" y="469" width="7" height="8" rx="1.5" fill="#d4d4d4" stroke="#231f20" stroke-width="0.8"/>
<rect x="3316.1" y="469.9" width="7" height="8" rx="1.5" fill="#d4d4d4" stroke="#231f20" stroke-width="0.8"/>
<path d="M3169.9 457.1 L3169.9 491.2 M3259.4 459.6 L3258.8 493.7" fill="none" stroke="#231f20" stroke-width="2"/>
<path d="M3084.7 575.2 L3105.8 566.6 L3152.4 600.1 L3131.3 608.7 Z" fill="#d4d4d4" stroke="#231f20" stroke-width="1.6"/>
<path d="M3109.2 591l1.2 -5.2M3125.6 590.4l1.5 -3.7M3139 602l0.6 -3.8M3145.4 599.2l0.6 -3.6M3132.9 591.1l1.1 -5M3136.8 595.4l0.6 -3.7M3144.8 600.4l1.4 -4.5M3108.8 584.1l0.6 -5.4M3117.9 592.2l1.1 -4.3M3119.8 584.9l0.8 -5.7M3097.2 579.1l0.9 -4.7M3116.5 580.2l0.8 -5.1M3115.1 590.2l0.9 -5.7M3101 581.6l0.9 -4.3M3130.4 591.4l1.4 -4.9M3122.3 599.2l0.8 -4M3138.4 603.7l1 -4.4M3147.6 600l1 -3.8M3136.3 594.3l0.9 -5.5M3107 581.9l1.2 -5.4M3132 597.9l0.6 -4.7M3097.3 574.9l1.5 -3.9M3129.7 601.8l1.6 -5.8M3134.5 602.4l0.7 -5.3M3113.3 574.6l0.7 -5.2M3135.6 591.9l1.5 -4.6M3099.5 576.7l0.9 -5.8M3096.8 581l0.9 -3.6M3101.1 579.1l0.7 -4.8M3122.3 589.5l1.4 -4.8M3108.5 571.1l0.8 -3.7M3126.4 597.3l1.5 -4.8M3104.8 584.9l1.2 -4.2M3144.7 600.3l1.1 -5M3123.4 583.9l0.8 -5.9M3106.6 569.1l1.4 -4.5M3095.5 580.5l0.8 -5.3M3092.2 574.7l0.8 -5.5M3125.2 592.5l1.1 -4M3101 585.2l0.6 -4.2M3115 582.6l1.1 -5.1M3108.9 584.5l1.5 -5M3118.8 589.6l1.1 -4.3M3114.5 576.1l1.5 -5.6M3110.9 574.1l1.1 -6M3100.2 578.9l1.3 -4.1" fill="none" stroke="#555" stroke-width="0.6"/>
<path d="M3056 587.2 L3077.1 578.6 L3123.7 612 L3102.6 620.7 Z" fill="#d4d4d4" stroke="#231f20" stroke-width="1.6"/>
<path d="M3076.4 588.2l1.5 -4.2M3090.6 608.6l0.9 -4.9M3108.3 612.9l1.1 -4.4M3080.5 603.3l0.9 -4.9M3090.7 597.4l0.7 -4.7M3095.7 604.2l1.6 -4.2M3070.6 587l1.4 -4.1M3109 606.5l0.9 -5.8M3086.7 597.3l1.2 -5.9M3088.9 599.1l0.9 -5.6M3083 594.6l0.8 -4M3109.3 606.6l1.6 -5.8M3106.3 607.6l1.3 -5.5M3081.3 587.1l1.4 -4.3M3103.5 614.8l0.6 -4.8M3099.7 610l1.2 -5.8M3104.2 600.9l0.7 -5.2M3103.7 617.8l1.5 -4.3M3092.6 608.1l1.4 -6M3075.7 586.9l1.3 -3.6M3108.4 605.3l1.4 -5.7M3110.6 613l1.2 -4.7M3081.3 595.9l0.6 -3.9M3083.5 588.8l1.3 -5.4M3094.2 598.6l0.9 -4.2M3090.5 606.6l1.3 -5.9M3105.4 614.3l1.5 -4.2M3103.5 599.9l1.6 -5.4M3077.1 593.9l1.1 -4.7M3097.1 614.5l1.1 -4.7M3083.4 589.9l0.8 -5M3077.5 596.1l0.7 -3.6M3088.4 601.6l1.5 -5.1M3084.2 597.3l0.8 -4.7M3081.8 584.2l1 -5.2M3097.1 599.4l1.2 -5.8M3086.4 588.7l1.1 -6M3076.8 589.6l1.4 -3.6M3085.6 603.9l0.9 -5.3M3086.1 592.2l1.4 -5.1M3091.8 596.7l1 -3.8M3109.3 614.1l1.5 -3.6M3071.8 595.6l1.3 -4.6M3079.7 600.1l1.2 -5.4M3094.6 605.1l1.3 -5M3090.7 609.7l0.7 -3.6" fill="none" stroke="#555" stroke-width="0.6"/>
<path d="M3027.4 599.1 L3048.4 590.5 L3095 624 L3073.9 632.6 Z" fill="#d4d4d4" stroke="#231f20" stroke-width="1.6"/>
<path d="M3039.5 596.6l0.7 -4.5M3043.3 599.4l1.6 -5.6M3064.8 614.4l0.9 -6M3045.6 608.3l0.8 -5.7M3057.4 608.7l1 -5.7M3069.4 622.6l1.3 -4.6M3055.9 610.6l1.1 -4.3M3059.6 607.8l0.9 -5.4M3059.2 611.1l1.5 -4.6M3076.3 625l1.6 -5.5M3066.8 617.7l1.3 -4.2M3085 624l1.3 -5.2M3066.7 616.9l0.8 -5.4M3082.9 626.4l0.9 -5.3M3048.5 612.6l1.4 -4.1M3051.1 601.9l1 -6M3073.6 626.9l0.7 -5M3081.9 619.7l1 -5M3076.6 618.2l1.3 -4.9M3065.6 619.9l1.2 -4.9M3054.3 596.4l1.4 -4.3M3085.1 624l0.9 -4.9M3061.5 611.2l0.8 -5.1M3075.6 613.7l0.9 -5.5M3044.2 601l1.2 -4.7M3083.2 626.8l1.2 -5.9M3069.8 620.8l0.7 -4.3M3073.1 616.1l1.4 -4.5M3050.8 608.8l1.1 -3.6M3065.7 617.5l0.7 -4.3M3087.1 622.4l0.8 -3.9M3035.9 601.4l1.4 -5.3M3056.3 613l1.3 -3.6M3082.8 620.5l0.8 -5.3M3057.7 604.9l1.5 -4M3052.5 605.9l1 -5.5M3067.3 614.5l1.6 -4.1M3061.3 617.4l0.8 -5.9M3055.6 610.9l1 -5.6M3076.6 614l0.8 -4.4M3052.6 601.1l1.5 -5.7M3050.2 609.4l0.8 -5.3M3061.4 621.2l0.7 -5.6M3065.6 613.9l0.7 -3.6M3079.7 627.9l1.2 -5.7M3035.6 602.4l0.6 -5.2" fill="none" stroke="#555" stroke-width="0.6"/>
<path d="M2998.7 611.1 L3019.7 602.5 L3066.3 635.9 L3045.3 644.6 Z" fill="#d4d4d4" stroke="#231f20" stroke-width="1.6"/>
<path d="M3016.5 618.8l1.3 -5.2M3027.8 623.8l0.9 -4.9M3023.7 620.2l0.8 -4.2M3006.9 610.1l0.9 -5M3011.2 613.1l1.4 -4.7M3024.5 617.5l1.5 -5.4M3041.7 627.6l1.3 -4.8M3026.1 620.7l1.1 -4.7M3034.5 624.3l1.4 -5.7M3006.4 610.6l0.9 -3.6M3043.2 625l0.9 -4M3054 631.3l1.3 -5.2M3035 620.2l1 -4.9M3061.1 636.1l1.5 -5.6M3013.5 618.8l1.6 -4.9M3024.4 617.4l1.5 -4.8M3023 606.4l1.6 -3.5M3021.1 622.7l1.2 -3.8M3052.9 636.9l1 -5.4M3037.8 625.4l0.8 -4.7M3047.5 626l0.8 -4.6M3026.1 618l1.2 -5.1M3011.3 618.4l1.3 -4M3036 635l0.9 -5.9M3016.1 610.5l1.2 -4.2M3048.1 628.2l1.4 -3.6M3036.9 636.4l0.7 -4M3009 616.5l1.1 -5.9M3018.6 617.3l1.4 -4M3040 626.1l1.5 -3.6M3028.5 619.3l1.4 -4.1M3022.7 612l1.1 -5.9M3018 618.5l1.5 -5.2M3010.7 616.9l0.8 -4.2M3047.7 627.2l1.6 -5.2M3029.7 618.9l1.3 -4.7M3024 626.6l1 -4.8M3003.4 612.1l1.6 -4.4M3013.9 613.7l1.2 -5.8M3026.6 625.9l1.1 -5.4M3022.3 614.8l0.8 -5.3M3040.6 638.2l0.6 -4M3047 634.6l1.2 -5.4M3047.1 628.5l0.7 -5.6M3011.2 615.6l0.6 -3.6M3034.3 616.9l0.7 -3.6" fill="none" stroke="#555" stroke-width="0.6"/>
<path d="M2970 623 L2991 614.4 L3037.6 647.9 L3016.6 656.5 Z" fill="#d4d4d4" stroke="#231f20" stroke-width="1.6"/>
<path d="M3014.7 636l1.5 -3.6M2987.3 631.7l0.8 -3.8M3004.4 642.2l0.8 -3.9M2999 631.3l0.7 -4.9M2999 631.9l1.1 -3.6M2992.5 624.9l0.9 -3.5M3014.8 635.3l1 -4.9M2995.8 620.5l1 -5.3M3010.5 642.9l1.5 -3.6M2990.7 630.6l1.4 -5.5M3026.1 647.3l0.8 -4.5M3022 641.1l0.7 -5.9M3024.3 645.2l1 -5M3029.7 644.5l1.2 -5.7M3027.9 642.3l1.3 -5.9M2993 635.1l1.2 -3.8M2989.8 619.6l1.2 -4.2M3005.2 640.2l0.8 -4.6M3031.7 648.1l0.9 -4.4M2993.8 624.2l1.4 -4M2997.8 630l0.6 -3.5M2987 633.8l0.9 -6M2987.3 620.7l1.3 -4.1M3013.2 642.6l1.5 -5.8M2994.3 630.3l1 -4.3M3006.7 632.5l1.3 -3.9M3029.5 648l0.8 -5M2977.2 623.4l1 -4M3011.2 636l1.3 -5.9M2978 626.2l0.6 -4.6M3017.9 638.8l1.1 -5.6M2984.5 624.3l1.2 -3.6M2978.2 622.7l0.8 -3.7M2988.1 623.5l1.2 -5.6M2984.3 624.7l1.3 -5.3M3013.3 634.2l1.2 -5.7M3027.9 649.1l0.9 -5.4M3004.9 633.5l0.6 -4.7M3003.9 640.5l1.1 -4.8M2979.5 627.2l1.2 -5.2M3025.7 640.9l0.9 -4.6M3017.2 645l1 -5.8M2999 632.4l1.1 -4.4M2993.2 617.4l1 -3.7M2991.8 623.1l0.7 -4.6M3017.2 643l1 -4.2" fill="none" stroke="#555" stroke-width="0.6"/>
<path d="M2941.3 635 L2962.3 626.4 L3008.9 659.8 L2987.9 668.5 Z" fill="#d4d4d4" stroke="#231f20" stroke-width="1.6"/>
<path d="M2989.7 660.6l0.8 -3.5M2981.5 643.9l0.7 -3.8M2993.3 652.3l0.7 -5.2M2967.4 647.9l1.2 -3.6M2976 638.9l0.7 -5.5M2947.6 635.8l1.3 -4.7M2995.3 653.5l0.8 -3.6M2975.7 645.7l0.9 -5.8M2976 654.1l0.7 -5.8M2988.6 647.7l0.9 -5.3M2995.5 653.6l0.6 -4.8M2970.5 651.6l1.6 -5.7M2972.7 651l0.9 -3.9M2991 653.7l0.9 -4.6M2988.7 653.1l1.1 -3.8M2953.1 640.1l1.4 -4.7M2971.9 642.1l1 -3.9M2988.5 647.1l0.7 -5.3M2981.9 650.2l1.4 -5M3002.7 659.3l1 -5.1M2968.9 645.6l1 -5.1M2965.9 643.9l1.4 -5.5M2993.4 656.9l1 -5.1M2962.4 643.5l0.7 -5.5M2974.3 638l1 -3.8M2974.5 654.5l1.5 -3.7M2981.9 657.4l0.8 -5.7M2971.2 647.7l0.8 -4.2M2964 641l1.3 -3.6M2990.9 655.9l0.9 -4M2949.6 637l1.4 -5M2964.1 649.6l1.2 -4.3M2963 648.5l1 -5.9M2991 661.8l1.5 -4.9M2981.7 659.9l0.7 -4.9M2949.8 637.6l1 -3.9M2987.6 646.1l1.5 -5.9M2986.3 650l1.1 -5.4M2963.3 635.4l1.1 -4.5M2984.7 654l1.3 -4.9M2994.7 655.5l0.7 -3.9M2951.8 640.2l1.6 -4.3M2972.5 646.8l1.2 -4.2M2972.9 640l1.4 -5.5M2968 652.7l0.7 -5.7M2956.9 643.4l1.4 -5" fill="none" stroke="#555" stroke-width="0.6"/>
<path d="M2912.6 646.9 L2933.6 638.3 L2980.2 671.8 L2959.2 680.4 Z" fill="#d4d4d4" stroke="#231f20" stroke-width="1.6"/>
<path d="M2945.7 655.4l1.1 -4M2935.1 652l1.3 -3.8M2926.5 652.6l1.1 -5M2958.5 678.5l1.4 -4.4M2954.4 672.2l1.6 -3.9M2965.1 667.4l1.5 -4M2924.7 651.7l0.8 -5.8M2952.9 655.4l0.7 -4.4M2948.1 666l1.3 -5.4M2943.4 658.5l1.1 -4.4M2953.7 665.5l1.3 -4.3M2932.1 647.7l0.6 -4.5M2923.3 645.7l0.7 -4.6M2969.4 666.6l0.6 -4.3M2935.7 654.4l0.7 -5M2947.5 653.1l0.8 -3.8M2949.1 671.4l0.8 -5.3M2933.6 644l0.8 -4.3M2961.8 664.8l0.9 -4.6M2942.5 659.6l1.4 -4.2M2970.6 670.2l1.2 -5.9M2940.1 645.7l1.6 -4M2935.5 645.1l0.9 -4.6M2960.6 662.5l0.8 -5.7M2953.6 656.9l0.7 -4.2M2939 658.4l1.5 -5M2933.6 643.4l0.8 -5.3M2931.5 652l0.7 -3.6M2946.8 661.5l1 -4.9M2921.4 645.7l1.3 -4.3M2940.9 655.6l0.9 -3.6M2933.8 654.5l0.7 -3.6M2925 644.4l1.5 -4.4M2946.5 660.6l0.6 -3.8M2954.2 659l1.1 -4.4M2951.2 657.6l1.4 -5.6M2963.6 663.5l1.3 -4.7M2950.5 661.6l1.1 -5.5M2933.4 642.5l1.4 -5M2966.1 671.5l0.6 -4.7M2963.7 674.4l0.8 -4.9M2950.9 670.1l1.1 -5.3M2959.6 672.9l0.6 -4.1M2967.3 669.5l1.4 -4.2M2947.8 669.1l1.3 -3.7M2955.7 656.9l0.6 -4.7" fill="none" stroke="#555" stroke-width="0.6"/>
<path d="M2883.9 658.9 L2905 650.3 L2951.6 683.7 L2930.5 692.4 Z" fill="#d4d4d4" stroke="#231f20" stroke-width="1.6"/>
<path d="M2897.4 660.1l1.5 -5.8M2908.4 672.5l0.9 -5.2M2903.2 669l1 -4.7M2920.7 674.8l1.5 -5.8M2939.7 678.6l0.8 -4.1M2923.3 676.1l1.2 -4.4M2918.6 661.7l0.6 -3.7M2922.5 680.8l1.4 -3.6M2901.6 665.2l1.4 -5.7M2895.9 660.6l1.6 -5.9M2920.5 668.8l1.3 -5.4M2907.9 664l1.1 -5.2M2920.6 677l0.7 -5.9M2900.4 664.9l1.6 -5.9M2940.6 678.8l1.4 -5.6M2900.3 657.4l1.3 -5.6M2904 654.4l0.7 -5.3M2934.7 683.8l1.6 -4.6M2928.2 675.2l1.3 -4.4M2901.4 656.7l1.5 -5.3M2921.7 667.8l0.8 -4.6M2923.2 671.5l0.7 -3.5M2904.7 664.1l0.8 -4.1M2924.7 678.1l1.5 -5.2M2925 686.5l1.2 -5.3M2913.5 665.9l0.9 -3.7M2901.2 656l1.3 -5.8M2925.5 673.4l1.4 -5.9M2945 684.4l1.1 -3.5M2925.9 674.8l1.5 -5M2893.5 656.8l1.4 -5.1M2930.8 670.6l1.5 -5.4M2925.2 666.4l1.5 -4.5M2901 669.5l1 -6M2905.9 665l1.3 -3.7M2909.5 669.5l0.7 -5M2929.5 681.4l0.9 -5.9M2913.4 674.6l0.8 -3.5M2931.4 685.3l0.9 -4.7M2907.9 663.8l1.1 -3.7M2905.5 665.7l1.4 -5.4M2925.6 672.8l1.5 -5.4M2893.3 663.1l1.3 -5.6M2938.9 676.3l0.8 -4.9M2924.6 673.7l0.7 -5.9M2907.8 664l1.6 -4.5" fill="none" stroke="#555" stroke-width="0.6"/>
<path d="M2855.2 670.8 L2876.3 662.2 L2922.9 695.7 L2901.8 704.3 Z" fill="#d4d4d4" stroke="#231f20" stroke-width="1.6"/>
<path d="M2888.5 691.8l0.9 -4M2890.1 688.1l0.9 -5.2M2918 695.6l1.5 -5.8M2898.7 695.3l0.7 -5M2863.6 673.9l1.5 -3.8M2894.3 682.5l0.6 -5.5M2897.8 698.8l1.4 -4.7M2867.4 668.8l1.3 -3.6M2908.2 696.4l1.3 -3.8M2902 687.9l0.9 -5.4M2886.7 679.9l1.1 -4.2M2902.1 697.1l0.9 -5.4M2873 674.5l0.6 -5.9M2914.8 696.5l1.2 -3.7M2863.1 671.6l1.2 -5.1M2888.5 673.4l0.8 -4.1M2861.9 671.1l1.1 -4.5M2906.4 698.5l0.9 -5.6M2872.2 670.5l0.6 -5M2876.3 666.3l1.3 -4.1M2907.1 692.3l1.3 -4.1M2903.1 700.6l1.5 -5.8M2870.2 668.8l1 -5.8M2872.1 680.1l0.6 -5.7M2868 671.2l1 -4M2892.9 687.4l1.3 -3.7M2870.2 669l1 -5.5M2898.8 695.2l0.8 -4.5M2872.7 665.4l1.2 -4.8M2912.6 695.7l1.3 -4.1M2882.7 685l0.9 -4.9M2889.9 692.5l1 -3.6M2901.1 699.8l1.4 -5.7M2908.2 699.3l0.8 -5.3M2884.5 670.7l0.6 -3.8M2894.6 696l1.2 -4.7M2888.1 690.7l0.7 -3.8M2897.1 687.1l1.4 -5.6M2873.7 679.8l0.7 -4.7M2896.4 698.4l1.3 -5.5M2906.9 696.3l1.4 -5.6M2882.3 672l0.9 -3.6M2892.8 680.4l1.6 -4.2M2903.8 695.3l1.6 -5.4M2914.7 693.7l0.9 -5M2888.7 692.1l1.6 -4.8" fill="none" stroke="#555" stroke-width="0.6"/>
<path d="M3160.7 623.2 L3182.1 614.2 L3230.4 648.7 L3209 657.7 Z" fill="#d4d4d4" stroke="#231f20" stroke-width="1.6"/>
<path d="M3192 641l0.7 -4.7M3183.9 636.6l1.4 -5.3M3200.2 631.8l1 -3.6M3204.1 636l1 -3.9M3174.9 622.1l0.7 -3.7M3177.6 624.8l1.4 -5M3204.9 634.8l0.8 -4.2M3205.8 636.1l1.2 -5.1M3173.4 629.8l1 -5.6M3208 635.4l0.9 -3.6M3192.5 632.6l1.5 -4M3168 622.6l0.6 -5.5M3186.8 621.8l0.6 -4.9M3195.9 641.7l1.5 -5.4M3196.2 641.2l0.9 -5.4M3207.7 649.9l1.3 -5.7M3213.2 651.9l1.2 -4.1M3189.7 628.7l0.7 -3.6M3185.9 626.7l0.7 -5.4M3200.3 647.1l0.9 -4.4M3218.6 643.2l1.4 -6M3217.2 649.3l1.2 -5M3186.7 633.5l1.2 -4.1M3214.7 646.7l1.3 -4.1M3180.6 635.4l1 -5.6M3197.2 636.2l1.2 -4.9M3201.5 636.4l1.2 -4.1M3185.7 637l1.5 -5.9M3195 640l1.1 -4.6M3202.6 647.9l0.7 -4.1M3177.9 628.1l0.8 -3.7M3181.1 625.2l1.2 -5M3197 634.4l1.2 -4.2M3203.4 642.4l0.8 -5.3M3218.7 650.7l1.2 -4.9M3191 627l1 -4.6M3209.9 641.2l0.8 -5.9M3204.4 632l1.6 -5.1M3174.6 623.5l0.6 -5M3204.9 638l1.4 -4.6M3204.8 637.4l1.2 -4.9M3201.4 636.6l0.7 -5.2M3196.1 632l1.6 -4.7M3189.7 639l1 -3.9M3188.2 622.4l1.3 -3.9M3218.4 652l0.7 -5.6" fill="none" stroke="#555" stroke-width="0.6"/>
<path d="M3131.6 635.9 L3153 627 L3201.3 661.5 L3179.9 670.4 Z" fill="#d4d4d4" stroke="#231f20" stroke-width="1.6"/>
<path d="M3178.9 668.1l1.5 -4.6M3167.3 646.3l0.8 -4.4M3182.2 661.2l0.7 -4.8M3168.3 650.6l1.4 -5M3183.8 664.9l1.2 -4.2M3184.1 660.2l0.6 -5.1M3156.6 641.9l0.8 -4.1M3161.8 646.7l1.2 -4.2M3167.5 646.9l1.4 -5.5M3183.2 666.3l1.1 -4.3M3171.5 657.5l1 -5.2M3178.2 662.3l0.9 -5.7M3160.8 646l1.2 -4.8M3170.1 650.3l1.5 -5.4M3181 667.8l0.6 -3.6M3162.3 638.9l0.6 -3.9M3182 659.9l0.6 -3.9M3137 638.1l0.9 -4.7M3182 649.8l1.5 -5M3182.1 651.1l0.8 -4.4M3148.4 636.2l1.5 -4.7M3160.5 650.8l1.4 -4.2M3149.6 634.8l0.8 -4M3175.1 654.8l0.8 -5.2M3179.5 656.2l1.6 -4.3M3173.8 643.3l1.1 -3.9M3165.3 656.7l0.7 -3.6M3160.6 653.4l0.8 -4.2M3169.1 644.9l0.7 -5.2M3181.3 648.8l1 -4.8M3185.7 658.1l1.4 -4.1M3153.8 633.6l0.7 -4.8M3163.3 653.2l0.9 -5.9M3179.6 659.5l1.5 -4.6M3171.2 646.3l1 -3.8M3188.6 661.1l1.3 -4.3M3160.4 643.9l1 -5.4M3156.4 652l1.1 -3.9M3159.7 638.9l1 -4.1M3165.2 645.7l1.3 -4.6M3174.1 648.1l0.7 -4.7M3152.7 644.1l1.5 -4.7M3155.4 635.7l1.2 -3.8M3144.3 638.8l0.6 -5.8M3169.2 640.8l0.6 -5.3M3148.9 632.7l1.4 -3.7" fill="none" stroke="#555" stroke-width="0.6"/>
<path d="M3102.6 648.7 L3124 639.7 L3172.3 674.2 L3150.9 683.2 Z" fill="#d4d4d4" stroke="#231f20" stroke-width="1.6"/>
<path d="M3145.1 672.6l1.4 -4.1M3151.2 671.1l1.2 -4.8M3111.9 649.9l0.8 -4.8M3137.5 659.4l1.2 -4.9M3136.1 657.4l1.4 -4.8M3166.7 674.2l1.4 -5.4M3143.4 661.6l0.8 -3.8M3129 652l1.2 -4.9M3136.3 658.3l0.8 -4.3M3158.7 672.4l0.9 -4.3M3133.2 659.5l1.2 -5.4M3156.5 669.3l1.3 -5.9M3134.1 660.1l1.3 -4.3M3139.9 656.2l1.2 -4.8M3112.7 646.6l0.9 -4.7M3129.5 646.1l1.5 -5.9M3132.9 652l0.6 -5.7M3120.2 658.3l1.5 -5.2M3158.7 669.7l0.8 -4.8M3124.3 660.7l1.1 -5.5M3141 668.5l0.7 -4.1M3132.8 667.5l1.2 -5.3M3155.8 676.2l1.3 -4.9M3129.9 648.1l0.9 -4.9M3160 675.4l1.3 -3.6M3144.3 656.9l0.8 -5.4M3156 671.9l1.2 -4.1M3135.4 660.6l1 -5M3119.6 656.2l0.7 -3.6M3148.7 668.9l1 -5.8M3146.7 665.7l0.9 -5.7M3150.3 673.8l0.8 -5.9M3126.3 649.6l1.3 -3.9M3129.8 658.4l0.9 -4.4M3126.5 660.9l0.7 -5.5M3144.3 669.5l1 -5.9M3153.9 665.1l1.4 -5.8M3141.6 655.2l1.2 -3.7M3127.1 656.9l1.2 -3.5M3122.9 645.6l1 -4.7M3149.9 663l0.7 -5.2M3137.8 667.3l1 -5.9M3126.1 654.4l0.9 -5.9M3122.9 654.3l1.1 -5.2M3126.7 644.3l0.9 -5.3M3146 667.7l1.3 -3.7" fill="none" stroke="#555" stroke-width="0.6"/>
<path d="M3073.6 661.4 L3095 652.4 L3143.3 686.9 L3121.9 695.9 Z" fill="#d4d4d4" stroke="#231f20" stroke-width="1.6"/>
<path d="M3085.3 667.2l0.9 -4M3086.9 663.3l0.6 -4.8M3097.8 661.1l0.7 -5.3M3084.1 665.8l1.1 -4.2M3114.1 672.1l1.1 -4.4M3114.1 688.3l1 -5.6M3097.9 675.1l1.1 -3.9M3120.2 691.6l1.5 -6M3119.8 681.4l1.2 -4.7M3108.7 681.4l1 -5.2M3090.4 671.1l0.7 -5.4M3098.3 667.4l1.4 -4.8M3099.6 672.3l0.6 -3.7M3120.7 692.8l1.5 -4.9M3118.5 672l1.3 -3.8M3112.3 678.3l1 -5.1M3112.5 680.4l0.8 -4.7M3108.2 675.6l0.7 -4.1M3097.3 661.6l1.1 -6M3121.1 680.9l1.4 -5.9M3101.6 671.7l1.4 -3.6M3097.4 667l1.2 -5.3M3115.5 671.5l1.3 -3.7M3130.9 686.8l1.2 -4.7M3104.6 671.2l0.8 -4M3114.7 672.3l0.6 -5M3121.5 676.5l0.8 -5.9M3102.8 676.9l1.1 -3.9M3089.8 665.8l0.8 -3.6M3118.7 678.4l0.9 -5.9M3105 673.3l1.5 -5.1M3119 682.4l1.3 -4.3M3110.9 685.1l1.3 -5M3112.3 685.1l0.8 -5.5M3116.9 677.6l0.7 -4.4M3095.1 659.7l0.6 -4.5M3120.9 675.6l0.8 -3.7M3130.3 682.6l1.3 -4M3090.9 656.3l0.8 -4.3M3095.9 655.5l0.8 -5.3M3102.8 664.6l0.7 -5.6M3135.8 683.7l1.2 -3.7M3119.7 677.1l1.4 -5.4M3130.1 689.6l1.1 -4.6M3124.1 682.4l1.2 -5.9M3122.1 688.8l1.5 -4.4" fill="none" stroke="#555" stroke-width="0.6"/>
<path d="M3044.5 674.1 L3065.9 665.1 L3114.2 699.7 L3092.8 708.6 Z" fill="#d4d4d4" stroke="#231f20" stroke-width="1.6"/>
<path d="M3075.1 693.9l1.2 -5.9M3090.7 693.7l1.4 -3.9M3079.7 683.6l0.8 -4.2M3087.5 695.6l1.2 -4.3M3084.1 699.7l1.4 -5.6M3064.9 670.5l0.9 -4.7M3090.3 699l0.8 -3.5M3058 672.7l0.6 -5M3083.3 687.4l0.7 -4.9M3070.9 680.4l0.8 -3.9M3073 682.7l1.2 -5.2M3080 692.1l0.9 -5.4M3078.1 692.3l1.3 -5.5M3098.7 700l1.6 -5.5M3066.1 680.4l1.2 -3.8M3054.9 676.3l1.3 -4.5M3101.2 693.5l1.1 -4.4M3055.7 673.8l0.7 -5.7M3053.2 672.5l1.6 -4.5M3082.4 683.2l1.6 -3.7M3085.6 691.9l0.6 -5.8M3084.4 693.9l0.7 -3.7M3084.7 699.5l1.5 -5.8M3061.4 673.4l1.4 -4.8M3090.8 689l1.2 -3.9M3053.7 676.1l1 -4.2M3067.4 668.7l1.4 -3.8M3091.1 703.7l0.8 -5M3076.4 682.9l0.9 -3.9M3077.2 681.2l1.2 -5.5M3067.9 687.7l1 -5.8M3067.9 676.1l1.1 -3.5M3060.1 672.8l0.7 -4.8M3067.1 677.3l1.2 -4.3M3062.9 670.8l1.4 -4.6M3063.7 682.7l1.2 -3.7M3074.5 674.6l1 -3.7M3099.5 702.2l0.8 -3.9M3086.6 691.1l0.7 -4M3069.5 677.6l0.6 -5.2M3100.2 693.9l1.5 -4M3080.3 691.6l1.2 -5.1M3068.3 677.8l0.8 -3.7M3074.7 693l0.7 -5.7M3072 671.8l1.6 -5.1M3064.8 687l1 -4.3" fill="none" stroke="#555" stroke-width="0.6"/>
<path d="M3015.5 686.8 L3036.9 677.9 L3085.2 712.4 L3063.8 721.4 Z" fill="#d4d4d4" stroke="#231f20" stroke-width="1.6"/>
<path d="M3030.5 694.7l0.6 -4.6M3037.8 691.1l1.5 -5.7M3064 709.4l1 -5.4M3048.9 692.6l1.3 -4.4M3040.5 699.6l0.7 -5.3M3045.6 701.5l1.4 -5M3068.3 703.7l1.3 -5.4M3073 711.7l1.2 -5.2M3052.8 700.3l1.5 -4.3M3044.6 702.1l0.9 -5.3M3030.3 682.4l0.8 -5M3056.6 706.3l1.1 -3.8M3075.4 713.5l0.7 -5M3057.6 702.4l1.1 -4.8M3076.5 707.8l1 -5.5M3067.4 708.2l1.6 -3.7M3032.8 693.2l1.4 -5.8M3044.5 701.3l1.5 -5.3M3069.8 711.7l1.5 -3.7M3049.6 689.2l1.2 -5.4M3037.7 695l1.5 -5.5M3040.9 682.7l1.2 -5.3M3069.2 703.3l0.9 -3.8M3033.2 694.4l1.2 -4.3M3025 689l1.3 -5.5M3043.9 703l1.6 -4.4M3065.1 709.4l0.6 -5.7M3066.2 705.1l0.9 -4.7M3038.7 681.9l0.7 -5.1M3042.9 684.7l0.8 -4.7M3058.7 699.4l1.3 -3.6M3048.6 704.8l1.3 -3.7M3034.2 696.8l1 -4.3M3024.8 688.4l1.2 -5.9M3071.9 712.2l0.7 -5M3063.6 711.9l1.2 -5M3078.8 711.1l0.7 -4.6M3045.3 704.8l0.8 -5.2M3025.3 684.8l1.5 -3.8M3046.9 702.1l0.7 -5.4M3037 685.5l1.2 -3.8M3032.4 686.2l0.9 -4.6M3058.2 704.3l1.5 -4.3M3034.3 691.4l1.3 -4.4M3030.9 691.9l1 -5.6M3063.4 710.3l1.1 -5" fill="none" stroke="#555" stroke-width="0.6"/>
<path d="M2986.5 699.6 L3007.9 690.6 L3056.2 725.1 L3034.8 734.1 Z" fill="#d4d4d4" stroke="#231f20" stroke-width="1.6"/>
<path d="M3012.6 711.3l1.3 -3.7M3009.2 704.7l0.9 -4.3M3019.1 717.2l0.6 -4.1M3002.4 703.9l1.4 -5.2M3011.9 697.4l0.8 -4.3M3036.6 723.1l1.4 -5.6M2990.8 700.8l0.9 -4.6M3005.2 711.4l0.7 -5.7M3007.6 708.7l0.8 -5.6M3011.3 713.4l0.8 -4.1M3040.4 715.4l1.3 -4.4M3051.4 723.7l1.2 -4.1M3014.8 717.3l1.1 -5.7M3045.1 718.7l0.8 -6M3002.5 696.5l0.8 -5.9M3037.8 717.8l1.3 -3.6M3020.4 702.3l1.4 -4.8M3022.3 713.3l1.5 -5.6M3035.3 724.6l0.8 -4.4M2997.4 699.1l1 -3.5M3044.6 718.9l1.1 -3.7M3029.2 723.1l0.9 -3.7M3023.5 715.4l0.7 -4.4M3033.5 719.8l1 -6M3028.1 722.4l0.7 -5.8M3007.3 701.4l1.4 -5.7M3031.7 727.7l1.6 -4.4M3036.8 717.2l1.2 -4.5M3032.1 724.1l1.4 -5.9M3016.4 718l1.3 -4M3030.2 728.9l1.4 -5.3M3015.4 711.7l1.4 -3.7M3034.9 717.3l1.1 -5.9M3041.2 723.8l0.8 -4.5M3017.3 713.9l1.4 -6M3045.1 720.5l1.6 -5.3M3007.2 697.2l1 -4.7M3032.1 728.5l1 -4.1M3015.1 716.8l0.9 -5.9M3020.7 709l0.8 -3.6M3029.9 714.5l1.1 -4.8M3038.1 726.2l0.7 -4.1M3018.5 704l0.9 -4.6M3029.3 722.4l0.7 -4.9M3018.2 705.6l1.3 -4.4M3005.6 698.5l0.9 -4.9" fill="none" stroke="#555" stroke-width="0.6"/>
<path d="M2957.4 712.3 L2978.8 703.3 L3027.1 737.8 L3005.7 746.8 Z" fill="#d4d4d4" stroke="#231f20" stroke-width="1.6"/>
<path d="M2992.7 723l0.6 -4.8M2988.8 714.8l0.8 -5.1M2969.2 714.3l0.7 -5.1M3011.8 730.9l1.2 -5.7M2988.3 714.8l1 -5.9M3007 726.1l1.2 -4.4M2976.8 722.8l0.8 -5.1M3001.1 728l1.5 -3.5M2968.6 714.4l1 -5.8M3005.3 735l0.8 -4.4M2988.5 716l1.3 -5M2973.8 708.6l1 -6M2979.9 718.9l1.6 -5M2995.2 723l1.2 -4.5M2978.6 720.1l0.8 -5.2M2967.1 715.9l1.1 -6M3005.2 728.3l1.3 -4M2970.6 709.3l1.1 -3.6M2967.8 715.8l0.9 -4.7M2967.8 713.6l0.7 -5.9M3020.2 734.7l0.7 -4M2977.4 706.4l0.7 -5.1M3020.3 735.2l1.4 -4.3M3016.5 737.4l1.5 -5.9M3010.2 732.3l1.3 -4.6M3013.2 738.4l1.2 -3.6M3008.1 737.5l1.3 -4.7M3012.1 729.9l0.8 -5.3M2976.8 706.1l1.5 -4.6M2976.7 706.5l0.9 -4.3M2994.1 732.4l1.4 -5.1M2982.5 709.3l0.9 -4.5M3008.6 730.5l1.6 -5.7M3003.7 732.6l1.4 -4.8M3011.7 735.1l1.4 -3.9M2992.8 735.5l1.4 -4M3010.6 730.6l0.8 -3.9M3000.8 727.8l0.8 -5.8M3002.1 738.1l1.5 -3.8M2998.3 725.1l1.5 -4.6M2978.5 717.1l1.4 -4.3M2978.9 706.7l1.5 -3.5M3016.9 737.9l0.9 -5M2970.9 711.6l1.4 -4.7M2976.9 707.6l0.8 -4.1M2976.6 707.1l0.6 -4.4" fill="none" stroke="#555" stroke-width="0.6"/>
<path d="M2928.4 725 L2949.8 716 L2998.1 750.6 L2976.7 759.5 Z" fill="#d4d4d4" stroke="#231f20" stroke-width="1.6"/>
<path d="M2976.8 749.9l1.5 -4.1M2961.3 731.2l1.4 -5.1M2953.8 740.2l1 -4.6M2972.9 743.5l1 -4.8M2977.6 741.1l0.8 -3.8M2979.4 754.2l1 -5.7M2981 740.6l1 -5.4M2983.8 752.5l1.1 -5.1M2972.6 740.5l0.8 -4.9M2970.1 744.2l1.4 -4M2949.7 730.9l1.6 -4.7M2983.4 753.3l1.4 -5.6M2946.4 725.7l1 -3.7M2959.1 737l1.1 -5.9M2948.7 726.7l0.8 -5.2M2959.4 734.7l1.1 -4.5M2970.8 739.4l0.6 -4.7M2962.3 742.4l1.1 -5.4M2983 742l1.2 -4.8M2966.4 748.3l0.8 -4.4M2954.1 729.5l1.5 -4.9M2950.4 718.6l1.1 -4.3M2971.4 742l1.2 -5.8M2956.2 734.1l1.3 -4.9M2978 753.3l0.8 -3.7M2982.6 750.8l1.5 -5.5M2965.8 737.3l0.9 -3.9M2977.3 749l1.2 -6M2970.9 736.8l1.2 -4.5M2986 745.4l0.8 -5.8M2960.2 731.9l1.3 -4.6M2967.1 736.4l1.2 -5.8M2969.7 734.1l1 -5.3M2948 723.3l1.1 -4.2M2950.9 725.8l0.9 -4.1M2962.1 741.7l1.5 -5.1M2977.9 745.1l1 -4.6M2952.8 727.1l1.4 -5.8M2950.7 720.7l1.5 -4.1M2961.6 744.5l0.9 -3.9M2966.9 738.1l1.1 -4.8M2978 745.9l1.3 -5.3M2968.1 734.2l1.2 -3.8M2953.2 739.6l1.3 -4.1M2962.3 727.3l1.1 -4.7M2956.4 722.8l0.9 -5.1" fill="none" stroke="#555" stroke-width="0.6"/>
<g fill="#d4d4d4" stroke="#231f20" stroke-width="1.9">
<path d="M2838.2 637.2 A7.8 3.3 0 0 1 2853.7 637.2 L2853.7 658.2 A7.8 3.3 0 0 1 2838.2 658.2 Z"/><path d="M2838.2 637.2 A7.8 3.3 0 0 0 2853.7 637.2" fill="none"/>
<path d="M2887.2 617.2 A7.8 3.3 0 0 1 2902.7 617.2 L2902.7 638.2 A7.8 3.3 0 0 1 2887.2 638.2 Z"/><path d="M2887.2 617.2 A7.8 3.3 0 0 0 2902.7 617.2" fill="none"/>
<path d="M2933.8 599.2 A7.8 3.3 0 0 1 2949.3 599.2 L2949.3 620.2 A7.8 3.3 0 0 1 2933.8 620.2 Z"/><path d="M2933.8 599.2 A7.8 3.3 0 0 0 2949.3 599.2" fill="none"/>
<path d="M2980.3 579.9 A7.8 3.3 0 0 1 2995.8 579.9 L2995.8 600.9 A7.8 3.3 0 0 1 2980.3 600.9 Z"/><path d="M2980.3 579.9 A7.8 3.3 0 0 0 2995.8 579.9" fill="none"/>
<path d="M3026.9 559.6 A7.8 3.3 0 0 1 3042.4 559.6 L3042.4 580.6 A7.8 3.3 0 0 1 3026.9 580.6 Z"/><path d="M3026.9 559.6 A7.8 3.3 0 0 0 3042.4 559.6" fill="none"/>
<path d="M3072.8 541.3 A7.8 3.3 0 0 1 3088.3 541.3 L3088.3 562.3 A7.8 3.3 0 0 1 3072.8 562.3 Z"/><path d="M3072.8 541.3 A7.8 3.3 0 0 0 3088.3 541.3" fill="none"/>
<path d="M3151.9 589.6 A7.8 3.3 0 0 1 3167.4 589.6 L3167.4 610.6 A7.8 3.3 0 0 1 3151.9 610.6 Z"/><path d="M3151.9 589.6 A7.8 3.3 0 0 0 3167.4 589.6" fill="none"/>
<path d="M3105.3 609.6 A7.8 3.3 0 0 1 3120.8 609.6 L3120.8 630.6 A7.8 3.3 0 0 1 3105.3 630.6 Z"/><path d="M3105.3 609.6 A7.8 3.3 0 0 0 3120.8 609.6" fill="none"/>
<path d="M3058 631 A7.8 3.3 0 0 1 3073.5 631 L3073.5 652 A7.8 3.3 0 0 1 3058 652 Z"/><path d="M3058 631 A7.8 3.3 0 0 0 3073.5 631" fill="none"/>
<path d="M3011.4 651.7 A7.8 3.3 0 0 1 3026.9 651.7 L3026.9 672.7 A7.8 3.3 0 0 1 3011.4 672.7 Z"/><path d="M3011.4 651.7 A7.8 3.3 0 0 0 3026.9 651.7" fill="none"/>
<path d="M2963.8 671.4 A7.8 3.3 0 0 1 2979.3 671.4 L2979.3 692.4 A7.8 3.3 0 0 1 2963.8 692.4 Z"/><path d="M2963.8 671.4 A7.8 3.3 0 0 0 2979.3 671.4" fill="none"/>
<path d="M2914.1 693.1 A7.8 3.3 0 0 1 2929.6 693.1 L2929.6 714.1 A7.8 3.3 0 0 1 2914.1 714.1 Z"/><path d="M2914.1 693.1 A7.8 3.3 0 0 0 2929.6 693.1" fill="none"/>
<path d="M3229.9 638.6 A7.8 3.3 0 0 1 3245.4 638.6 L3245.4 659.6 A7.8 3.3 0 0 1 3229.9 659.6 Z"/><path d="M3229.9 638.6 A7.8 3.3 0 0 0 3245.4 638.6" fill="none"/>
<path d="M3184.7 660.3 A7.8 3.3 0 0 1 3200.2 660.3 L3200.2 681.3 A7.8 3.3 0 0 1 3184.7 681.3 Z"/><path d="M3184.7 660.3 A7.8 3.3 0 0 0 3200.2 660.3" fill="none"/>
<path d="M3134.6 681.7 A7.8 3.3 0 0 1 3150.1 681.7 L3150.1 702.7 A7.8 3.3 0 0 1 3134.6 702.7 Z"/><path d="M3134.6 681.7 A7.8 3.3 0 0 0 3150.1 681.7" fill="none"/>
<path d="M3087.3 703.5 A7.8 3.3 0 0 1 3102.8 703.5 L3102.8 724.5 A7.8 3.3 0 0 1 3087.3 724.5 Z"/><path d="M3087.3 703.5 A7.8 3.3 0 0 0 3102.8 703.5" fill="none"/>
<path d="M3040.7 725.2 A7.8 3.3 0 0 1 3056.2 725.2 L3056.2 746.2 A7.8 3.3 0 0 1 3040.7 746.2 Z"/><path d="M3040.7 725.2 A7.8 3.3 0 0 0 3056.2 725.2" fill="none"/>
<path d="M2992.4 749.4 A7.8 3.3 0 0 1 3007.9 749.4 L3007.9 770.4 A7.8 3.3 0 0 1 2992.4 770.4 Z"/><path d="M2992.4 749.4 A7.8 3.3 0 0 0 3007.9 749.4" fill="none"/>
</g>
<ellipse cx="2816.8" cy="989.9" rx="105.3" ry="67.3" fill="none" stroke="#231f20" stroke-width="1.8"/>
<ellipse cx="2817.5" cy="989.9" rx="69" ry="43.8" fill="none" stroke="#231f20" stroke-width="1.8"/>
<g fill="#d4d4d4" stroke="#231f20" stroke-width="1.7" stroke-linejoin="round">
<path d="M2809.1 983L2805 985.4L2808.9 989L2805.5 989.9L2804.8 994.6L2801.7 994.6L2801.9 998.2L2798.2 998.3L2797.1 1001.8L2793.8 1000.3L2792.2 1004.8L2788 1003.8L2786 1007.5L2783.8 1003.7L2780.9 1005L2779.5 1001L2776.2 1004.1L2773.7 1001.3L2770.1 1001.6L2769.1 997.9L2762.6 998L2764.2 994.3L2760.8 992L2762.5 986.9L2759.6 983.1L2763 980.6L2762.4 976.6L2766.9 974.4L2764.6 969.9L2768.1 968.8L2768.8 962.9L2773.8 962.4L2777.4 960.1L2781.1 962.2L2784.1 959.8L2787.2 962.6L2791.4 961.3L2792.4 965.4L2795.1 964.8L2795.9 968.3L2801.5 967.4L2800.8 971.1L2804.9 972.1L2806.7 975.2L2809.1 983Z"/>
<path d="M2870.8 969.2L2867.3 972.3L2868.8 975.5L2863.3 977.1L2864.4 981.6L2859.1 981.4L2859.4 984.5L2855.4 983.5L2853.1 987.5L2849.9 984.8L2846.3 987.2L2844.4 984.9L2840.4 988.4L2837.7 985.7L2833.9 987.6L2832.9 982.3L2828.1 984.9L2825.9 981.4L2821.9 981.6L2822.8 976.4L2818.7 976.3L2819.2 973.1L2814.5 971.3L2819 968.1L2815.3 965.1L2819.6 962.8L2818.7 958.9L2824.4 958.6L2823.9 954.5L2827.5 955L2829 952.6L2833 953.9L2836 952.1L2840.2 952.3L2842.5 949.3L2844.8 953.2L2847.6 950.3L2848.6 953.7L2853.4 952L2854.2 955.4L2858.3 954L2858.2 957.6L2863.8 957.1L2863.1 960.5L2867.9 961.7L2864.5 965.7L2870.8 969.2Z"/>
<path d="M2850.5 1002L2845.6 1005.2L2848.7 1010.2L2843.4 1011.7L2843.2 1015.2L2839 1013.4L2837.5 1018.1L2834 1016.2L2830.7 1017.9L2827.3 1015.7L2823.6 1018.7L2822.2 1016.3L2819.9 1019.7L2817.1 1015.2L2813.8 1018.3L2813.1 1014.5L2806.7 1016L2806.8 1013L2803.8 1010.7L2805.4 1007.2L2800.8 1005.6L2803.6 1001.9L2804.3 998.2L2807.8 995.8L2805.7 992.2L2809.5 991.6L2810.6 986.5L2814.5 986L2818.9 983.1L2823.5 986.8L2827 984.5L2829.7 986.9L2832.5 984.5L2833.9 989.5L2838.7 988.1L2840.5 990.9L2844.9 991.4L2844.5 995.8L2848.5 997.1L2848.5 999L2850.5 1002Z"/>
</g><g fill="#d4d4d4" stroke="#231f20" stroke-width="1.9">
<path d="M2815.2 914.6 A8.5 3.6 0 0 1 2832.2 914.6 L2832.2 937.6 A8.5 3.6 0 0 1 2815.2 937.6 Z"/><path d="M2815.2 914.6 A8.5 3.6 0 0 0 2832.2 914.6" fill="none"/>
<path d="M2863.5 922.2 A8.5 3.6 0 0 1 2880.5 922.2 L2880.5 945.2 A8.5 3.6 0 0 1 2863.5 945.2 Z"/><path d="M2863.5 922.2 A8.5 3.6 0 0 0 2880.5 922.2" fill="none"/>
<path d="M2768.6 923.9 A8.5 3.6 0 0 1 2785.6 923.9 L2785.6 946.9 A8.5 3.6 0 0 1 2768.6 946.9 Z"/><path d="M2768.6 923.9 A8.5 3.6 0 0 0 2785.6 923.9" fill="none"/>
<path d="M2887.7 944.6 A8.5 3.6 0 0 1 2904.7 944.6 L2904.7 967.6 A8.5 3.6 0 0 1 2887.7 967.6 Z"/><path d="M2887.7 944.6 A8.5 3.6 0 0 0 2904.7 944.6" fill="none"/>
<path d="M2732.4 947.4 A8.5 3.6 0 0 1 2749.4 947.4 L2749.4 970.4 A8.5 3.6 0 0 1 2732.4 970.4 Z"/><path d="M2732.4 947.4 A8.5 3.6 0 0 0 2749.4 947.4" fill="none"/>
<path d="M2891.1 974 A8.5 3.6 0 0 1 2908.1 974 L2908.1 997 A8.5 3.6 0 0 1 2891.1 997 Z"/><path d="M2891.1 974 A8.5 3.6 0 0 0 2908.1 974" fill="none"/>
<path d="M2721 980.2 A8.5 3.6 0 0 1 2738 980.2 L2738 1003.2 A8.5 3.6 0 0 1 2721 1003.2 Z"/><path d="M2721 980.2 A8.5 3.6 0 0 0 2738 980.2" fill="none"/>
<path d="M2856.6 1007.8 A8.5 3.6 0 0 1 2873.6 1007.8 L2873.6 1030.8 A8.5 3.6 0 0 1 2856.6 1030.8 Z"/><path d="M2856.6 1007.8 A8.5 3.6 0 0 0 2873.6 1007.8" fill="none"/>
<path d="M2744.5 1008.5 A8.5 3.6 0 0 1 2761.5 1008.5 L2761.5 1031.5 A8.5 3.6 0 0 1 2744.5 1031.5 Z"/><path d="M2744.5 1008.5 A8.5 3.6 0 0 0 2761.5 1008.5" fill="none"/>
<path d="M2798 1020.9 A8.5 3.6 0 0 1 2815 1020.9 L2815 1043.9 A8.5 3.6 0 0 1 2798 1043.9 Z"/><path d="M2798 1020.9 A8.5 3.6 0 0 0 2815 1020.9" fill="none"/>
</g>
<ellipse cx="2984.2" cy="864" rx="98.4" ry="63.8" fill="none" stroke="#231f20" stroke-width="1.8"/>
<ellipse cx="2984.2" cy="868.5" rx="64.9" ry="39.7" fill="none" stroke="#231f20" stroke-width="1.8"/>
<g fill="#d4d4d4" stroke="#231f20" stroke-width="1.7" stroke-linejoin="round">
<path d="M2981.8 864.7L2980 866.4L2982.1 870.6L2977.8 874.2L2977.7 878.9L2973.3 879.6L2972.4 882.9L2967.7 880.5L2964.9 883.7L2960.9 883.1L2959.1 887.9L2955.4 886L2950.6 887.1L2947.8 882.9L2942.9 884.1L2940.9 880.4L2936.7 879.3L2938.8 874.5L2934.7 872.7L2935.5 868.6L2931.7 867.2L2933.3 863.2L2931.2 859.8L2935.7 859.1L2933.8 855.6L2937.9 853.6L2937.4 850.2L2942 850.6L2944.2 846.3L2949.1 848.4L2951.5 843.3L2953.8 844.7L2955.2 840.3L2958.1 843.2L2962.1 840.9L2963.3 844.1L2967.1 843.3L2969 847L2972.8 846.4L2972.5 850.4L2975.9 850.3L2974.2 856L2977.4 857.1L2976.6 861.3L2981.8 864.7Z"/>
<path d="M3030 843.3L3025.9 846.5L3027.9 848.8L3025.6 850.5L3026.6 855.9L3021.1 854.6L3019.2 856.9L3015.7 855.7L3016.6 859.7L3013.9 858.7L3012.4 861.8L3006.9 858.1L3004.7 862.1L3002.4 859.4L2998.6 862.6L2995.7 859L2990.7 861.1L2987.4 857.6L2982.7 857L2982.9 851.9L2976.6 849.9L2981.2 844.7L2979.9 841.9L2982 839.4L2980.5 834.7L2984.6 833.1L2984.3 829.3L2990 829.4L2991.8 824.7L2994.5 826.2L2996.5 823.3L2999.9 825.2L3002.8 824.6L3004.6 828.6L3007.8 826L3010.3 827.6L3014.4 825.6L3015.6 830.4L3020.3 829.4L3021.5 833.5L3027.1 833.6L3026.1 837.1L3030 843.3Z"/>
<path d="M3026.9 877.8L3024.9 879.6L3026 881.8L3023 883.3L3024.2 886.3L3019.2 886.5L3018 890.6L3014.5 891.2L3012.8 894.8L3008.1 892.3L3005.1 895.1L3001.9 892.2L2998 895.9L2994.8 890.9L2990 892.9L2988.4 888.9L2984.4 890.1L2983.8 886.9L2979.8 885.1L2981.5 882L2976.7 881L2979.5 878.3L2975.2 875.2L2979.4 872.3L2977.9 868.9L2982.1 868.7L2984 864.9L2987.8 864.7L2990.4 862.2L2994.4 864.9L2996.4 861.4L2998.5 863.8L3000.1 861L3002.1 863.4L3004.2 860.6L3007.1 863.8L3010.1 862.3L3011.7 865.7L3014.8 864.3L3016.8 867.1L3021.7 867.5L3021.9 869.7L3025.8 872.5L3023.5 874.8L3026.9 877.8Z"/>
</g><g fill="#d4d4d4" stroke="#231f20" stroke-width="1.9">
<path d="M2978.1 800 A8.5 3.6 0 0 1 2995.1 800 L2995.1 823 A8.5 3.6 0 0 1 2978.1 823 Z"/><path d="M2978.1 800 A8.5 3.6 0 0 0 2995.1 800" fill="none"/>
<path d="M3024 806.6 A8.5 3.6 0 0 1 3041 806.6 L3041 829.6 A8.5 3.6 0 0 1 3024 829.6 Z"/><path d="M3024 806.6 A8.5 3.6 0 0 0 3041 806.6" fill="none"/>
<path d="M2935 807.6 A8.5 3.6 0 0 1 2952 807.6 L2952 830.6 A8.5 3.6 0 0 1 2935 830.6 Z"/><path d="M2935 807.6 A8.5 3.6 0 0 0 2952 807.6" fill="none"/>
<path d="M3048.2 826.6 A8.5 3.6 0 0 1 3065.2 826.6 L3065.2 849.6 A8.5 3.6 0 0 1 3048.2 849.6 Z"/><path d="M3048.2 826.6 A8.5 3.6 0 0 0 3065.2 826.6" fill="none"/>
<path d="M2903.2 829 A8.5 3.6 0 0 1 2920.2 829 L2920.2 852 A8.5 3.6 0 0 1 2903.2 852 Z"/><path d="M2903.2 829 A8.5 3.6 0 0 0 2920.2 829" fill="none"/>
<path d="M3054 851.8 A8.5 3.6 0 0 1 3071 851.8 L3071 874.8 A8.5 3.6 0 0 1 3054 874.8 Z"/><path d="M3054 851.8 A8.5 3.6 0 0 0 3071 851.8" fill="none"/>
<path d="M2895.3 857.7 A8.5 3.6 0 0 1 2912.3 857.7 L2912.3 880.7 A8.5 3.6 0 0 1 2895.3 880.7 Z"/><path d="M2895.3 857.7 A8.5 3.6 0 0 0 2912.3 857.7" fill="none"/>
<path d="M3024 881.8 A8.5 3.6 0 0 1 3041 881.8 L3041 904.8 A8.5 3.6 0 0 1 3024 904.8 Z"/><path d="M3024 881.8 A8.5 3.6 0 0 0 3041 881.8" fill="none"/>
<path d="M2919.4 882.5 A8.5 3.6 0 0 1 2936.4 882.5 L2936.4 905.5 A8.5 3.6 0 0 1 2919.4 905.5 Z"/><path d="M2919.4 882.5 A8.5 3.6 0 0 0 2936.4 882.5" fill="none"/>
<path d="M2970.5 893.2 A8.5 3.6 0 0 1 2987.5 893.2 L2987.5 916.2 A8.5 3.6 0 0 1 2970.5 916.2 Z"/><path d="M2970.5 893.2 A8.5 3.6 0 0 0 2987.5 893.2" fill="none"/>
</g>
<path d="M2853.3 478.7 l-2.5 11 l7.5 1.5 l-0.5 -11" fill="#d4d4d4" stroke="#231f20" stroke-width="1"/>
<path d="M2863.3 482.1 l-2.5 11 l7.5 1.5 l-0.5 -11" fill="#d4d4d4" stroke="#231f20" stroke-width="1"/>
<rect x="2854.3" y="462.6" width="5.2" height="7" rx="2" fill="#d4d4d4" stroke="#231f20" stroke-width="0.9"/>
<rect x="2846.9" y="471.6" width="5.2" height="7" rx="2" fill="#d4d4d4" stroke="#231f20" stroke-width="0.9"/>
<path d="M2864.4 456.1 L2890 464 L2872.7 484.7 L2847.9 476.1 Z" fill="#d4d4d4" stroke="#231f20" stroke-width="1.2"/>
<rect x="2842.3" y="478.6" width="5.2" height="7" rx="2" fill="#d4d4d4" stroke="#231f20" stroke-width="0.9"/>
<rect x="2891.1" y="473.6" width="5.2" height="7" rx="2" fill="#d4d4d4" stroke="#231f20" stroke-width="0.9"/>
<rect x="2884.2" y="481.9" width="5.2" height="7" rx="2" fill="#d4d4d4" stroke="#231f20" stroke-width="0.9"/>
<rect x="2876.5" y="491.2" width="5.2" height="7" rx="2" fill="#d4d4d4" stroke="#231f20" stroke-width="0.9"/>
<path d="M2916.2 518.3 l-2.5 11 l7.5 1.5 l-0.5 -11" fill="#d4d4d4" stroke="#231f20" stroke-width="1"/>
<path d="M2926.3 520.2 l-2.5 11 l7.5 1.5 l-0.5 -11" fill="#d4d4d4" stroke="#231f20" stroke-width="1"/>
<rect x="2912.2" y="502.4" width="5.2" height="7" rx="2" fill="#d4d4d4" stroke="#231f20" stroke-width="0.9"/>
<rect x="2907.4" y="511.9" width="5.2" height="7" rx="2" fill="#d4d4d4" stroke="#231f20" stroke-width="0.9"/>
<path d="M2921.4 495.8 L2949 499.2 L2935.9 521.7 L2910.7 516.8 Z" fill="#d4d4d4" stroke="#231f20" stroke-width="1.2"/>
<rect x="2905.1" y="519.3" width="5.2" height="7" rx="2" fill="#d4d4d4" stroke="#231f20" stroke-width="0.9"/>
<rect x="2950.6" y="509" width="5.2" height="7" rx="2" fill="#d4d4d4" stroke="#231f20" stroke-width="0.9"/>
<rect x="2945.3" y="517.9" width="5.2" height="7" rx="2" fill="#d4d4d4" stroke="#231f20" stroke-width="0.9"/>
<rect x="2939.4" y="528" width="5.2" height="7" rx="2" fill="#d4d4d4" stroke="#231f20" stroke-width="0.9"/>
<path d="M2824.3 528.5 l-2.5 11 l7.5 1.5 l-0.5 -11" fill="#d4d4d4" stroke="#231f20" stroke-width="1"/>
<path d="M2834.7 531.7 l-2.5 11 l7.5 1.5 l-0.5 -11" fill="#d4d4d4" stroke="#231f20" stroke-width="1"/>
<rect x="2824.1" y="512.6" width="5.2" height="7" rx="2" fill="#d4d4d4" stroke="#231f20" stroke-width="0.9"/>
<rect x="2817.1" y="521.6" width="5.2" height="7" rx="2" fill="#d4d4d4" stroke="#231f20" stroke-width="0.9"/>
<path d="M2834.1 506.1 L2859.9 513.4 L2844.4 534.1 L2818.5 526.1 Z" fill="#d4d4d4" stroke="#231f20" stroke-width="1.2"/>
<rect x="2812.9" y="528.6" width="5.2" height="7" rx="2" fill="#d4d4d4" stroke="#231f20" stroke-width="0.9"/>
<rect x="2861.3" y="522.9" width="5.2" height="7" rx="2" fill="#d4d4d4" stroke="#231f20" stroke-width="0.9"/>
<rect x="2855.1" y="531.2" width="5.2" height="7" rx="2" fill="#d4d4d4" stroke="#231f20" stroke-width="0.9"/>
<rect x="2848.1" y="540.5" width="5.2" height="7" rx="2" fill="#d4d4d4" stroke="#231f20" stroke-width="0.9"/>
<path d="M2891.6 567.2 l-2.5 11 l7.5 1.5 l-0.5 -11" fill="#d4d4d4" stroke="#231f20" stroke-width="1"/>
<path d="M2902 570 l-2.5 11 l7.5 1.5 l-0.5 -11" fill="#d4d4d4" stroke="#231f20" stroke-width="1"/>
<rect x="2890.8" y="550.7" width="5.2" height="7" rx="2" fill="#d4d4d4" stroke="#231f20" stroke-width="0.9"/>
<rect x="2884.2" y="560.2" width="5.2" height="7" rx="2" fill="#d4d4d4" stroke="#231f20" stroke-width="0.9"/>
<path d="M2900.7 544.1 L2925.5 550.3 L2911.7 572 L2885.8 565.1 Z" fill="#d4d4d4" stroke="#231f20" stroke-width="1.2"/>
<rect x="2880.2" y="567.6" width="5.2" height="7" rx="2" fill="#d4d4d4" stroke="#231f20" stroke-width="0.9"/>
<rect x="2927" y="560" width="5.2" height="7" rx="2" fill="#d4d4d4" stroke="#231f20" stroke-width="0.9"/>
<rect x="2921.5" y="568.7" width="5.2" height="7" rx="2" fill="#d4d4d4" stroke="#231f20" stroke-width="0.9"/>
<rect x="2915.3" y="578.5" width="5.2" height="7" rx="2" fill="#d4d4d4" stroke="#231f20" stroke-width="0.9"/>
<path d="M2810.2 584.6 l-2.5 11 l7.5 1.5 l-0.5 -11" fill="#d4d4d4" stroke="#231f20" stroke-width="1"/>
<path d="M2820.1 585.7 l-2.5 11 l7.5 1.5 l-0.5 -11" fill="#d4d4d4" stroke="#231f20" stroke-width="1"/>
<rect x="2806.8" y="568.2" width="5.2" height="7" rx="2" fill="#d4d4d4" stroke="#231f20" stroke-width="0.9"/>
<rect x="2801.7" y="578.3" width="5.2" height="7" rx="2" fill="#d4d4d4" stroke="#231f20" stroke-width="0.9"/>
<path d="M2816.1 561.3 L2842.7 564.1 L2829.6 586.5 L2804.7 583.8 Z" fill="#d4d4d4" stroke="#231f20" stroke-width="1.2"/>
<rect x="2799.1" y="586.3" width="5.2" height="7" rx="2" fill="#d4d4d4" stroke="#231f20" stroke-width="0.9"/>
<rect x="2844.3" y="573.9" width="5.2" height="7" rx="2" fill="#d4d4d4" stroke="#231f20" stroke-width="0.9"/>
<rect x="2839" y="582.8" width="5.2" height="7" rx="2" fill="#d4d4d4" stroke="#231f20" stroke-width="0.9"/>
<rect x="2833.1" y="592.9" width="5.2" height="7" rx="2" fill="#d4d4d4" stroke="#231f20" stroke-width="0.9"/>
<path d="M3239 565.1 v7 M3247.4 580.7 v8 M3282.4 576.2 v8 M3241.5 568.1 v7" fill="none" stroke="#231f20" stroke-width="1"/>
<path d="M3238 565.1 L3274.2 561.7 L3283.9 576.2 L3245.9 580.7 Z" fill="#d4d4d4" stroke="#231f20" stroke-width="1.2"/>
<path d="M3246.9 580.7 v9 h3 v-8 M3282.9 576.2 v9 h-3 v-8.5" fill="none" stroke="#231f20" stroke-width="1"/>
<rect x="3250.1" y="586.9" width="5.2" height="7" rx="2" fill="#d4d4d4" stroke="#231f20" stroke-width="0.9"/>
<rect x="3264.2" y="585.2" width="5.2" height="7" rx="2" fill="#d4d4d4" stroke="#231f20" stroke-width="0.9"/>
<rect x="3275.6" y="583.9" width="5.2" height="7" rx="2" fill="#d4d4d4" stroke="#231f20" stroke-width="0.9"/>
<path d="M3298.7 558.2 v7 M3305 573.8 v8 M3341.7 569.3 v8 M3301.2 561.2 v7" fill="none" stroke="#231f20" stroke-width="1"/>
<path d="M3297.7 558.2 L3334.6 554.4 L3343.2 569.3 L3303.5 573.8 Z" fill="#d4d4d4" stroke="#231f20" stroke-width="1.2"/>
<path d="M3304.5 573.8 v9 h3 v-8 M3342.2 569.3 v9 h-3 v-8.5" fill="none" stroke="#231f20" stroke-width="1"/>
<rect x="3308.1" y="580" width="5.2" height="7" rx="2" fill="#d4d4d4" stroke="#231f20" stroke-width="0.9"/>
<rect x="3322.8" y="578.3" width="5.2" height="7" rx="2" fill="#d4d4d4" stroke="#231f20" stroke-width="0.9"/>
<rect x="3334.7" y="577" width="5.2" height="7" rx="2" fill="#d4d4d4" stroke="#231f20" stroke-width="0.9"/>
<path d="M3352.9 592.4 v7 M3360.3 607.9 v8 M3396.9 603.1 v8 M3355.4 595.4 v7" fill="none" stroke="#231f20" stroke-width="1"/>
<path d="M3351.9 592.4 L3389.1 589 L3398.4 603.1 L3358.8 607.9 Z" fill="#d4d4d4" stroke="#231f20" stroke-width="1.2"/>
<path d="M3359.8 607.9 v9 h3 v-8 M3397.4 603.1 v9 h-3 v-8.5" fill="none" stroke="#231f20" stroke-width="1"/>
<rect x="3363.3" y="614.1" width="5.2" height="7" rx="2" fill="#d4d4d4" stroke="#231f20" stroke-width="0.9"/>
<rect x="3378" y="612.3" width="5.2" height="7" rx="2" fill="#d4d4d4" stroke="#231f20" stroke-width="0.9"/>
<rect x="3389.9" y="610.8" width="5.2" height="7" rx="2" fill="#d4d4d4" stroke="#231f20" stroke-width="0.9"/>
<path d="M3296.6 603.8 v7 M3305 621.7 v8 M3340 614.2 v8 M3299.1 606.8 v7" fill="none" stroke="#231f20" stroke-width="1"/>
<path d="M3295.6 603.8 L3331.1 599.3 L3341.5 614.2 L3303.5 621.7 Z" fill="#d4d4d4" stroke="#231f20" stroke-width="1.2"/>
<path d="M3304.5 621.7 v9 h3 v-8 M3340.5 614.2 v9 h-3 v-8.5" fill="none" stroke="#231f20" stroke-width="1"/>
<rect x="3307.8" y="627.4" width="5.2" height="7" rx="2" fill="#d4d4d4" stroke="#231f20" stroke-width="0.9"/>
<rect x="3321.8" y="624.6" width="5.2" height="7" rx="2" fill="#d4d4d4" stroke="#231f20" stroke-width="0.9"/>
<rect x="3333.2" y="622.3" width="5.2" height="7" rx="2" fill="#d4d4d4" stroke="#231f20" stroke-width="0.9"/>
<path d="M3130.6 773.7 v7 M3139.7 787.1 v8 M3174.7 778.9 v8 M3133.1 776.7 v7" fill="none" stroke="#231f20" stroke-width="1"/>
<path d="M3129.6 773.7 L3165.8 765.7 L3176.2 778.9 L3138.2 787.1 Z" fill="#d4d4d4" stroke="#231f20" stroke-width="1.2"/>
<path d="M3139.2 787.1 v9 h3 v-8 M3175.2 778.9 v9 h-3 v-8.5" fill="none" stroke="#231f20" stroke-width="1"/>
<rect x="3142.5" y="792.7" width="5.2" height="7" rx="2" fill="#d4d4d4" stroke="#231f20" stroke-width="0.9"/>
<rect x="3156.5" y="789.6" width="5.2" height="7" rx="2" fill="#d4d4d4" stroke="#231f20" stroke-width="0.9"/>
<rect x="3167.9" y="787.1" width="5.2" height="7" rx="2" fill="#d4d4d4" stroke="#231f20" stroke-width="0.9"/>
<path d="M3195.5 744 v7 M3204.6 757.8 v8 M3239.6 749.2 v8 M3198 747 v7" fill="none" stroke="#231f20" stroke-width="1"/>
<path d="M3194.5 744 L3230.4 736.4 L3241.1 749.2 L3203.1 757.8 Z" fill="#d4d4d4" stroke="#231f20" stroke-width="1.2"/>
<path d="M3204.1 757.8 v9 h3 v-8 M3240.1 749.2 v9 h-3 v-8.5" fill="none" stroke="#231f20" stroke-width="1"/>
<rect x="3207.3" y="763.3" width="5.2" height="7" rx="2" fill="#d4d4d4" stroke="#231f20" stroke-width="0.9"/>
<rect x="3221.4" y="760.1" width="5.2" height="7" rx="2" fill="#d4d4d4" stroke="#231f20" stroke-width="0.9"/>
<rect x="3232.8" y="757.5" width="5.2" height="7" rx="2" fill="#d4d4d4" stroke="#231f20" stroke-width="0.9"/>
<path d="M3252.9 712.3 v8 M3288.4 721.6 v8 M3297.7 707.8 v8" fill="none" stroke="#231f20" stroke-width="1"/>
<path d="M3262.5 699.5 L3298.7 707.8 L3289.4 721.6 L3251.4 712.3 Z" fill="#d4d4d4" stroke="#231f20" stroke-width="1.2"/>
<rect x="3253.4" y="720.4" width="5.2" height="7" rx="2" fill="#d4d4d4" stroke="#231f20" stroke-width="0.9"/>
<rect x="3264" y="723" width="5.2" height="7" rx="2" fill="#d4d4d4" stroke="#231f20" stroke-width="0.9"/>
<rect x="3279.2" y="726.7" width="5.2" height="7" rx="2" fill="#d4d4d4" stroke="#231f20" stroke-width="0.9"/>
<path d="M2700.8 321.5 L2591.8 715.6M2702.2 326.3 L2593.2 720.4M2703.6 331.1 L2594.5 725.2M2592.8 719 L2758.1 1084.2M2594.5 726.6 L2761.2 1093.1M2596.3 734.2 L2764.3 1102.1M2770.9 1084.9 L3386.7 708.8M2770.9 1093.5 L3386.7 717.4M2770.9 1102.1 L3386.7 726.1M3390.9 708.8 L3823 463M3390.9 717.4 L3823 472.6M3390.9 726.1 L3823 482.3" fill="none" stroke="#555" stroke-width="0.75"/>
<g fill="#d4d4d4" stroke="#231f20" stroke-width="1.8" stroke-linejoin="miter">
<path d="M2697 312.9 L2705.3 311.5 L2720.2 439.2 L2712.2 440.9 Z"/>
<path d="M2584.9 700 L2591.8 699 L2615.9 847.8 L2609 849.1 Z"/>
<path d="M2759.2 1070 L2766.8 1069 L2787.5 1231.9 L2779.9 1232.9 Z"/>
<path d="M3386.7 690.5 L3394.3 689.8 L3387.7 839.3 L3379.8 839.3 Z"/>
<path d="M3824.7 451.9 L3832.6 453 L3811.9 589.3 L3804 588.3 Z"/>
</g>
</g>
</svg>
</body></html>
